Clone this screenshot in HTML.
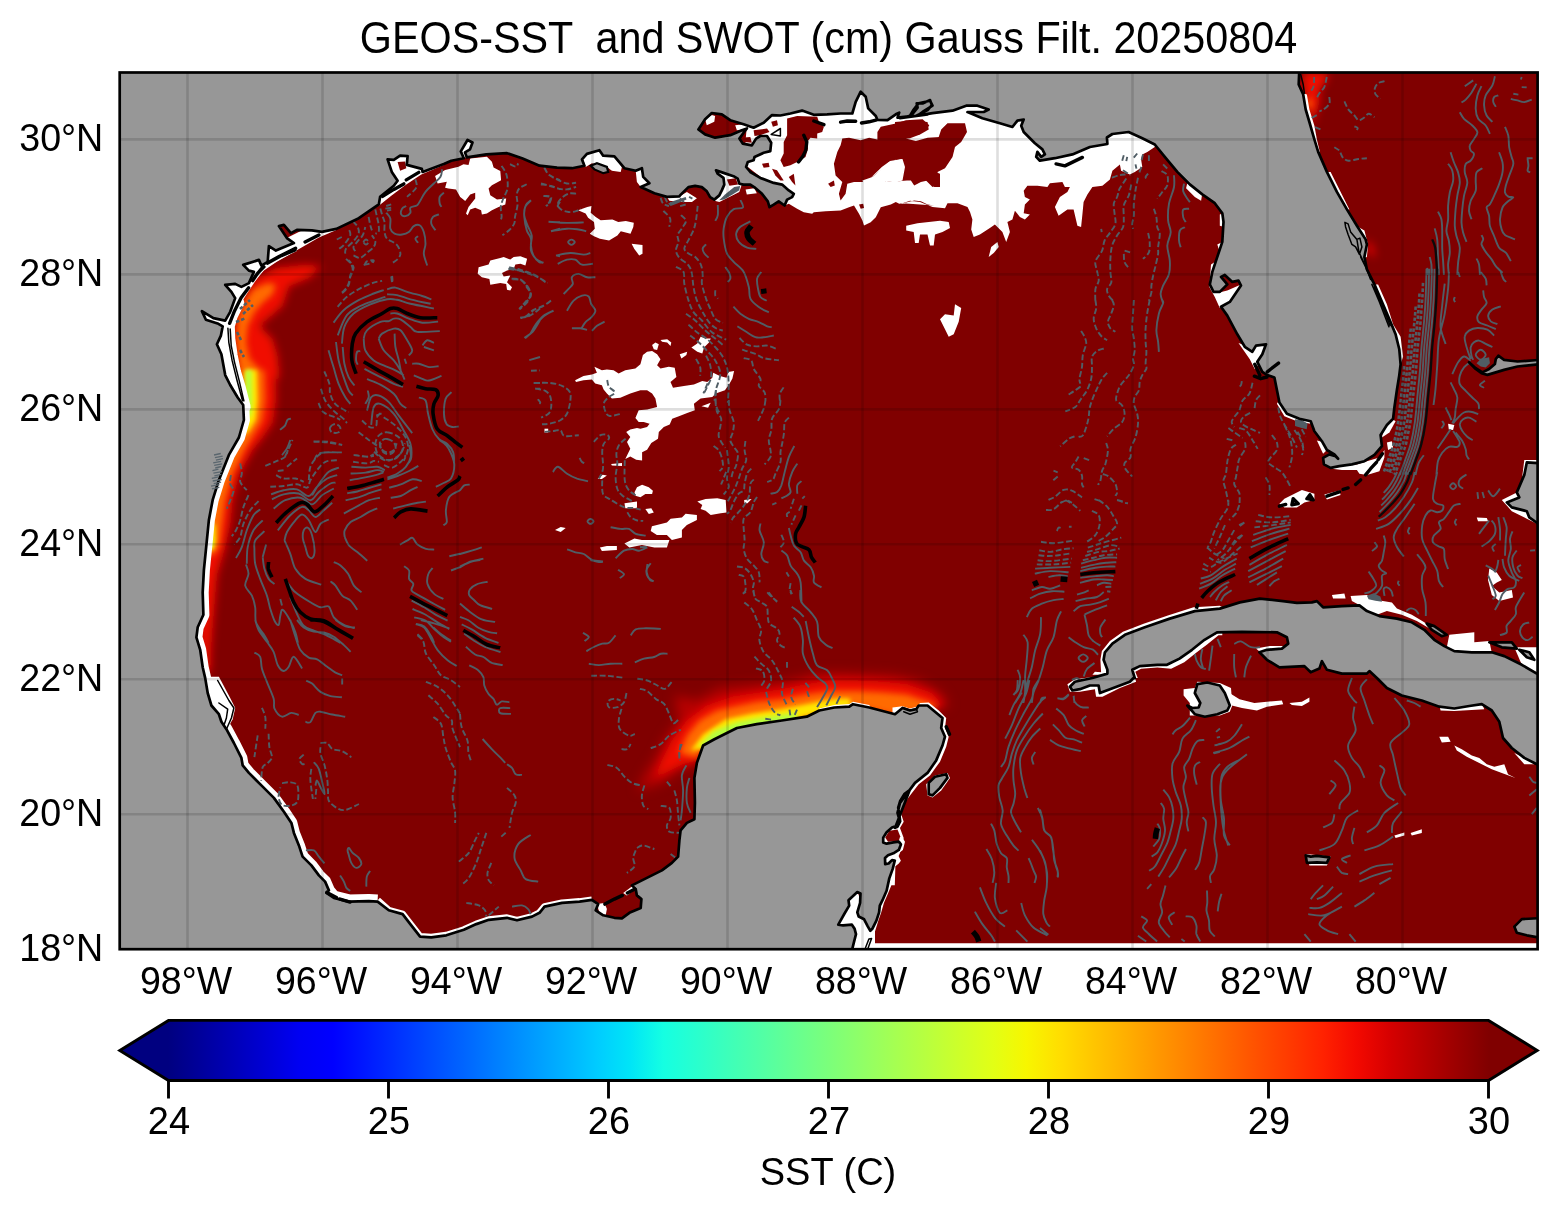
<!DOCTYPE html>
<html><head><meta charset="utf-8"><title>GEOS-SST and SWOT</title>
<style>
html,body{margin:0;padding:0;background:#fff;}
body{width:1555px;height:1213px;position:relative;overflow:hidden;font-family:"Liberation Sans",sans-serif;color:#000;}
svg{position:absolute;left:0;top:0;}
.title{position:absolute;left:0;width:1657px;top:14.2px;text-align:center;font-size:44.4px;line-height:48px;white-space:pre;transform:scaleX(0.9305);transform-origin:50% 50%}
.xt{position:absolute;top:961px;width:120px;text-align:center;font-size:38.4px;line-height:40px;transform:scaleX(0.978);}
.yt{position:absolute;left:0;width:103.3px;text-align:right;font-size:38.4px;line-height:40px;transform:scaleX(0.98);transform-origin:100% 50%}
.ct{position:absolute;top:1101px;width:80px;text-align:center;font-size:38.4px;line-height:40px;transform:scaleX(0.99);}
.cl{position:absolute;top:1152px;left:628px;width:400px;text-align:center;font-size:38.4px;line-height:40px;transform:scaleX(0.99);}
</style></head><body>
<svg width="1555" height="1213" viewBox="0 0 1555 1213">
<defs>
<linearGradient id="jet" x1="0" y1="0" x2="1" y2="0"><stop offset="0.0%" stop-color="#000080"/><stop offset="2.5%" stop-color="#00009c"/><stop offset="5.0%" stop-color="#0000b9"/><stop offset="7.5%" stop-color="#0000d6"/><stop offset="10.0%" stop-color="#0000f3"/><stop offset="12.5%" stop-color="#0000ff"/><stop offset="15.0%" stop-color="#0019ff"/><stop offset="17.5%" stop-color="#0033ff"/><stop offset="20.0%" stop-color="#004dff"/><stop offset="22.5%" stop-color="#0066ff"/><stop offset="25.0%" stop-color="#0080ff"/><stop offset="27.5%" stop-color="#0099ff"/><stop offset="30.0%" stop-color="#00b2ff"/><stop offset="32.5%" stop-color="#00ccff"/><stop offset="35.0%" stop-color="#00e5f7"/><stop offset="37.5%" stop-color="#15ffe2"/><stop offset="40.0%" stop-color="#29ffce"/><stop offset="42.5%" stop-color="#3effb9"/><stop offset="45.0%" stop-color="#52ffa5"/><stop offset="47.5%" stop-color="#67ff90"/><stop offset="50.0%" stop-color="#7bff7b"/><stop offset="52.5%" stop-color="#90ff67"/><stop offset="55.0%" stop-color="#a5ff52"/><stop offset="57.5%" stop-color="#b9ff3e"/><stop offset="60.0%" stop-color="#ceff29"/><stop offset="62.5%" stop-color="#e2ff15"/><stop offset="65.0%" stop-color="#f7f600"/><stop offset="67.5%" stop-color="#ffde00"/><stop offset="70.0%" stop-color="#ffc600"/><stop offset="72.5%" stop-color="#ffaf00"/><stop offset="75.0%" stop-color="#ff9700"/><stop offset="77.5%" stop-color="#ff8000"/><stop offset="80.0%" stop-color="#ff6800"/><stop offset="82.5%" stop-color="#ff5000"/><stop offset="85.0%" stop-color="#ff3900"/><stop offset="87.5%" stop-color="#ff2100"/><stop offset="90.0%" stop-color="#f30900"/><stop offset="92.5%" stop-color="#d60000"/><stop offset="95.0%" stop-color="#b90000"/><stop offset="97.5%" stop-color="#9c0000"/><stop offset="100.0%" stop-color="#800000"/></linearGradient>
<clipPath id="ax"><rect x="119.7" y="72.5" width="1417.9" height="876.7"/></clipPath>
<filter id="b5" filterUnits="userSpaceOnUse" x="100" y="50" width="1460" height="920"><feGaussianBlur stdDeviation="6"/></filter><filter id="b4" filterUnits="userSpaceOnUse" x="100" y="50" width="1460" height="920"><feGaussianBlur stdDeviation="4"/></filter><filter id="b3" filterUnits="userSpaceOnUse" x="100" y="50" width="1460" height="920"><feGaussianBlur stdDeviation="3"/></filter><filter id="b2" filterUnits="userSpaceOnUse" x="100" y="50" width="1460" height="920"><feGaussianBlur stdDeviation="2"/></filter>
</defs>
<rect x="119.7" y="72.5" width="1417.9" height="876.7" fill="#979797"/>
<g clip-path="url(#ax)">
<rect x="110" y="60" width="1440" height="900" fill="#800000"/><g filter="url(#b5)" fill="#b80400"><path d="M636.9,790.4 645.7,772.9 655.7,757.9 665.6,738.0 679.4,720.5 674.4,695.5 696.9,700.5 719.4,688.0 744.3,685.5 769.3,683.0 794.3,679.2 819.3,673.0 844.3,673.0 869.3,674.3 895.0,675.5 919.2,680.5 941.7,693.0 949.2,705.5 895.0,715.5 851.8,705.5 819.3,711.7 781.8,721.7 736.9,729.2 714.4,740.5 704.4,746.7 696.9,762.9 681.9,767.9 661.9,782.9Z"/></g><g filter="url(#b4)" fill="#f01000"><path d="M256.0,277.9 275.8,268.0 305.5,264.7 322.0,266.4 308.8,277.9 289.0,286.2 282.4,306.0 269.2,317.5 259.3,325.8 272.5,339.0 277.4,355.5 279.1,372.0 278.7,378.6 231.2,378.6 239.5,372.0 232.9,339.0 234.5,319.2 244.4,296.1Z"/><path d="M245.2,370.0 275.1,370.0 275.9,400.0 272.7,422.5 262.7,437.5 252.7,450.0 238.9,474.9 232.7,499.9 230.2,524.9 225.2,547.4 216.9,574.9 212.7,624.8 210.9,649.8 210.2,672.3 201.4,672.3 198.9,624.8 201.4,574.9 205.2,547.4 207.7,524.9 211.4,499.9 218.9,474.9 231.4,450.0 238.9,437.5 243.4,420.0 243.9,400.0Z"/><path d="M654.4,777.9 661.9,760.4 671.9,740.5 686.9,720.5 706.9,705.5 731.9,696.7 756.8,693.0 781.8,689.2 806.8,684.2 831.8,680.0 856.8,680.5 881.8,681.7 906.7,684.2 931.7,693.0 944.2,705.5 895.0,715.5 851.8,705.5 819.3,711.7 781.8,721.7 736.9,729.2 714.4,740.5 704.4,746.7 696.9,760.4 681.9,764.2Z"/><path d="M1303.2,72.0 1326.9,72.0 1326.9,79.5 1319.4,89.5 1319.4,102.0 1315.7,114.5 1313.2,124.5 1306.9,109.5 1303.2,87.0Z"/><path d="M1365.6,239.4 1371.9,244.4 1375.6,256.9 1369.4,254.4Z"/></g><g filter="url(#b3)" fill="#ff6a00"><path d="M252.7,289.5 267.5,282.9 275.8,284.5 272.5,294.4 262.6,302.7 254.3,312.6 247.7,325.8 246.1,342.3 249.4,358.8 259.3,368.7 262.6,378.6 239.5,378.6 239.5,372.0 236.2,339.0 237.8,319.2 244.4,302.7Z"/><path d="M245.2,370.0 264.4,370.0 265.2,400.0 261.9,421.2 252.7,436.2 245.2,448.7 232.7,473.7 225.2,499.9 221.9,524.9 219.4,546.1 213.9,554.9 205.2,554.9 206.4,524.9 211.4,499.9 218.9,474.9 231.4,450.0 238.9,437.5 243.4,420.0 243.9,400.0Z"/><path d="M679.4,753.0 686.9,735.5 699.4,720.5 716.9,710.5 736.9,706.0 756.8,701.7 781.8,699.2 806.8,694.2 831.8,691.0 856.8,691.0 881.8,692.2 906.7,694.5 931.7,703.0 936.7,708.0 895.0,715.5 851.8,705.5 819.3,711.7 781.8,721.7 736.9,729.2 714.4,740.5 704.4,746.7 696.9,757.9Z"/><path d="M1306.9,98.2 1311.9,99.5 1312.4,107.0 1308.9,109.5Z"/></g><g filter="url(#b2)" fill="#ffe600"><path d="M245.3,372.0 252.7,370.3 254.7,378.6 243.6,378.6Z"/><path d="M245.2,370.0 256.9,370.0 257.7,400.0 255.7,420.0 248.9,431.2 243.2,435.0 243.4,420.0 243.9,400.0Z"/><path d="M208.4,522.4 215.4,524.9 215.9,539.9 213.4,549.9 206.4,549.9Z"/><path d="M690.6,750.5 703.1,734.2 725.6,719.2 751.8,713.5 776.8,709.7 801.8,705.0 821.8,701.0 836.8,698.5 849.3,698.5 851.8,705.5 819.3,713.0 781.8,722.5 736.9,730.0 714.4,741.0 704.4,748.5Z"/></g><g filter="url(#b2)" fill="#b4ff43"><path d="M245.7,370.0 251.4,370.0 251.9,400.0 250.9,415.0 246.9,418.7 245.2,400.0Z"/><path d="M208.2,537.4 212.2,537.4 212.2,547.4 208.2,547.4Z"/><path d="M699.4,745.5 713.1,731.7 735.6,722.5 756.8,718.5 776.8,715.5 794.3,713.0 799.3,718.0 781.8,722.5 736.9,730.0 714.4,741.0 704.4,748.5Z"/></g><g fill="#fff"><path d="M435.1,176.0 445.1,170.1 458.5,166.8 463.5,164.3 468.5,165.1 470.2,158.4 486.9,156.7 491.9,161.8 493.6,167.6 500.3,171.0 501.1,180.2 491.9,185.2 488.6,188.5 490.3,195.2 497.0,199.4 506.2,198.6 505.3,204.4 498.6,206.9 491.9,210.3 486.9,213.6 481.9,214.5 481.1,210.3 475.2,207.8 470.2,209.4 467.7,215.3 466.0,213.6 468.5,206.9 475.2,198.6 475.2,192.7 470.2,194.4 465.2,201.1 460.2,196.9 456.0,189.4 448.4,188.5 445.1,187.7 446.8,181.8 437.6,183.5Z"/><path d="M578.1,210.3 587.3,206.9 591.5,206.1 590.7,212.8 595.7,217.0 600.7,220.3 612.4,219.5 618.3,222.0 625.8,221.1 633.8,222.8 633.3,227.0 630.5,233.7 620.8,231.2 617.4,235.4 609.1,240.4 599.9,238.7 594.0,236.2 589.8,233.7 594.8,228.7 594.0,222.0 588.1,217.8 585.6,213.6Z"/><path d="M631.6,243.7 642.5,245.1 642.5,253.8 639.2,255.4 634.2,248.8Z"/><path d="M478.6,267.2 488.6,264.6 490.3,260.5 500.3,258.0 503.7,257.1 510.3,259.6 513.7,257.1 520.4,256.3 527.1,258.8 525.4,265.5 520.4,263.8 515.4,264.6 513.7,268.8 507.0,270.5 502.0,273.0 503.7,276.4 510.3,275.5 507.0,282.2 512.0,287.2 510.3,290.6 507.0,289.7 506.2,283.9 500.3,283.0 490.3,284.7 489.4,278.9 481.9,277.2 477.7,273.8Z"/><path d="M575.1,380.2 583.5,376.0 591.9,374.4 596.9,372.7 594.4,366.8 601.9,370.2 606.9,369.4 613.6,370.2 618.6,373.5 625.3,370.2 635.4,368.5 640.4,364.3 642.9,355.1 647.1,351.8 652.1,351.0 657.1,354.3 660.5,359.3 657.1,365.2 660.5,368.5 668.8,366.8 674.7,367.7 676.4,376.9 670.5,381.9 673.0,387.8 683.9,386.1 693.9,384.4 702.3,381.1 707.3,381.9 712.3,377.7 713.2,372.7 719.9,376.0 726.5,377.7 728.2,371.9 734.1,371.0 732.4,378.6 729.1,384.4 724.9,390.3 715.7,393.6 712.3,397.0 700.6,398.6 693.9,403.7 694.8,410.3 687.2,412.9 678.9,416.2 672.2,418.7 669.7,424.6 663.8,427.1 658.8,432.1 658.0,438.8 651.3,443.0 647.1,449.7 642.1,452.2 642.1,460.5 636.2,459.7 630.3,456.4 625.3,458.9 630.3,448.8 627.0,442.1 630.3,437.1 626.2,432.1 630.3,429.6 637.0,427.9 640.4,428.8 647.1,427.1 649.6,423.7 643.7,422.1 638.7,422.1 635.4,417.9 638.7,410.3 647.1,409.5 657.1,407.0 655.4,398.6 652.1,393.6 647.1,390.3 640.4,390.3 630.3,393.6 620.3,397.8 611.9,398.6 606.9,393.6 603.6,389.4 601.9,385.3 595.2,383.6 591.9,379.4 583.5,380.2 576.0,381.9Z"/><path d="M652.1,345.1 655.4,342.6 658.8,344.3 657.1,350.1 653.8,349.3Z"/><path d="M660.5,340.1 667.2,339.2 671.3,342.6 670.5,345.9 667.2,342.6 662.1,341.8Z"/><path d="M691.4,347.6 697.3,343.4 700.6,336.7 705.6,338.4 710.7,338.4 709.0,342.6 704.0,347.6 702.3,353.5 697.3,351.8Z"/><path d="M679.7,354.3 687.2,351.8 686.4,355.1 681.4,358.5Z"/><path d="M634.5,492.3 637.0,487.3 642.1,484.8 648.8,487.3 652.9,490.7 652.1,494.0 645.4,494.0 640.4,497.3 635.4,495.7Z"/><path d="M697.3,501.5 705.6,499.0 717.3,498.2 725.7,499.9 726.5,512.4 720.7,513.2 710.7,514.9 705.6,510.7 700.6,509.1 702.3,504.9Z"/><path d="M624.5,503.2 637.0,501.5 637.0,508.2 625.3,508.2Z"/><path d="M645.4,509.1 651.3,508.2 653.8,512.4 648.8,514.1Z"/><path d="M597.7,478.9 602.7,474.8 606.9,475.6 601.9,478.9Z"/><path d="M611.1,463.9 622.0,463.0 622.0,465.9 611.9,465.6Z"/><path d="M744.1,499.9 751.6,499.0 747.5,503.2 744.5,503.2Z"/><path d="M701.5,406.2 710.7,402.8 708.1,407.8Z"/><path d="M651.9,526.2 666.9,522.4 670.6,518.7 681.9,517.4 685.6,513.7 696.9,514.9 696.9,519.9 686.9,524.9 681.9,529.9 681.9,537.4 671.9,539.9 666.9,534.9 656.9,534.9 650.7,531.1Z"/><path d="M624.4,543.6 634.4,538.6 641.9,539.9 656.9,539.9 669.4,539.9 666.9,547.4 654.4,547.4 641.9,544.9 629.4,547.4Z"/><path d="M599.9,547.4 606.9,546.1 616.9,546.1 616.9,549.9 601.9,551.1Z"/><path d="M555.0,529.9 560.7,526.9 565.7,527.9 560.7,531.9Z"/><path d="M544.5,428.7 548.2,428.7 548.2,432.5 544.5,432.5Z"/><path d="M784.6,205.5 788.8,203.8 797.1,208.8 803.8,212.2 812.2,213.8 813.8,212.2 825.6,211.3 840.6,210.5 849.0,207.2 854.0,205.5 859.0,213.8 862.4,220.5 864.0,225.6 870.7,222.2 875.8,217.2 880.8,207.2 890.8,204.6 895.8,202.1 899.2,203.8 904.2,203.0 914.2,200.5 920.9,201.3 927.6,204.6 934.3,205.5 902.5,203.2 910.0,200.7 920.0,201.9 932.5,206.9 945.0,208.2 947.5,203.2 957.5,203.2 967.5,206.9 970.0,211.9 972.4,219.4 971.2,229.4 973.7,236.9 979.9,234.4 989.9,228.1 994.9,224.4 1002.4,231.9 1006.2,241.9 1009.9,231.9 1007.4,221.9 1012.4,219.4 1014.9,210.7 1019.9,216.9 1024.9,219.4 1029.9,214.4 1023.7,213.2 1024.9,204.4 1029.9,199.4 1024.9,196.9 1023.7,190.7 1027.4,185.7 1037.4,185.7 1047.4,186.9 1049.9,183.2 1062.4,181.9 1064.9,186.9 1069.9,186.9 1067.4,191.9 1059.9,196.9 1054.9,206.9 1058.6,215.7 1067.4,209.4 1073.6,209.4 1077.4,225.7 1081.1,226.9 1082.4,214.4 1083.6,201.9 1087.4,194.4 1092.4,186.9 1102.4,185.7 1109.9,179.4 1112.4,170.7 1119.9,164.4 1121.1,170.7 1129.8,174.4 1134.8,171.9 1142.3,166.9 1141.1,159.4 1142.3,154.4 1147.3,151.9 1154.8,147.0 1154.8,132.0 1119.9,122.0 1044.9,147.0 1019.9,109.5 970.0,97.0 895.0,97.0 864.0,86.7 797.1,105.1 746.9,125.2 743.6,163.7 773.7,187.1Z"/><path d="M906.2,225.7 917.5,223.2 940.0,220.7 948.7,221.9 950.0,228.1 942.5,231.9 935.0,234.4 933.7,245.6 930.0,245.6 927.5,234.4 920.0,234.4 918.7,243.1 915.0,243.1 913.7,231.9 906.2,230.6Z"/><path d="M988.7,256.9 991.2,246.9 997.4,241.9 998.7,246.9 993.7,253.1Z"/><path d="M940.0,319.3 945.0,314.3 953.7,315.6 955.0,304.3 961.2,308.1 958.7,321.8 953.7,334.3 948.7,336.8 945.0,329.3Z"/><path d="M232.7,375.1 229.4,346.8 230.2,326.8 235.2,309.3 243.9,294.4 253.9,281.9 263.9,270.6 276.4,261.9 296.4,250.6 318.9,237.4 336.4,229.9 318.9,221.9 218.9,271.9 194.0,321.8 218.9,375.1Z"/><path d="M378.8,205.7 391.3,195.7 406.3,184.4 421.3,174.4 443.8,164.9 431.3,147.0 381.3,154.4Z"/><path d="M460.0,158.2 468.8,156.9 473.8,139.5 463.8,137.0Z"/><path d="M228.3,325.8 228.8,339.0 231.2,355.5 234.5,372.0 239.5,388.5 242.8,401.6 245.3,407.4 239.5,404.9 223.0,376.9 214.7,343.9 223.0,325.8Z"/><path d="M583.2,159.4 586.9,154.4 599.4,150.7 603.2,156.4 614.4,156.9 621.9,166.9 620.7,171.9 611.9,170.7 606.9,166.9 591.9,163.2 585.7,166.9Z"/><path d="M635.7,170.7 641.9,168.2 643.2,176.9 649.4,183.2 640.7,186.9 636.9,181.9Z"/><path d="M715.6,170.7 724.4,173.2 736.9,176.9 741.8,184.4 739.3,191.9 729.4,196.9 719.4,201.9 714.4,200.7 719.4,194.4 721.9,179.4Z"/><path d="M666.9,196.9 679.4,196.4 686.9,191.9 696.9,198.2 691.9,201.9 679.4,201.9 669.4,200.7Z"/><path d="M745.6,189.4 754.3,188.2 756.8,193.2 746.8,194.4Z"/><path d="M857.3,890.7 847.1,900.2 836.3,926.1 854.6,930.1 849.9,953.3 875.0,953.3 875.0,931.5 878.4,920.6 881.2,912.4 883.9,902.9 888.0,893.4 891.4,885.2 894.8,885.2 895.4,866.2 898.8,863.5 900.9,860.7 897.5,853.9 902.9,849.9 905.0,841.7 901.6,836.3 897.5,830.8 900.2,824.0 896.1,824.0 882.5,836.3 882.5,866.2 871.6,912.4 866.2,917.9Z"/><path d="M875.0,943.3 1540.0,943.3 1540.0,952.0 875.0,952.0Z"/><path d="M1331.9,594.9 1344.4,593.6 1345.6,598.6 1333.1,598.6Z"/><path d="M1350.6,596.1 1366.9,594.9 1376.9,599.9 1391.9,602.4 1396.9,608.6 1411.8,614.8 1424.3,622.3 1431.8,629.8 1416.8,621.1 1401.8,614.8 1386.9,611.1 1376.9,614.8 1366.9,611.1 1359.4,604.9 1351.9,601.1Z"/><path d="M1449.3,634.8 1474.3,632.3 1474.3,642.3 1489.3,641.1 1491.8,652.8 1454.3,651.8 1446.8,647.3Z"/><path d="M1514.3,647.3 1541.8,647.3 1541.8,674.8 1521.8,664.8Z"/><path d="M1331.9,468.7 1341.9,465.4 1356.9,464.4 1366.9,461.2 1379.4,457.4 1384.4,450.0 1384.4,457.4 1379.4,471.2 1366.9,474.9 1359.4,473.7 1356.9,469.9 1341.9,469.9Z"/><path d="M1279.4,503.7 1284.4,498.7 1291.9,494.9 1301.9,489.9 1314.4,493.7 1314.4,499.9 1304.4,502.4 1296.9,507.4 1284.4,507.4Z"/><path d="M1324.4,494.4 1339.4,490.4 1340.6,494.9 1326.9,499.4Z"/><path d="M1384.4,425.0 1391.9,418.7 1395.6,421.2 1389.4,432.5 1381.9,437.5Z"/><path d="M1386.9,442.5 1391.9,441.2 1393.1,447.5 1388.1,450.0Z"/><path d="M1316.9,440.5 1323.1,442.0 1326.9,450.0 1323.1,453.7Z"/><path d="M1279.4,400.0 1286.9,412.5 1299.4,418.0 1309.4,420.0 1310.7,423.7 1296.9,421.2 1284.4,416.2 1276.9,403.7Z"/><path d="M1489.3,568.6 1496.8,572.4 1501.8,579.9 1496.8,582.4 1491.8,586.1 1499.3,592.4 1511.8,589.9 1513.0,597.4 1499.3,601.1 1491.8,594.9 1488.0,579.9Z"/><path d="M1476.8,517.4 1486.8,517.9 1488.0,521.2 1478.0,521.2Z"/><path d="M1448.1,423.7 1454.3,425.0 1453.1,430.0 1448.8,429.5Z"/><path d="M1501.8,499.9 1516.8,492.4 1521.8,479.9 1524.3,459.9 1536.8,459.9 1536.8,464.9 1528.0,463.7 1525.5,474.9 1519.3,497.4 1508.0,502.9 1513.0,506.9 1528.0,510.4 1530.5,516.9 1536.8,523.7 1526.8,518.7 1511.8,511.2Z"/><path d="M1439.3,736.7 1448.1,736.7 1450.6,741.7 1441.8,742.5Z"/><path d="M1454.3,745.5 1461.8,749.2 1471.8,755.4 1479.3,757.9 1486.8,764.2 1494.3,766.7 1504.3,764.2 1508.0,774.2 1515.5,777.9 1501.8,772.9 1491.8,769.2 1479.3,762.9 1466.8,756.7 1456.8,750.5Z"/><path d="M1394.4,835.4 1404.3,832.4 1404.3,835.4 1395.6,837.9Z"/><path d="M1410.6,832.9 1421.8,829.2 1421.8,832.9 1411.8,835.4Z"/><path d="M1229.5,693.0 1239.5,699.2 1254.4,703.0 1266.9,701.7 1281.9,700.5 1283.2,704.2 1266.9,706.7 1256.9,710.5 1242.0,708.0 1232.0,705.5Z"/><path d="M1289.4,703.0 1301.9,701.7 1309.4,697.5 1309.4,701.7 1301.9,706.0 1291.9,705.0Z"/><path d="M1305.7,854.1 1330.6,856.6 1326.9,865.4 1309.4,865.4Z"/><path d="M1439.3,705.5 1454.3,707.5 1481.8,703.5 1484.3,709.2 1454.3,711.0 1440.6,710.5Z"/><path d="M1514.3,753.0 1526.8,759.2 1534.3,764.2 1524.3,764.2Z"/><path d="M1067.4,684.2 1074.9,679.2 1094.9,676.8 1134.8,676.8 1136.1,681.7 1119.9,688.0 1102.4,696.7 1096.1,696.7 1094.9,689.2 1079.9,691.7 1069.9,691.7Z"/><path d="M1183.6,689.2 1194.8,688.0 1197.3,681.7 1219.8,683.0 1231.0,688.0 1232.3,705.5 1229.8,711.7 1219.8,715.5 1189.8,715.5 1189.8,703.0 1183.6,695.5Z"/><path d="M926.2,784.2 935.0,775.4 947.5,772.9 950.0,777.9 941.2,790.4 932.5,797.4 927.5,795.4Z"/><path d="M892.5,707.5 902.5,706.2 910.0,708.5 917.5,706.5 920.0,703.0 928.7,702.5 938.7,710.5 946.2,718.0 945.0,728.0 948.7,736.7 946.2,746.7 940.0,761.7 930.0,775.4 918.7,784.2 910.0,795.4 903.7,804.2 901.2,814.2 903.7,821.7 900.0,827.9 903.7,837.9 900.0,852.9 895.0,862.9 892.5,862.9Z"/><path d="M1101.1,672.3 1100.4,659.8 1101.9,651.1 1109.9,641.1 1122.9,631.8 1143.6,623.8 1168.6,615.3 1193.6,607.3 1219.8,605.8 1224.8,608.6 1219.8,612.3 1144.8,631.1 1114.9,647.3 1107.4,674.8 1092.4,674.8 1094.9,671.8Z"/><path d="M1137.8,678.1 1135.3,671.8 1141.1,668.8 1157.3,667.6 1171.1,668.8 1184.3,662.3 1196.8,652.3 1206.8,644.8 1218.5,635.3 1222.3,635.3 1222.3,631.1 1204.8,639.8 1182.3,657.3 1157.3,662.3 1132.3,667.3 1133.6,678.1Z"/><path d="M1256.0,648.6 1269.8,646.1 1283.0,646.1 1283.0,652.3 1264.8,656.1Z"/><path d="M1187.3,183.2 1202.3,193.2 1201.1,200.7 1194.8,196.9 1186.1,188.2Z"/><path d="M1219.8,214.4 1223.5,213.2 1224.3,226.9 1219.8,225.7Z"/><path d="M1217.3,244.4 1222.3,241.9 1219.8,251.9Z"/><path d="M1211.0,264.4 1214.8,261.9 1212.3,284.4 1217.3,293.1 1227.3,290.6 1241.0,284.4 1229.8,303.1 1219.8,308.1 1214.8,296.9 1209.3,286.9Z"/><path d="M1238.5,343.1 1244.8,345.6 1252.3,350.6 1257.3,344.3 1267.3,343.8 1262.3,359.3 1254.8,369.3 1249.8,359.3Z"/><path d="M1303.2,93.2 1306.9,94.5 1309.4,109.5 1314.4,125.7 1316.9,139.5 1319.9,151.9 1316.9,152.4 1311.9,132.0 1305.7,109.5Z"/><path d="M1326.9,171.9 1330.6,171.9 1341.9,194.4 1349.4,209.4 1345.6,209.4 1336.9,191.9Z"/><path d="M1344.9,221.9 1351.9,223.2 1364.4,230.6 1368.1,244.4 1366.9,256.9 1364.4,258.1 1361.9,246.9 1356.9,241.9 1350.6,234.4Z"/><path d="M1374.4,284.4 1378.1,284.4 1386.9,304.3 1393.1,324.3 1400.6,336.8 1403.1,356.8 1400.6,364.3 1395.6,334.3 1381.9,301.9Z"/><path d="M205.2,676.8 218.9,676.8 230.2,698.0 235.2,708.0 232.7,719.2 226.4,730.5 218.9,715.5Z"/></g><g fill="#800000"><path d="M895.0,122.0 910.0,120.7 927.5,122.0 928.7,129.5 920.0,134.5 910.0,138.2 900.0,139.5 895.0,137.0Z"/><path d="M941.2,129.5 947.5,123.2 965.0,123.2 967.0,132.0 961.2,142.0 955.0,147.0 952.5,156.9 945.0,168.2 937.5,171.9 938.7,184.4 932.5,186.9 922.5,176.9 910.0,179.4 895.0,181.9 885.0,181.9 885.0,159.4 895.0,159.4 905.0,154.4 907.5,144.5 920.0,140.7 932.5,143.2 938.7,137.0Z"/><path d="M842.3,138.6 849.0,137.7 860.7,140.2 869.1,137.7 877.4,139.4 877.4,131.9 880.8,126.8 895.8,123.5 905.9,120.2 922.6,119.3 929.3,125.2 925.9,130.2 914.2,133.5 905.9,138.6 915.9,141.1 927.6,137.7 940.0,136.9 940.0,170.3 931.0,168.7 920.9,163.7 910.9,158.6 902.5,162.0 895.8,159.5 889.1,162.0 880.8,170.3 872.4,178.7 864.0,182.1 854.0,182.1 847.3,183.7 845.6,193.8 840.6,200.5 838.9,193.8 842.3,182.1 835.6,175.4 833.9,163.7 837.3,151.9 840.6,145.3Z"/><path d="M897.5,180.4 912.6,175.4 920.9,175.4 931.0,170.3 940.0,173.7 940.0,187.1 934.3,187.1 927.6,180.4 920.9,182.1 914.2,185.4 910.9,180.4Z"/><path d="M783.7,141.9 787.1,135.2 787.1,118.5 797.1,116.0 817.2,116.8 818.9,121.8 823.9,126.8 822.2,131.9 817.2,133.5 817.2,138.6 810.5,137.7 807.2,141.9 808.0,148.6 805.5,157.0 797.1,162.0 790.4,165.3 783.7,167.0 780.4,160.3 783.7,153.6Z"/><path d="M762.0,163.7 768.7,162.8 769.5,167.0 763.7,167.8Z"/><path d="M771.2,121.8 777.0,120.2 777.9,125.2 772.9,126.8Z"/><path d="M753.6,130.2 767.0,128.5 769.5,131.9 760.3,135.2 754.5,136.0Z"/><path d="M705.1,119.3 711.8,115.1 721.8,116.0 730.2,121.8 736.9,125.2 735.2,129.4 728.5,133.5 715.1,135.2 705.1,131.9 701.8,128.5Z"/><path d="M741.1,137.7 750.3,136.9 751.9,142.7 744.4,141.9Z"/><path d="M772.0,168.7 777.0,170.3 783.7,180.4 780.4,180.4 775.4,175.4Z"/><path d="M788.8,177.0 793.8,173.7 795.4,185.4 792.1,182.1Z"/><path d="M828.1,183.7 833.9,180.4 834.8,185.4 830.6,187.1Z"/><path d="M859.0,204.6 863.2,203.8 864.0,208.0 860.7,208.8Z"/><path d="M397.6,161.9 405.1,161.4 406.3,168.2 400.1,170.7Z"/><path d="M726.9,179.4 735.6,178.2 738.1,184.4 729.4,185.7Z"/><path d="M604.4,906.6 611.9,901.6 624.4,897.9 635.7,895.4 640.7,900.4 639.4,906.6 629.4,911.6 621.9,916.6 606.9,914.1 603.2,910.3Z"/><path d="M889.3,830.8 897.5,829.5 900.2,836.3 898.8,841.0 888.0,841.7 885.2,837.6Z"/></g><g fill="#fff"><path d="M819.3,708.5 834.3,705.0 849.3,704.0 853.0,701.7 869.3,705.0 871.8,709.2 853.0,706.7 849.3,709.2 834.3,710.0 820.5,713.0Z"/><path d="M596.9,904.1 604.4,902.9 606.9,909.1 605.7,915.3 599.4,912.8Z"/><path d="M623.2,892.9 631.9,886.6 635.7,889.1 626.9,895.4Z"/><path d="M870.0,178.6 881.8,166.9 890.1,161.1 901.8,158.9 903.5,166.9 897.6,180.3 885.1,182.3 885.1,166.9Z"/><path d="M879.1,171.2 889.1,162.0 902.5,159.0 905.0,167.0 902.5,180.4 895.8,182.4 880.8,180.4 872.4,180.4 864.0,184.6 862.4,180.4 872.4,177.0Z"/><path d="M705.1,119.3 711.8,115.1 715.1,116.0 714.3,121.8 706.8,125.2Z"/><path d="M735.2,125.2 743.6,124.3 753.6,127.7 746.9,128.9 736.9,130.2Z"/></g><path d="M243.2,405.0 243.9,420.0 238.9,437.5 228.9,454.9 218.9,479.9 212.7,499.9 208.9,519.9 206.4,544.9 203.9,569.9 202.7,592.4 203.4,614.8 197.7,627.3 196.4,637.3 200.2,649.8 202.7,667.3 205.2,678.1 207.7,693.0 211.4,705.5 218.9,714.2 221.4,721.7 226.4,729.2 233.9,743.0 241.4,757.9 242.7,765.4 248.9,772.9 261.4,785.4 273.9,797.9 283.9,811.7 291.4,822.9 293.9,832.9 298.9,845.4 302.6,856.6 311.4,865.4 318.9,875.4 325.1,881.6 328.9,890.4 333.9,896.6 348.9,900.4 368.8,899.9 377.6,900.4" fill="none" stroke="#fff" stroke-width="12" stroke-linejoin="round"/><path d="M377.6,900.4 388.8,910.3 402.6,914.1 411.3,925.3 420.1,936.6 431.3,937.3 446.3,935.3 463.8,929.8 476.3,924.1 488.8,919.8 507.0,917.8 517.0,920.3 532.0,916.6 539.5,912.8 544.5,906.6 562.0,902.9 579.5,901.6 591.9,899.9" fill="none" stroke="#fff" stroke-width="7" stroke-linejoin="round"/><path d="M295.6,248.2 279.1,256.5 262.6,266.4 252.7,279.6 246.1,289.5 237.8,302.7" fill="none" stroke="#fff" stroke-width="6" stroke-linejoin="round"/><path d="M237.8,302.7 231.2,315.9 228.3,325.8 228.8,339.0 231.2,355.5 234.5,372.0 239.5,388.5 242.8,401.6 244.1,406.6" fill="none" stroke="#fff" stroke-width="13" stroke-linejoin="round" stroke-linecap="round"/><path d="M333.5,322.7C335.2,320.6 339.4,313.9 343.6,310.2C347.8,306.4 353.6,303.0 358.6,300.2C363.6,297.4 369.5,295.2 373.7,293.5C377.9,291.8 382.0,290.7 383.7,290.1M387.1,289.3C388.5,289.0 392.0,287.2 395.4,287.6C398.8,288.0 402.7,290.4 407.2,291.8C411.7,293.2 418.2,294.8 422.2,296.0C426.2,297.2 429.9,298.8 431.4,299.3M387.1,294.3C388.8,294.4 393.2,294.3 397.1,295.1C401.0,295.9 404.9,297.9 410.5,299.3C416.1,300.8 427.2,303.1 430.6,303.8M337.7,335.3C339.2,331.9 343.1,320.1 346.9,315.2C350.7,310.3 355.6,308.5 360.3,306.0C365.1,303.5 371.2,301.7 375.4,300.2C379.6,298.7 383.7,297.4 385.4,296.8M328.5,350.3C329.3,353.1 331.8,361.5 333.5,367.1C335.2,372.7 336.6,378.8 338.6,383.8C340.6,388.8 343.4,393.9 345.3,397.2C347.2,400.5 349.5,402.8 350.3,403.9M336.0,342.0C336.4,345.1 337.3,354.5 338.6,360.4C339.9,366.2 341.9,372.1 343.6,377.1C345.3,382.1 347.1,387.4 348.6,390.5C350.1,393.6 352.1,394.7 352.8,395.5M341.9,343.7C342.3,340.9 342.4,331.9 344.4,326.9C346.3,321.9 349.3,317.3 353.6,313.5C357.9,309.7 364.7,306.7 370.3,304.3C375.9,301.9 382.6,300.1 387.1,299.3C391.6,298.6 393.2,299.1 397.1,299.8C401.0,300.6 404.4,302.4 410.5,303.8C416.6,305.2 430.0,307.7 433.9,308.5M342.7,347.0C343.0,349.8 343.4,358.7 344.4,363.7C345.4,368.7 346.9,373.5 348.6,377.1C350.3,380.7 353.5,384.1 354.5,385.5M390.4,313.5C391.5,313.5 394.0,312.6 397.1,313.5C400.2,314.4 404.6,317.1 408.8,318.6C413.0,320.1 417.3,322.2 422.2,322.7C427.1,323.2 435.5,321.8 438.1,321.6M363.7,338.6C364.2,337.2 364.2,333.1 367.0,330.3C369.8,327.5 376.8,323.4 380.4,321.9C384.0,320.4 386.6,321.7 388.8,321.1C391.0,320.6 391.9,318.9 393.8,318.6C395.8,318.3 397.7,318.0 400.5,319.4C403.3,320.8 407.7,324.8 410.5,326.9C413.3,329.0 412.3,331.2 417.2,331.9C422.1,332.6 436.0,331.2 439.8,331.1M363.7,338.6C364.0,340.6 363.6,346.7 365.3,350.3C367.0,353.9 370.6,357.9 373.7,360.4C376.8,362.9 380.1,363.7 383.7,365.4C387.3,367.1 392.0,368.7 395.4,370.4C398.8,372.1 402.4,374.6 403.8,375.4M378.7,338.6C379.3,337.8 379.6,335.3 382.1,333.6C384.6,331.9 390.7,329.2 393.8,328.6C396.9,328.1 398.3,328.4 400.5,330.3C402.7,332.2 405.2,337.0 407.2,340.3C409.1,343.6 411.9,347.8 412.2,350.3C412.5,352.8 409.4,354.5 408.8,355.4M378.7,338.6C379.5,340.6 381.2,346.7 383.7,350.3C386.2,353.9 391.0,357.0 393.8,360.4C396.6,363.8 398.7,367.2 400.5,370.4C402.3,373.6 403.9,378.1 404.6,379.6M394.6,333.6C394.7,335.8 394.7,342.5 395.4,347.0C396.1,351.5 397.8,355.9 398.8,360.4C399.8,364.9 400.9,371.6 401.3,373.8M364.5,368.8C367.1,370.2 375.5,374.6 380.4,377.1C385.3,379.6 390.0,382.2 393.8,383.8C397.6,385.4 401.5,386.3 403.0,386.8M367.0,379.1C369.2,380.0 375.9,382.2 380.4,384.6C384.9,387.1 390.4,390.6 393.8,393.8C397.2,397.0 398.4,401.5 400.5,403.9C402.6,406.3 405.3,407.4 406.3,408.1M412.2,363.7C413.3,363.7 416.1,363.1 418.9,363.7C421.7,364.3 425.6,366.7 428.9,367.1C432.2,367.5 437.0,366.4 438.6,366.2M413.8,375.4C415.2,376.0 419.7,377.9 422.2,378.8C424.7,379.7 425.7,381.0 428.9,380.5C432.1,380.0 439.4,376.6 441.5,375.8M418.9,397.5C420.0,398.0 424.1,397.8 425.6,400.5C427.1,403.2 427.0,409.1 428.1,413.9C429.2,418.6 430.5,424.8 432.3,429.0C434.1,433.2 436.4,436.5 438.9,439.0C441.4,441.5 444.9,441.8 447.3,444.0C449.7,446.2 452.1,449.2 453.2,452.4C454.3,455.5 453.9,461.1 454.0,462.9M451.5,392.2C450.5,393.3 446.9,395.3 445.6,398.9C444.4,402.5 443.9,409.7 444.0,413.9C444.1,418.1 445.1,421.8 446.5,424.0C447.9,426.2 450.3,426.6 452.3,427.0C454.3,427.4 457.6,426.6 458.7,426.5M367.8,390.5C367.9,391.6 369.1,395.0 368.7,397.2C368.3,399.4 365.9,402.8 365.3,403.9M367.0,410.6C367.7,408.4 369.2,399.7 371.2,397.2C373.1,394.7 375.8,394.7 378.7,395.5C381.6,396.3 385.4,398.8 388.8,402.2C392.2,405.6 394.9,410.4 398.8,415.6C402.7,420.8 410.0,430.3 412.2,433.2M371.2,424.8C371.6,421.9 372.2,410.7 373.7,407.2C375.2,403.7 377.0,402.8 380.4,403.9C383.8,405.0 389.9,409.4 393.8,413.9C397.7,418.4 401.0,425.7 403.8,430.7C406.6,435.7 409.2,439.6 410.5,444.0C411.8,448.4 411.6,454.2 411.3,457.4C411.0,460.5 409.2,462.0 408.8,462.9M422.5,345.3C423.3,344.5 425.3,340.7 427.2,340.3C429.1,339.9 432.8,342.4 433.9,342.8M423.9,347.0 L433.9,350.3M360.3,351.2C359.8,351.3 357.7,350.5 357.0,352.0C356.3,353.5 356.0,358.3 356.1,360.4C356.2,362.5 357.5,363.9 357.8,364.6M280.0,429.8C280.8,429.1 283.8,427.3 285.0,425.6C286.2,423.9 286.5,421.0 287.5,419.8C288.5,418.6 290.3,418.8 290.9,418.6M524.3,337.8C525.7,336.8 530.0,334.8 532.6,331.9C535.2,329.0 538.8,322.1 540.0,320.2M529.3,360.1 L540.0,357.0M404.6,358.7 L406.3,363.7M271.1,494.4C273.2,493.7 279.4,491.0 283.7,490.2C288.0,489.4 292.8,488.4 297.0,489.4C301.2,490.4 305.4,496.4 308.8,496.0C312.2,495.6 314.0,489.7 317.1,486.8C320.2,483.9 323.9,480.4 327.2,478.5C330.5,476.6 335.5,475.7 337.2,475.1M271.9,499.4C273.9,498.6 279.2,495.4 283.7,494.4C288.2,493.4 294.2,492.5 298.7,493.5C303.1,494.5 307.0,500.5 310.4,500.2C313.8,499.9 315.4,494.7 318.8,491.9C322.2,489.1 327.7,485.0 330.5,483.5C333.3,482.0 334.7,482.8 335.5,482.7M273.6,508.6C275.6,507.2 280.8,502.0 285.3,500.2C289.8,498.4 295.9,497.0 300.4,497.7C304.9,498.4 308.5,504.8 312.1,504.4C315.7,504.0 318.5,497.8 322.1,495.2C325.7,492.6 331.9,489.6 333.8,488.5M277.8,530.3C279.9,527.8 286.2,519.2 290.3,515.3C294.4,511.4 299.0,507.7 302.1,506.9C305.2,506.1 306.6,508.6 308.8,510.3C311.0,512.0 312.9,517.0 315.4,517.0C317.9,517.0 321.0,512.7 323.8,510.3C326.6,507.9 330.8,504.0 332.2,502.7M312.1,495.2C313.5,493.0 317.7,485.7 320.5,481.8C323.3,477.9 325.7,474.2 328.8,471.8C331.9,469.4 337.2,468.3 338.9,467.6M284.5,540.4C284.9,539.0 285.2,535.4 287.0,532.0C288.8,528.6 292.9,523.2 295.4,520.3C297.9,517.4 299.9,514.5 302.1,514.5C304.3,514.5 306.6,517.4 308.8,520.3C311.0,523.2 313.4,531.4 315.4,532.0C317.3,532.6 318.3,525.8 320.5,523.7C322.7,521.6 327.4,520.2 328.8,519.5M284.5,540.4C285.5,542.6 288.5,549.1 290.3,553.8C292.1,558.5 292.9,564.6 295.4,568.8C297.9,573.0 301.1,576.2 305.4,578.9C309.7,581.5 318.6,583.7 321.3,584.7M303.7,530.3C304.5,528.5 306.5,526.9 307.9,527.8C309.3,528.6 311.0,531.6 312.1,535.4C313.2,539.2 314.6,546.6 314.6,550.4C314.6,554.2 313.2,557.2 312.1,558.0C311.0,558.8 309.0,557.2 307.9,555.4C306.8,553.6 306.2,549.9 305.4,547.1C304.6,544.3 303.2,541.5 302.9,538.7C302.6,535.9 302.9,532.1 303.7,530.3M236.0,558.0C237.0,556.2 240.0,551.7 241.8,547.1C243.6,542.5 244.9,535.6 246.8,530.3C248.8,525.0 251.3,518.8 253.5,515.3C255.7,511.8 259.1,510.4 260.2,509.4M246.8,563.8C247.0,561.0 246.6,552.7 247.7,547.1C248.8,541.5 251.0,534.8 253.5,530.3C256.0,525.8 261.2,522.0 262.7,520.3M246.0,564.6C246.4,566.1 248.6,570.3 248.5,573.8C248.4,577.3 244.6,582.0 245.2,585.6C245.8,589.2 250.2,592.0 251.9,595.6C253.6,599.2 254.5,602.8 255.2,607.3C255.9,611.8 254.6,617.9 256.0,622.4C257.4,626.9 261.5,630.7 263.6,634.1C265.7,637.5 267.8,641.4 268.6,642.9M254.4,548.8C254.5,547.4 253.5,543.3 255.2,540.4C256.9,537.5 262.9,532.7 264.4,531.2M254.4,548.8C254.5,551.3 254.2,558.8 255.2,563.8C256.2,568.8 258.2,573.6 260.2,578.9C262.1,584.2 265.2,590.6 266.9,595.6C268.6,600.6 269.0,604.8 270.3,609.0C271.6,613.2 273.1,618.1 274.5,620.7C275.9,623.4 277.6,625.7 278.6,624.9C279.6,624.1 279.6,618.2 280.3,615.7C281.0,613.2 281.1,609.0 282.8,609.8C284.5,610.6 288.2,616.9 290.3,620.7C292.4,624.5 294.1,628.7 295.4,632.4C296.7,636.1 297.5,641.1 297.9,642.9M262.7,557.1 L266.1,544.6M262.7,557.1C263.0,559.0 263.4,565.2 264.4,568.8C265.4,572.4 266.9,576.4 268.6,578.9C270.3,581.4 273.5,583.1 274.5,583.9M287.0,582.2C288.4,583.9 291.5,588.9 295.4,592.3C299.3,595.6 306.2,599.8 310.4,602.3C314.6,604.8 317.4,606.6 320.5,607.3C323.6,608.0 326.6,604.8 328.8,606.5C331.0,608.2 331.3,614.2 333.8,617.3C336.3,620.4 340.4,623.1 343.9,624.9C347.4,626.7 353.0,627.7 354.8,628.2M290.3,597.3C291.4,600.1 294.8,609.3 297.0,614.0C299.2,618.7 300.9,622.9 303.7,625.7C306.5,628.5 310.4,629.3 313.8,630.7C317.2,632.1 320.5,632.7 323.8,634.1C327.1,635.5 331.0,637.6 333.8,639.1C336.6,640.6 339.4,642.3 340.5,642.9M280.3,598.9 L282.0,605.6M333.8,562.1C334.9,562.7 338.1,563.5 340.5,565.5C342.9,567.5 345.9,570.4 348.1,573.8C350.3,577.1 351.7,582.5 353.9,585.6C356.1,588.7 360.2,591.2 361.5,592.3M330.5,581.4C331.3,582.1 333.6,583.2 335.5,585.6C337.4,588.0 339.7,593.1 342.2,595.6C344.7,598.1 348.1,598.2 350.6,600.6C353.1,603.0 356.2,608.3 357.3,609.8M343.9,513.6C346.4,512.2 354.7,507.5 358.9,505.3C363.1,503.1 365.5,501.5 369.0,500.2C372.5,498.9 378.1,498.1 379.9,497.7M345.6,500.2C347.6,499.8 353.1,498.9 357.3,497.7C361.5,496.4 366.7,494.1 370.7,492.7C374.7,491.3 379.7,489.9 381.5,489.4M347.2,493.2C348.9,492.9 353.9,492.3 357.3,491.5C360.7,490.7 363.3,489.7 367.3,488.5C371.3,487.3 379.1,485.0 381.5,484.3M349.7,480.2C352.1,479.8 359.7,478.5 364.0,477.6C368.3,476.8 372.5,475.9 375.7,475.1C378.9,474.3 381.9,473.0 383.2,472.6M350.6,473.5C353.1,473.4 361.2,473.2 365.6,472.6C370.1,472.0 374.2,470.2 377.3,470.1C380.4,470.0 382.9,471.5 384.0,471.8M351.4,466.8C353.8,466.9 361.3,467.6 365.6,467.6C369.9,467.6 374.1,466.4 377.3,466.8C380.5,467.2 383.6,469.6 384.9,470.1M344.7,537.0C344.7,535.9 343.7,532.8 344.7,530.3C345.7,527.8 348.0,524.2 350.6,522.0C353.2,519.8 357.5,518.7 360.6,517.0C363.7,515.3 366.2,513.4 369.0,511.9C371.8,510.4 375.9,508.9 377.3,508.3M344.7,537.0C345.4,538.4 346.8,542.9 348.9,545.4C351.0,547.9 354.2,549.5 357.3,552.1C360.4,554.7 365.6,559.3 367.3,560.8M387.4,479.3C389.1,478.8 393.8,477.4 397.4,476.0C401.0,474.6 405.6,472.7 409.1,471.0C412.6,469.3 416.8,466.8 418.3,465.9M389.1,487.7C391.1,487.1 396.9,485.7 400.8,484.3C404.7,482.9 409.0,479.9 412.5,479.3C416.0,478.8 420.2,480.7 421.7,481.0M390.7,497.7C392.4,497.4 397.4,497.2 400.8,496.0C404.2,494.8 408.0,491.7 410.8,490.2C413.6,488.7 416.4,487.4 417.5,486.8M393.2,508.6C395.3,508.1 401.8,506.3 405.8,505.3C409.9,504.3 414.1,503.3 417.5,502.7C420.9,502.1 424.5,501.8 425.9,501.6M399.9,544.6C401.2,543.9 405.4,541.5 407.5,540.4C409.6,539.3 410.8,537.2 412.5,537.9C414.2,538.6 415.3,542.8 417.5,544.6C419.7,546.4 423.1,548.0 425.9,548.8C428.7,549.6 432.8,549.5 434.2,549.6M404.1,566.3C404.9,567.0 408.3,568.4 409.1,570.5C409.9,572.6 408.4,576.7 409.1,578.9C409.8,581.1 412.9,581.9 413.3,583.9C413.7,585.9 410.6,588.6 411.6,590.6C412.6,592.6 415.4,593.4 419.2,595.6C423.0,597.8 429.9,601.6 434.2,604.0C438.5,606.4 443.3,608.8 445.1,609.8M432.6,568.0C431.9,569.0 429.2,571.1 428.4,573.8C427.5,576.4 426.5,580.5 427.5,583.9C428.5,587.2 431.6,591.4 434.2,593.9C436.8,596.4 441.9,598.1 443.4,598.9M411.6,600.6C413.7,601.7 420.1,604.9 424.2,607.3C428.2,609.7 432.0,612.6 435.9,614.8C439.8,617.0 445.7,619.7 447.6,620.7M412.5,609.0C414.4,609.8 420.0,611.8 424.2,614.0C428.4,616.2 433.4,619.9 437.6,622.4C441.8,624.9 447.4,628.0 449.3,629.1M414.2,617.3C416.1,617.9 422.6,618.7 425.9,620.7C429.2,622.7 431.1,626.3 434.2,629.1C437.3,631.9 441.5,635.5 444.3,637.4C447.1,639.3 449.9,640.2 451.0,640.8M415.8,624.0C417.2,624.4 421.7,624.5 424.2,626.5C426.7,628.5 429.2,633.1 430.9,635.8C432.6,638.5 433.6,641.7 434.2,642.9M417.5,634.1 L422.5,639.1M433.4,627.4C434.6,628.5 438.0,631.9 440.9,634.1C443.8,636.3 449.3,639.7 451.0,640.8M449.3,556.3 L460.0,553.8M451.0,570.5 L460.0,567.2M435.9,486.8C437.0,486.2 440.1,484.9 442.6,483.5C445.1,482.1 449.1,481.6 451.0,478.5C452.9,475.4 454.3,469.3 454.3,465.1C454.3,460.9 452.4,456.8 451.0,453.4C449.6,450.0 447.8,447.2 445.9,445.0C443.9,442.8 440.4,440.8 439.3,440.0M443.4,525.3C444.0,524.8 446.4,524.5 446.8,522.0C447.2,519.5 445.5,514.5 445.9,510.3C446.3,506.1 446.9,500.2 449.3,496.9C451.7,493.5 458.2,491.3 460.0,490.2M409.1,445.0C409.4,446.9 411.4,453.1 410.8,456.7C410.2,460.3 408.0,464.0 405.8,466.8C403.6,469.6 400.5,471.7 397.4,473.5C394.3,475.3 389.1,476.9 387.4,477.6M290.3,440.0C289.8,441.4 288.4,445.9 287.0,448.4C285.6,450.9 282.8,454.0 282.0,455.1M255.2,620.0C255.8,621.7 256.7,626.4 258.6,630.0C260.6,633.6 264.4,638.2 266.9,641.8C269.4,645.4 271.8,647.9 273.6,651.8C275.4,655.7 276.1,662.0 277.8,665.2C279.5,668.4 281.9,670.7 283.7,671.0C285.5,671.3 287.0,669.2 288.7,666.8C290.4,664.4 291.5,656.5 293.7,656.8C295.9,657.1 300.7,666.5 302.1,668.5M290.3,620.0C291.1,622.8 293.7,631.7 295.4,636.7C297.1,641.7 298.2,646.6 300.4,650.1C302.6,653.6 306.0,656.1 308.8,657.6C311.6,659.1 314.0,657.8 317.1,659.3C320.2,660.8 324.1,664.6 327.2,666.8C330.3,669.0 333.0,671.3 335.5,672.7C338.0,674.1 341.1,674.8 342.2,675.2M254.4,652.6C255.4,653.3 258.9,654.1 260.2,656.8C261.4,659.4 260.8,664.3 261.9,668.5C263.0,672.7 264.9,676.9 266.9,681.9C268.8,686.9 272.3,694.1 273.6,698.6C274.9,703.1 273.1,705.7 274.5,708.7C275.9,711.7 279.2,716.0 282.0,716.7C284.8,717.4 288.4,713.2 291.2,712.9C294.0,712.6 297.4,714.6 298.7,715.0M297.0,620.0C298.1,621.2 300.9,625.5 303.7,627.5C306.5,629.5 310.4,630.9 313.8,631.7C317.2,632.5 320.5,631.7 323.8,632.5C327.1,633.3 330.5,634.6 333.8,636.7C337.1,638.8 341.1,642.6 343.9,645.1C346.7,647.6 349.5,650.7 350.6,651.8M306.2,680.6C307.2,681.1 309.7,681.7 312.1,683.6C314.5,685.5 317.4,689.8 320.5,691.9C323.6,694.0 326.9,695.2 330.5,696.1C334.1,697.0 340.0,697.1 341.9,697.3M305.4,721.7C306.2,721.8 308.7,723.6 310.4,722.1C312.1,720.6 313.7,714.6 315.4,712.9C317.1,711.2 317.7,711.4 320.5,711.7C323.3,712.0 328.1,713.7 332.2,714.5C336.3,715.3 343.0,716.3 345.2,716.7M335.5,620.0C337.2,621.1 342.4,625.1 345.6,626.4C348.8,627.6 353.3,627.3 354.8,627.5M415.8,624.2C417.2,624.8 421.7,625.1 424.2,627.5C426.7,629.9 428.7,634.6 430.9,638.4C433.1,642.2 434.8,646.5 437.6,650.1C440.4,653.7 444.4,657.6 447.6,660.2C450.8,662.9 455.3,665.0 456.8,666.0M433.4,627.5C434.6,628.8 438.0,632.7 440.9,635.1C443.8,637.5 449.3,640.7 451.0,641.8M420.8,620.0C423.0,620.5 429.4,621.9 434.2,623.3C438.9,624.7 446.8,627.5 449.3,628.4M313.8,762.2C314.6,763.3 317.3,765.0 318.8,768.9C320.3,772.8 322.0,781.4 323.0,785.6C324.0,789.8 325.0,793.7 324.6,794.0C324.2,794.3 321.8,789.5 320.5,787.3C319.2,785.1 318.0,780.9 317.1,780.6C316.2,780.3 315.7,784.8 315.4,785.6M487.6,581.8C485.8,582.2 479.6,583.0 476.7,584.3C473.8,585.5 471.2,587.5 470.0,589.3C468.8,591.1 468.5,593.3 469.2,595.1C469.9,596.9 472.4,598.5 474.2,600.2C476.0,601.9 477.1,603.8 480.1,605.2C483.1,606.7 490.1,608.3 492.1,608.9M460.0,603.5C461.7,604.9 466.4,609.2 470.0,611.9C473.6,614.5 477.6,617.7 481.8,619.4C486.0,621.1 492.9,621.5 495.1,621.9M460.0,616.9C461.4,617.5 465.3,618.4 468.4,620.2C471.5,622.0 475.1,625.8 478.4,627.8C481.7,629.8 485.3,631.0 488.4,631.9C491.5,632.8 495.7,633.1 497.1,633.3M461.7,624.4C463.4,625.2 467.8,627.2 471.7,629.4C475.6,631.6 480.6,635.6 485.1,637.8C489.6,640.0 496.3,642.0 498.5,642.8M464.2,633.6C465.7,634.7 469.9,638.1 473.4,640.3C476.9,642.5 480.6,645.0 485.1,647.0C489.6,649.0 497.9,651.2 500.5,652.0M465.9,646.7C467.4,648.0 472.2,652.8 475.1,654.5C478.0,656.2 480.6,655.6 483.4,657.0C486.2,658.4 488.6,661.5 491.8,662.9C495.0,664.2 500.9,664.7 502.7,665.1M469.2,665.4C470.7,666.2 476.0,668.4 478.4,670.4C480.8,672.4 482.4,674.6 483.4,677.1C484.4,679.6 483.5,682.7 484.3,685.5C485.1,688.3 486.9,691.6 488.4,693.8C489.9,696.0 492.1,697.1 493.5,698.9C494.9,700.7 495.4,704.3 496.8,704.7C498.2,705.1 499.7,701.8 501.8,701.4C503.9,701.0 508.1,702.1 509.4,702.2M510.2,708.1C508.5,708.1 501.9,707.3 500.2,708.1C498.5,708.9 498.4,712.1 500.2,713.1C502.0,714.1 509.2,713.8 511.0,713.9M482.6,739.0C484.1,740.7 488.9,746.0 491.8,749.1C494.7,752.2 498.0,755.1 500.2,757.4C502.4,759.7 504.4,762.0 505.2,762.9M586.3,651.2C587.5,650.5 591.1,648.2 593.8,647.0C596.4,645.8 599.7,644.4 602.2,643.7C604.7,643.0 606.7,644.2 608.9,642.8C611.1,641.4 614.5,636.5 615.6,635.3M583.0,632.8C584.0,633.5 588.5,635.6 588.8,637.0C589.1,638.4 585.3,640.4 584.6,641.1M588.8,663.7C590.5,663.9 595.3,665.1 598.9,665.1C602.5,665.1 606.7,663.9 610.6,663.7C614.5,663.5 620.3,663.7 622.3,663.7M630.7,635.3C631.5,634.3 633.2,630.6 635.7,629.4C638.2,628.2 641.5,628.4 645.7,628.3C649.9,628.2 658.3,628.8 660.8,628.9M634.8,662.4C636.3,661.8 640.8,659.6 644.0,658.7C647.2,657.8 651.3,657.8 654.1,657.0C656.9,656.2 658.6,654.2 660.8,653.7C663.0,653.2 666.4,653.7 667.5,653.7M618.1,569.7C619.1,570.5 623.7,572.8 624.0,574.2C624.3,575.6 620.5,577.5 619.8,578.1M650.7,563.3C650.0,564.4 646.9,567.6 646.5,570.0C646.1,572.4 647.0,575.7 648.2,577.6C649.4,579.5 652.8,580.8 653.7,581.4M590.5,560.0C591.9,560.3 596.8,561.7 598.9,562.0C601.0,562.3 602.3,561.8 603.0,561.7M460.0,567.5C461.7,566.5 466.6,563.0 470.0,561.7C473.4,560.5 478.4,560.3 480.1,560.0M552.9,472.0C553.7,471.1 555.5,466.4 557.9,466.7C560.3,467.0 563.9,471.7 567.1,473.7C570.3,475.7 573.6,477.4 577.1,478.7C580.6,479.9 586.2,480.8 588.0,481.2M460.0,490.4C460.7,489.6 462.6,486.4 464.2,485.4C465.8,484.4 468.8,484.7 469.7,484.6M460.0,554.0C461.9,553.5 468.1,551.8 471.7,550.7C475.3,549.6 480.1,547.9 481.8,547.3M460.0,566.5C461.9,565.7 467.8,562.8 471.7,561.5C475.6,560.2 481.4,559.2 483.4,558.7M567.1,549.3C568.5,549.8 572.6,551.5 575.4,552.3C578.2,553.1 581.0,552.7 583.8,554.0C586.6,555.3 589.0,558.6 592.2,559.9C595.4,561.1 601.2,561.2 603.0,561.5M615.6,558.2C617.0,557.0 621.2,552.2 624.0,550.7C626.8,549.2 629.8,549.0 632.3,549.0C634.8,549.0 636.5,551.0 639.0,550.7C641.5,550.4 646.0,547.9 647.4,547.3M610.6,527.2C612.3,527.5 617.5,528.6 620.6,528.9C623.7,529.2 626.5,528.1 629.0,528.9C631.5,529.7 632.9,532.8 635.7,533.9C638.5,535.0 644.0,535.3 645.7,535.6M579.6,457.8C579.9,458.4 580.5,460.2 581.3,461.1C582.0,462.0 583.6,462.9 584.1,463.3M587.5,521.4C587.5,520.6 589.5,518.9 590.5,518.9C591.5,518.9 593.5,520.6 593.5,521.4C593.5,522.2 591.5,523.9 590.5,523.9C589.5,523.9 587.5,522.2 587.5,521.4M740.4,200.0C740.8,201.2 744.0,206.0 742.9,207.5C741.8,209.0 736.4,207.7 733.7,209.2C731.1,210.7 728.7,213.5 727.0,216.7C725.3,219.9 724.2,224.8 723.7,228.4C723.2,232.0 723.2,234.3 723.7,238.5C724.2,242.7 725.3,249.6 727.0,253.5C728.7,257.4 730.9,258.8 733.7,261.9C736.5,265.0 741.2,267.7 743.7,271.9C746.2,276.1 747.7,282.5 748.8,287.0C749.9,291.5 748.7,295.3 750.4,298.7C752.1,302.1 755.7,304.8 758.8,307.1C761.9,309.4 767.1,311.5 768.8,312.4M750.4,221.4C748.7,222.3 742.8,224.8 740.4,226.8C738.0,228.8 736.5,231.0 736.2,233.5C735.9,236.0 736.9,239.4 738.7,241.8C740.5,244.2 744.2,246.5 747.1,247.7C750.0,248.9 754.8,248.7 756.3,248.9M761.3,271.9C760.6,273.0 757.6,275.8 757.1,278.6C756.6,281.4 757.4,285.6 758.0,288.7C758.6,291.8 759.0,295.0 760.5,297.0C762.0,299.0 765.7,300.1 766.7,300.7M733.4,306.7C734.6,307.9 737.8,311.8 740.4,313.8C743.0,315.8 745.7,317.4 748.8,318.8C751.9,320.2 755.7,320.9 758.8,322.1C761.9,323.4 765.1,325.5 767.2,326.3C769.4,327.1 771.0,327.1 771.7,327.2M737.4,326.3C738.7,327.1 742.4,329.5 745.4,331.3C748.4,333.1 752.3,336.2 755.4,337.2C758.5,338.2 760.7,337.5 763.8,337.2C766.9,336.9 772.1,335.8 773.8,335.5M717.8,205.0C717.8,206.7 718.2,212.4 717.8,215.1C717.4,217.8 715.7,219.9 715.3,220.9M706.1,244.3C705.5,245.0 703.0,247.0 702.7,248.5C702.4,250.0 703.4,252.0 704.4,253.5C705.4,255.0 707.9,257.0 708.6,257.7M725.3,266.9C726.0,268.0 728.7,271.7 729.5,273.6C730.3,275.6 730.6,277.2 730.3,278.6C730.0,280.0 728.2,281.4 727.8,282.0M794.3,446.0C793.4,447.8 790.5,452.6 788.9,456.9C787.3,461.2 786.0,467.2 784.7,471.9C783.5,476.6 782.6,481.9 781.4,485.3C780.1,488.7 779.0,490.6 777.2,492.0C775.4,493.4 771.6,493.4 770.5,493.7M797.3,463.6C796.5,465.0 793.7,468.5 792.3,471.9C790.9,475.2 789.2,480.3 788.9,483.7C788.6,487.1 790.9,490.1 790.6,492.0C790.3,493.9 788.7,494.3 787.2,495.4C785.7,496.5 782.4,497.9 781.4,498.4M801.5,481.1C800.8,481.8 798.0,483.2 797.3,485.3C796.6,487.4 797.3,492.3 797.3,493.7M760.5,523.5C760.4,524.7 759.1,527.4 759.6,530.5C760.1,533.6 763.5,538.3 763.8,542.2C764.1,546.1 761.3,550.8 761.3,553.9C761.3,557.0 762.6,559.1 763.8,560.6C765.0,562.1 767.7,562.3 768.5,562.6M781.4,550.6C782.4,551.4 785.7,553.1 787.2,555.6C788.7,558.1 788.9,562.5 790.6,565.6C792.3,568.7 795.6,571.2 797.3,574.0C799.0,576.8 799.9,577.6 800.6,582.4C801.3,587.2 801.4,599.5 801.5,602.9M788.9,528.0C789.2,529.2 789.8,532.6 790.6,535.5C791.4,538.4 792.2,542.8 793.9,545.6C795.6,548.4 798.9,549.8 800.6,552.3C802.3,554.8 802.3,558.1 804.0,560.6C805.7,563.1 809.0,564.8 810.7,567.3C812.4,569.8 813.5,573.2 814.0,575.7C814.5,578.2 812.8,580.5 814.0,582.4C815.2,584.3 820.2,586.6 821.5,587.4M647.5,564.0C647.4,565.4 646.3,569.6 646.7,572.3C647.1,574.9 648.9,578.4 650.0,579.9C651.1,581.4 652.8,580.8 653.4,581.0M640.0,547.2 L646.7,546.9M787.2,517.1C787.2,516.5 786.5,514.7 786.9,513.8C787.3,512.9 789.2,512.1 789.7,511.8M800.4,590.0C800.5,592.0 799.5,598.1 801.2,601.7C802.9,605.3 807.8,608.4 810.4,611.8C813.0,615.1 815.7,617.6 817.1,621.8C818.5,626.0 817.4,633.0 818.8,636.8C820.2,640.6 823.2,642.5 825.5,644.4C827.8,646.3 831.3,647.6 832.5,648.2M791.7,606.7C792.9,607.6 796.7,610.1 798.7,611.8C800.7,613.5 802.9,616.0 803.7,616.8M793.7,617.6C794.8,619.1 798.9,623.0 800.4,626.8C801.9,630.6 802.5,635.7 802.9,640.2C803.3,644.7 801.9,649.1 802.9,653.6C803.9,658.1 806.4,663.1 808.8,667.0C811.2,670.9 814.3,674.2 817.1,677.0C819.9,679.8 823.8,681.8 825.5,683.7C827.2,685.7 827.8,686.2 827.2,688.7C826.6,691.2 823.8,695.7 822.1,698.8C820.4,701.9 817.9,705.7 817.1,707.1M805.7,621.0C806.2,623.6 807.6,631.4 808.8,636.8C810.0,642.2 811.5,648.9 812.9,653.6C814.3,658.4 814.7,662.5 817.1,665.3C819.5,668.1 824.7,668.1 827.2,670.3C829.7,672.5 830.9,675.9 832.2,678.7C833.5,681.5 835.5,683.9 835.2,687.0C834.9,690.1 832.0,694.0 830.5,697.1C829.0,700.2 827.0,704.0 826.3,705.4M840.2,696.2 L836.4,703.8M1035.1,568.6C1037.6,568.5 1044.3,568.1 1050.2,567.8C1056.1,567.5 1067.0,567.0 1070.3,566.9M1034.8,573.6C1037.4,573.2 1044.6,571.3 1050.2,571.1C1055.8,570.9 1065.5,572.1 1068.6,572.3M1048.5,577.0C1050.2,576.7 1055.4,575.4 1058.6,575.3C1061.8,575.1 1066.3,576.0 1067.8,576.1M1081.1,563.6C1083.2,563.0 1089.7,561.2 1093.7,560.2C1097.8,559.2 1101.5,558.1 1105.4,557.7C1109.3,557.3 1115.1,557.7 1117.1,557.7M1081.1,567.8C1083.5,567.2 1091.1,565.2 1095.4,564.4C1099.7,563.5 1103.6,563.1 1107.1,562.7C1110.6,562.3 1114.8,562.3 1116.3,562.2M1080.3,571.1C1082.8,570.5 1090.9,568.5 1095.4,567.8C1099.9,567.0 1103.8,566.8 1107.1,566.6C1110.4,566.4 1114.0,566.6 1115.4,566.6M1080.3,577.8C1082.8,577.5 1090.9,576.5 1095.4,576.1C1099.9,575.7 1104.0,575.3 1107.1,575.3C1110.2,575.3 1112.7,576.0 1113.8,576.1M1080.0,582.8C1082.3,582.2 1089.8,580.0 1093.7,579.5C1097.7,579.0 1100.5,579.4 1103.7,579.5C1106.9,579.6 1111.4,579.9 1112.9,580.0M1097.0,585.3C1098.1,584.9 1101.3,583.1 1103.7,582.8C1106.1,582.5 1110.0,583.6 1111.3,583.7M1105.4,587.0 L1111.3,586.7M1107.1,591.2 L1110.4,591.7M1031.8,590.3C1033.5,589.8 1038.7,587.3 1041.8,587.0C1044.9,586.7 1047.1,589.0 1050.2,588.7C1053.3,588.4 1058.5,585.9 1060.2,585.3M1030.1,598.4C1031.8,597.6 1036.6,594.9 1040.2,593.7C1043.8,592.5 1047.9,591.5 1051.9,591.2C1055.9,590.9 1062.3,591.6 1064.4,591.7M1026.8,617.1C1027.6,615.7 1029.3,611.0 1031.8,608.8C1034.3,606.6 1038.2,605.2 1041.8,603.7C1045.4,602.2 1049.9,600.9 1053.5,600.1C1057.1,599.3 1061.9,599.2 1063.6,599.0M1077.0,594.5C1078.0,594.2 1080.8,593.6 1082.8,592.9C1084.8,592.2 1087.7,590.7 1088.7,590.3M1075.6,601.2C1077.2,600.8 1081.7,599.4 1085.3,598.7C1088.9,598.0 1093.9,598.1 1097.0,597.0C1100.1,595.9 1102.6,592.8 1103.7,592.0M1073.6,611.3C1074.7,610.4 1077.5,607.3 1080.3,606.2C1083.1,605.1 1086.9,605.3 1090.3,604.6C1093.7,603.9 1097.3,603.1 1100.4,602.1C1103.5,601.1 1107.4,599.3 1108.8,598.7M1084.5,614.6C1086.0,613.9 1089.9,611.9 1093.7,610.4C1097.5,608.9 1104.9,606.2 1107.1,605.4M1084.5,614.6C1084.9,616.4 1086.3,622.0 1087.0,625.5C1087.7,629.0 1087.6,632.9 1088.7,635.5C1089.8,638.1 1091.8,639.7 1093.7,641.4C1095.7,643.1 1099.3,644.9 1100.4,645.6M1105.4,619.6C1104.6,620.9 1101.2,624.8 1100.4,627.2C1099.6,629.6 1100.1,632.1 1100.4,633.8C1100.7,635.5 1101.8,636.6 1102.1,637.2M1068.6,637.2C1069.7,638.0 1072.8,640.5 1075.3,642.2C1077.8,643.9 1080.8,646.0 1083.7,647.2C1086.6,648.5 1090.5,648.4 1092.9,649.7C1095.3,651.0 1097.1,653.9 1097.9,654.8M1078.5,658.1C1078.5,656.9 1081.7,654.4 1083.2,654.4C1084.8,654.4 1087.8,656.9 1087.8,658.1C1087.8,659.3 1084.8,661.8 1083.2,661.8C1081.7,661.8 1078.5,659.3 1078.5,658.1M1094.5,663.1C1093.2,664.1 1088.8,666.8 1087.0,669.0C1085.2,671.2 1084.2,675.2 1083.7,676.5M1061.1,611.3C1060.4,612.8 1058.2,616.2 1056.9,620.5C1055.6,624.8 1055.2,632.2 1053.5,637.2C1051.8,642.2 1048.6,645.6 1046.8,650.6C1045.0,655.6 1044.1,662.3 1042.7,667.3C1041.3,672.3 1040.0,676.5 1038.5,680.7C1037.0,684.9 1034.6,688.7 1033.5,692.4C1032.4,696.1 1032.1,701.1 1031.8,702.9M1041.0,617.1C1040.9,619.9 1041.2,628.2 1040.2,633.8C1039.2,639.4 1036.5,645.0 1035.1,650.6C1033.7,656.2 1033.2,661.7 1031.8,667.3C1030.4,672.9 1028.2,678.1 1026.8,684.0C1025.4,689.9 1024.0,699.8 1023.4,702.9M1023.4,634.7C1024.1,636.0 1027.0,638.2 1027.6,642.2C1028.2,646.2 1027.2,653.3 1026.8,658.9C1026.4,664.5 1025.4,670.1 1025.1,675.7C1024.8,681.3 1025.4,687.9 1025.1,692.4C1024.8,696.9 1023.7,701.1 1023.4,702.9M1017.6,669.8C1018.0,671.0 1020.0,674.1 1020.1,677.3C1020.2,680.5 1019.5,686.2 1018.4,689.1C1017.3,692.0 1014.2,693.9 1013.4,694.9M1015.1,702.9 L1021.8,692.4M1200.8,578.6C1202.5,578.0 1207.2,577.2 1210.8,575.3C1214.4,573.3 1218.2,569.7 1222.5,566.9C1226.8,564.1 1234.3,560.0 1236.7,558.6M1199.9,583.7C1202.0,582.9 1208.5,580.8 1212.5,578.6C1216.5,576.4 1220.3,572.8 1224.2,570.3C1228.1,567.8 1234.0,564.7 1235.9,563.6M1199.1,588.7C1201.0,587.9 1206.9,585.9 1210.8,583.7C1214.7,581.5 1218.5,577.8 1222.5,575.3C1226.5,572.8 1233.0,569.7 1235.1,568.6M1210.0,597.0C1210.7,596.2 1212.1,594.0 1214.2,592.0C1216.3,590.0 1220.0,587.0 1222.5,585.3C1225.0,583.6 1228.1,582.5 1229.2,582.0M1215.8,600.4C1216.6,599.0 1218.8,594.4 1220.8,592.0C1222.8,589.6 1226.4,587.2 1227.5,586.2M1220.8,601.2C1221.4,600.2 1222.4,597.2 1224.2,595.4C1226.0,593.6 1230.5,591.1 1231.7,590.3M1194.9,653.9C1195.2,655.0 1195.6,658.4 1196.6,660.6C1197.6,662.8 1199.3,665.9 1200.8,667.3C1202.3,668.7 1205.0,668.7 1205.8,669.0M1202.4,648.9C1202.1,650.6 1200.7,655.5 1200.8,658.9C1200.9,662.2 1202.9,667.3 1203.3,669.0M1212.5,645.6C1212.2,647.8 1211.4,654.7 1210.8,658.9C1210.2,663.1 1209.4,668.7 1209.1,670.7M1217.5,638.9 L1220.8,647.2M1234.2,643.9C1235.3,643.5 1238.1,640.8 1240.9,641.4C1243.7,642.0 1247.8,646.2 1251.0,647.2C1254.2,648.2 1258.5,647.2 1260.0,647.2M1234.2,653.9C1234.2,656.1 1233.9,663.4 1234.2,667.3C1234.5,671.2 1235.6,675.6 1235.9,677.3M1251.0,655.6C1250.2,657.5 1247.0,663.7 1245.9,667.3C1244.8,670.9 1244.6,675.6 1244.3,677.3M1071.9,679.9C1072.8,679.6 1075.6,678.1 1077.0,678.2C1078.4,678.3 1079.8,680.3 1080.3,680.7M1073.6,695.8 L1074.5,702.9M1057.7,698.3C1058.7,698.4 1061.8,699.7 1063.6,699.1C1065.4,698.5 1067.8,695.6 1068.6,694.9M1040.2,702.9C1040.5,702.1 1040.8,699.2 1041.8,698.3C1042.8,697.4 1045.3,697.5 1046.0,697.4M1162.3,300.0C1162.4,300.6 1163.7,301.1 1163.1,303.3C1162.5,305.5 1160.0,308.9 1158.9,313.4C1157.8,317.9 1156.5,325.4 1156.4,330.1C1156.3,334.8 1157.7,338.2 1158.1,341.8C1158.5,345.4 1158.8,350.2 1158.9,351.9M1174.0,175.3C1174.0,177.2 1174.8,182.3 1174.0,187.0C1173.2,191.7 1170.0,198.1 1169.0,203.7C1168.0,209.3 1167.8,215.8 1168.1,220.5C1168.4,225.2 1170.8,228.0 1170.7,232.2C1170.6,236.4 1167.5,240.9 1167.3,245.6C1167.1,250.3 1169.5,255.9 1169.8,260.6C1170.1,265.3 1170.1,269.8 1169.0,274.0C1167.9,278.2 1164.5,282.3 1163.1,285.7C1161.7,289.1 1160.6,291.2 1160.6,294.1C1160.6,297.0 1162.7,301.4 1163.1,302.9M1184.0,183.7C1183.9,184.9 1182.6,188.7 1183.2,191.2C1183.8,193.7 1186.3,196.9 1187.4,198.7C1188.5,200.5 1189.5,201.5 1189.9,202.1M1189.1,208.8C1188.1,208.9 1184.2,208.2 1183.2,209.6C1182.2,211.0 1182.8,215.0 1183.2,217.1C1183.6,219.2 1185.3,221.3 1185.7,222.1M1184.9,227.2C1184.1,227.8 1180.9,228.3 1179.9,230.5C1178.9,232.7 1178.9,237.7 1179.0,240.5C1179.1,243.3 1180.4,246.1 1180.7,247.2M1017.7,680.0C1017.6,681.7 1017.6,687.5 1016.9,690.0C1016.2,692.5 1014.1,694.2 1013.5,695.1M1023.6,680.0C1023.0,682.2 1021.9,689.2 1020.2,693.4C1018.5,697.6 1015.3,701.5 1013.5,705.1C1011.7,708.7 1010.1,713.4 1009.4,715.1M1029.4,680.0C1028.9,682.2 1027.9,688.7 1026.1,693.4C1024.3,698.1 1021.0,703.1 1018.6,708.4C1016.2,713.7 1014.1,720.2 1011.9,725.2C1009.7,730.2 1006.3,736.4 1005.2,738.6M1038.6,680.0C1037.8,681.4 1034.7,685.3 1033.6,688.4C1032.5,691.5 1033.6,694.2 1031.9,698.4C1030.2,702.6 1026.4,708.2 1023.6,713.5C1020.8,718.8 1017.7,724.6 1015.2,730.2C1012.7,735.8 1010.2,741.9 1008.5,746.9C1006.8,751.9 1006.5,756.9 1005.2,760.3C1004.0,763.6 1001.7,765.9 1001.0,767.0M1045.3,697.6C1044.5,698.3 1042.2,699.4 1040.3,701.8C1038.3,704.2 1036.1,707.9 1033.6,711.8C1031.1,715.7 1028.1,720.5 1025.3,725.2C1022.5,729.9 1019.1,735.5 1016.9,740.2C1014.7,744.9 1013.3,749.1 1011.9,753.6C1010.5,758.1 1010.2,762.8 1008.5,767.0C1006.8,771.2 1003.5,775.6 1001.8,778.7C1000.1,781.8 998.9,782.3 998.5,785.4C998.1,788.5 998.6,792.9 999.3,797.1C1000.0,801.3 1002.4,806.0 1002.7,810.5C1003.0,815.0 1000.3,819.7 1001.0,823.9C1001.7,828.1 1004.7,832.0 1006.8,835.6C1008.9,839.2 1011.5,843.1 1013.5,845.6C1015.5,848.1 1017.8,849.9 1018.6,850.7M1042.8,713.5C1041.3,715.2 1036.5,719.9 1033.6,723.5C1030.7,727.1 1028.1,730.7 1025.3,735.2C1022.5,739.7 1018.9,745.0 1016.9,750.3C1014.9,755.6 1014.1,762.0 1013.5,767.0C1012.9,772.0 1013.2,775.9 1013.5,780.4C1013.8,784.9 1015.2,789.9 1015.2,793.8C1015.2,797.7 1014.2,800.7 1013.5,803.8C1012.8,806.9 1010.7,809.1 1011.0,812.2C1011.3,815.3 1013.5,818.9 1015.2,822.2C1016.9,825.6 1020.1,830.6 1021.1,832.3M1040.3,728.5C1038.9,729.9 1034.4,733.8 1031.9,736.9C1029.4,740.0 1027.2,743.3 1025.3,746.9C1023.3,750.5 1020.9,754.1 1020.2,758.6C1019.5,763.1 1020.4,768.7 1021.1,773.7C1021.8,778.7 1023.4,784.8 1024.4,788.8C1025.5,792.8 1026.9,796.5 1027.4,798.0M1035.3,751.9C1034.7,752.9 1032.2,755.7 1031.9,757.8C1031.6,759.9 1033.3,763.4 1033.6,764.5M1068.8,694.2C1068.0,694.9 1065.6,697.7 1063.7,698.4C1061.8,699.1 1058.5,698.4 1057.4,698.4M1073.8,695.9C1073.9,696.9 1073.5,700.0 1074.6,701.8C1075.7,703.6 1078.1,705.8 1080.5,706.8C1082.9,707.8 1087.4,707.5 1088.8,707.6M1056.2,708.4C1057.5,709.5 1061.6,712.3 1063.7,715.1C1065.8,717.9 1066.8,722.7 1068.8,725.2C1070.8,727.7 1072.9,728.8 1075.4,730.2C1077.9,731.7 1082.4,733.3 1083.8,733.9M1052.9,724.3C1053.9,725.3 1056.6,728.0 1058.7,730.2C1060.8,732.4 1062.9,736.2 1065.4,737.7C1067.9,739.2 1071.0,738.6 1073.8,739.4C1076.6,740.2 1080.7,742.2 1082.1,742.7M1050.0,739.9C1051.5,740.8 1055.6,743.9 1058.7,745.3C1061.8,746.7 1065.1,747.3 1068.8,748.3C1072.5,749.3 1078.8,750.6 1080.8,751.1M1086.3,716.0C1085.6,716.7 1082.4,718.5 1082.1,720.2C1081.8,722.0 1084.2,725.5 1084.6,726.5M1037.8,808.0C1038.5,809.5 1040.9,813.4 1042.0,817.2C1043.1,821.0 1043.0,827.2 1044.5,830.6C1046.0,834.0 1049.8,834.2 1051.2,837.3C1052.6,840.4 1052.2,844.5 1052.9,849.0C1053.6,853.5 1054.6,860.1 1055.4,864.0C1056.2,867.9 1057.5,870.2 1057.9,872.4C1058.3,874.6 1057.9,876.6 1057.9,877.4M1031.9,839.8C1033.0,841.3 1036.6,845.8 1038.6,849.0C1040.6,852.2 1042.3,855.1 1043.7,859.0C1045.1,862.9 1046.5,868.4 1047.0,872.4C1047.5,876.4 1047.0,881.1 1047.0,882.9M1028.6,858.2C1029.0,859.2 1030.3,861.9 1031.1,864.0C1031.9,866.1 1032.8,868.6 1033.6,870.7C1034.4,872.8 1035.9,874.6 1036.1,876.6C1036.2,878.6 1034.8,881.9 1034.5,882.9M991.0,823.6C991.5,824.8 993.3,827.2 994.3,830.6C995.3,834.0 995.7,840.2 996.8,844.0C997.9,847.8 999.3,850.8 1001.0,853.2C1002.7,855.6 1005.8,855.8 1006.8,858.2C1007.8,860.6 1006.5,864.5 1006.8,867.4C1007.1,870.3 1008.2,873.2 1008.5,875.8C1008.8,878.4 1008.5,881.7 1008.5,882.9M986.4,849.0C987.3,850.7 990.5,855.1 991.8,859.0C993.1,862.9 994.2,868.4 994.3,872.4C994.4,876.4 992.9,881.1 992.6,882.9M1190.0,717.6C1188.8,719.0 1184.9,723.9 1182.5,726.0C1180.1,728.1 1177.5,728.8 1175.8,730.2C1174.1,731.6 1173.0,733.7 1172.5,734.4M1195.9,720.2C1195.1,721.9 1193.1,727.1 1190.9,730.2C1188.7,733.3 1184.5,735.0 1182.5,738.6C1180.5,742.2 1180.9,747.7 1179.2,751.9C1177.5,756.1 1173.6,759.2 1172.5,763.7C1171.4,768.2 1172.0,774.0 1172.5,778.7C1173.0,783.4 1174.4,787.6 1175.8,792.1C1177.2,796.6 1179.8,801.0 1180.8,805.5C1181.8,810.0 1182.0,814.7 1181.7,818.9C1181.4,823.1 1180.2,826.4 1179.2,830.6C1178.2,834.8 1177.5,839.5 1175.8,844.0C1174.1,848.5 1171.0,853.4 1169.1,857.3C1167.1,861.2 1165.9,864.2 1164.1,867.4C1162.3,870.6 1159.3,875.1 1158.3,876.6M1204.3,739.9C1203.2,740.1 1199.5,739.6 1197.6,741.1C1195.6,742.6 1194.0,745.7 1192.6,748.6C1191.2,751.5 1190.6,755.5 1189.2,758.6C1187.8,761.7 1184.8,763.9 1184.2,767.0C1183.7,770.1 1186.0,773.6 1185.9,777.0C1185.8,780.4 1183.4,783.2 1183.4,787.1C1183.4,791.0 1185.1,796.3 1185.9,800.5C1186.7,804.7 1188.3,808.6 1188.4,812.2C1188.5,815.8 1186.7,819.0 1186.7,822.2C1186.7,825.4 1188.1,829.9 1188.4,831.4M1200.1,762.0C1199.3,762.5 1196.1,763.3 1195.1,765.3C1194.1,767.2 1193.9,770.5 1194.2,773.7C1194.5,776.9 1196.3,782.8 1196.7,784.6M1163.3,789.6C1164.3,790.9 1167.6,794.2 1169.1,797.1C1170.6,800.0 1171.8,803.6 1172.5,807.2C1173.2,810.8 1173.6,815.0 1173.3,818.9C1173.0,822.8 1171.8,826.7 1170.8,830.6C1169.8,834.5 1169.2,838.1 1167.5,842.3C1165.8,846.5 1162.9,851.7 1160.8,855.7C1158.7,859.7 1156.9,864.0 1154.9,866.5C1153.0,869.0 1150.1,870.0 1149.1,870.7M1160.8,803.0C1161.3,804.0 1163.7,806.1 1164.1,808.8C1164.5,811.4 1163.1,815.3 1163.3,818.9C1163.5,822.5 1165.3,826.4 1165.0,830.6C1164.7,834.8 1162.9,840.4 1161.6,844.0C1160.3,847.6 1159.1,850.2 1157.4,852.3C1155.7,854.4 1152.6,855.8 1151.6,856.5M1157.4,823.6C1157.8,824.5 1159.6,826.4 1159.9,828.9C1160.2,831.4 1160.2,836.0 1159.1,838.9C1158.0,841.8 1154.2,845.2 1153.2,846.5M1185.9,849.0C1185.1,850.7 1182.5,855.6 1180.8,859.0C1179.1,862.4 1177.8,866.0 1175.8,869.1C1173.8,872.2 1170.2,876.0 1169.1,877.4M1202.6,817.2C1203.1,818.0 1205.6,819.1 1205.9,822.2C1206.2,825.3 1205.0,831.1 1204.3,835.6C1203.6,840.1 1202.6,844.5 1201.8,849.0C1201.0,853.5 1200.4,858.9 1199.3,862.4C1198.2,865.9 1195.8,868.6 1195.1,869.9M1220.0,763.7C1218.8,765.4 1214.0,769.5 1212.6,773.7C1211.2,777.9 1211.6,783.5 1211.8,788.8C1212.0,794.1 1212.8,799.9 1213.5,805.5C1214.2,811.1 1215.9,816.6 1216.0,822.2C1216.1,827.8 1214.2,833.3 1214.3,838.9C1214.4,844.5 1216.8,850.7 1216.8,855.7C1216.8,860.7 1215.4,865.8 1214.3,869.1C1213.2,872.5 1210.6,873.5 1210.1,875.8C1209.5,878.1 1210.8,881.7 1211.0,882.9M1220.0,728.5 L1216.0,731.9M1220.0,736.9 L1216.8,737.7M1220.0,743.6 L1216.0,745.3M1220.0,751.9 L1214.0,753.3M1165.5,885.5C1165.1,887.2 1163.8,892.4 1163.0,895.5C1162.2,898.6 1160.7,901.1 1160.5,903.9C1160.3,906.7 1162.4,909.2 1162.1,912.3C1161.8,915.4 1158.5,919.2 1158.8,922.3C1159.1,925.4 1162.0,928.2 1163.8,930.7C1165.6,933.2 1168.7,936.2 1169.7,937.3M1147.1,888.8 L1151.3,884.1M1141.2,916.4C1142.2,917.1 1146.8,918.8 1147.1,920.6C1147.4,922.4 1142.6,925.1 1142.9,927.3C1143.2,929.5 1146.4,931.6 1148.8,934.0C1151.2,936.4 1155.7,940.2 1157.1,941.5M1137.9,935.7 L1146.2,941.5M1174.7,912.3C1173.7,913.1 1169.2,915.2 1168.8,917.3C1168.4,919.4 1171.6,923.5 1172.2,924.8M1185.6,916.4C1186.7,916.5 1190.5,915.8 1192.3,917.3C1194.1,918.8 1195.7,922.8 1196.4,925.6C1197.1,928.4 1195.8,931.4 1196.4,934.0C1197.1,936.6 1199.7,940.2 1200.3,941.5M1207.0,890.5C1207.0,892.5 1207.4,898.9 1207.3,902.2C1207.2,905.6 1206.2,907.5 1206.5,910.6C1206.8,913.7 1208.5,917.2 1209.0,920.6C1209.5,924.0 1208.8,928.1 1209.8,930.7C1210.8,933.4 1214.0,935.5 1214.8,936.5M1221.5,893.8C1221.1,895.2 1219.6,899.3 1219.0,902.2C1218.4,905.1 1217.9,909.9 1217.7,911.4M1181.4,939.0 L1184.7,941.5M1040.0,809.4C1040.4,810.9 1041.8,815.1 1042.5,818.6C1043.2,822.1 1042.8,827.2 1044.2,830.3C1045.6,833.4 1049.4,833.7 1050.9,837.0C1052.4,840.3 1052.9,846.4 1053.4,850.3C1054.0,854.2 1053.5,857.0 1054.2,860.4C1054.9,863.8 1057.0,867.6 1057.6,870.4C1058.2,873.2 1057.6,876.0 1057.6,877.1M1040.0,850.3C1040.8,852.3 1043.9,858.2 1045.0,862.1C1046.1,866.0 1046.4,869.6 1046.7,873.8C1047.0,878.0 1047.1,882.8 1046.7,887.2C1046.3,891.7 1044.8,896.0 1044.2,900.5C1043.6,905.0 1042.9,910.1 1043.3,913.9C1043.7,917.7 1045.6,921.0 1046.7,923.1C1047.8,925.2 1049.5,925.9 1050.0,926.5M1040.0,928.1 L1048.4,934.8M1239.1,760.0C1237.1,761.1 1230.3,763.9 1227.4,766.7C1224.5,769.5 1222.6,771.4 1221.5,776.7C1220.4,782.0 1220.3,791.5 1220.7,798.5C1221.1,805.5 1223.5,812.5 1224.0,818.6C1224.5,824.7 1223.0,830.8 1224.0,835.3C1225.0,839.8 1228.9,843.6 1229.9,845.3M1473.2,80.4 L1464.8,86.2M1476.5,83.7C1475.5,85.4 1472.5,91.2 1470.7,93.8C1468.9,96.4 1467.2,98.1 1465.7,99.6C1464.2,101.0 1462.2,102.0 1461.5,102.5M1481.5,86.2C1480.8,87.7 1478.4,91.6 1477.4,95.4C1476.4,99.2 1475.6,104.9 1475.7,108.8C1475.8,112.7 1476.5,116.0 1478.2,118.8C1479.9,121.6 1483.8,123.0 1485.7,125.5C1487.7,128.0 1489.2,132.5 1489.9,133.9M1494.9,76.2C1494.5,77.7 1493.9,82.2 1492.4,85.4C1490.9,88.6 1487.1,92.1 1485.7,95.4C1484.3,98.8 1483.9,102.2 1484.1,105.5C1484.2,108.8 1485.2,112.8 1486.6,115.5C1488.0,118.2 1491.4,120.8 1492.4,121.9M1498.3,95.4C1497.6,95.7 1494.9,96.0 1494.1,97.1C1493.3,98.2 1493.0,100.5 1493.3,102.1C1493.6,103.7 1495.4,106.0 1495.8,106.8M1459.8,112.2C1460.5,113.3 1461.9,116.6 1464.0,118.8C1466.1,121.0 1470.1,123.3 1472.3,125.5C1474.5,127.7 1477.1,130.0 1477.4,132.2C1477.7,134.4 1475.3,136.7 1474.0,138.9C1472.7,141.1 1470.3,143.7 1469.8,145.6C1469.2,147.5 1470.0,149.2 1470.7,150.6C1471.4,152.0 1474.0,152.3 1474.0,154.0C1474.0,155.7 1472.1,159.0 1470.7,160.7C1469.3,162.4 1466.7,162.1 1465.7,164.0C1464.7,165.9 1464.5,169.3 1464.8,172.4C1465.1,175.5 1467.4,178.5 1467.3,182.4C1467.2,186.3 1464.8,191.3 1464.0,195.8C1463.2,200.3 1462.7,204.7 1462.3,209.2C1461.9,213.7 1461.4,218.7 1461.5,222.6C1461.6,226.5 1462.3,229.4 1463.1,232.6C1463.9,235.8 1465.9,240.3 1466.5,241.8M1450.6,152.3C1451.1,154.0 1452.7,159.0 1453.9,162.3C1455.2,165.7 1457.1,169.1 1458.1,172.4C1459.1,175.8 1459.9,178.5 1459.8,182.4C1459.7,186.3 1458.0,191.3 1457.3,195.8C1456.6,200.3 1456.0,204.2 1455.6,209.2C1455.2,214.2 1454.6,221.4 1454.8,225.9C1455.0,230.4 1455.7,232.4 1456.5,236.0C1457.3,239.6 1459.5,243.2 1459.8,247.7C1460.1,252.1 1458.5,258.2 1458.1,262.7C1457.7,267.2 1457.4,272.9 1457.3,274.9M1448.1,163.7C1448.8,164.9 1451.5,167.8 1452.3,170.7C1453.1,173.5 1453.5,177.2 1453.1,180.8C1452.7,184.4 1450.6,188.3 1449.8,192.5C1449.0,196.7 1448.4,201.4 1448.1,205.8C1447.8,210.2 1448.4,215.0 1448.1,219.2C1447.8,223.4 1446.3,227.3 1446.4,230.9C1446.5,234.5 1448.3,237.4 1448.9,241.0C1449.5,244.6 1449.9,248.8 1449.8,252.7C1449.7,256.6 1448.2,260.7 1448.1,264.4C1447.9,268.1 1448.8,273.1 1448.9,274.9M1482.4,168.2C1481.4,168.9 1477.6,170.3 1476.5,172.4C1475.4,174.5 1475.8,177.7 1475.7,180.8C1475.6,183.9 1476.5,187.5 1475.7,190.8C1474.9,194.1 1471.8,197.5 1470.7,200.8C1469.6,204.2 1468.9,207.8 1469.0,210.9C1469.1,214.0 1471.1,217.8 1471.5,219.2M1438.0,211.7C1438.6,212.9 1440.7,216.0 1441.4,219.2C1442.1,222.4 1442.1,226.2 1442.2,230.9C1442.3,235.7 1442.1,242.7 1442.2,247.7C1442.3,252.7 1442.8,256.6 1443.1,261.1C1443.4,265.6 1443.8,272.6 1443.9,274.9M1434.7,228.4C1435.1,230.2 1436.7,234.7 1437.2,239.3C1437.8,243.9 1437.7,250.1 1438.0,256.0C1438.3,261.9 1438.8,271.8 1438.9,274.9M1429.7,256.9C1430.0,258.1 1431.1,261.4 1431.4,264.4C1431.7,267.4 1431.4,273.1 1431.4,274.9M1427.2,267.8 L1428.0,274.9M1499.1,152.3C1499.7,154.0 1501.9,159.0 1502.5,162.3C1503.1,165.7 1503.1,168.8 1502.5,172.4C1501.9,176.0 1500.5,180.2 1499.1,184.1C1497.7,188.0 1495.6,192.5 1494.1,195.8C1492.6,199.2 1491.2,202.2 1489.9,204.2C1488.7,206.1 1486.7,205.6 1486.6,207.5C1486.5,209.4 1488.5,212.8 1489.1,215.9C1489.6,219.0 1489.1,222.6 1489.9,225.9C1490.7,229.2 1492.6,232.4 1494.1,236.0C1495.6,239.6 1497.1,244.9 1499.1,247.7C1501.0,250.5 1503.8,250.5 1505.8,252.7C1507.8,254.9 1510.0,259.7 1510.8,261.1M1505.0,126.9C1505.5,128.3 1507.6,132.2 1508.3,135.6C1509.0,139.0 1508.6,143.7 1509.2,147.3C1509.8,150.9 1511.0,154.5 1511.7,157.3C1512.4,160.1 1513.7,160.9 1513.3,164.0C1512.9,167.1 1510.5,172.1 1509.2,175.7C1508.0,179.3 1506.5,183.0 1505.8,185.8C1505.1,188.6 1504.6,190.7 1505.0,192.5C1505.4,194.3 1506.9,195.8 1508.3,196.6C1509.7,197.4 1513.4,196.7 1513.3,197.5C1513.2,198.3 1509.3,200.0 1507.5,201.7C1505.7,203.4 1503.8,204.6 1502.5,207.5C1501.2,210.4 1500.2,215.6 1500.0,219.2C1499.8,222.8 1500.8,226.7 1501.6,229.3C1502.4,232.0 1502.8,233.4 1505.0,235.1C1507.2,236.8 1513.3,238.6 1515.0,239.3M1481.5,235.1C1481.8,235.8 1483.2,237.8 1483.2,239.3C1483.2,240.8 1481.1,242.2 1481.5,244.3C1481.9,246.4 1484.0,249.4 1485.7,251.9C1487.4,254.4 1489.9,257.0 1491.6,259.4C1493.3,261.8 1494.0,263.9 1495.8,266.1C1497.6,268.3 1501.4,271.7 1502.5,272.8M1476.5,258.5C1476.9,259.5 1478.4,261.7 1479.0,264.4C1479.6,267.1 1479.8,273.1 1479.9,274.9M1526.7,158.2 L1532.6,158.2M1527.6,159.0C1527.7,160.1 1528.4,163.8 1528.4,165.7C1528.4,167.6 1527.3,169.6 1527.6,170.7C1527.9,171.8 1529.7,172.1 1530.1,172.4M1510.8,98.8C1511.9,99.1 1515.3,99.9 1517.5,100.4C1519.7,101.0 1521.8,102.2 1524.2,102.1C1526.6,102.0 1530.5,100.0 1531.7,99.6M1434.5,268.7C1434.4,273.4 1434.1,288.2 1433.7,297.1C1433.3,306.0 1432.7,313.8 1432.0,322.2C1431.3,330.6 1430.2,338.9 1429.5,347.3C1428.8,355.7 1428.5,364.0 1427.8,372.4C1427.1,380.8 1426.1,389.1 1425.3,397.5C1424.5,405.9 1423.9,414.8 1422.8,422.6C1421.7,430.4 1420.3,437.9 1418.6,444.3C1416.9,450.7 1414.6,456.0 1412.8,461.1C1411.0,466.2 1408.6,472.6 1407.8,474.9M1431.9,268.7C1431.8,273.4 1431.4,288.2 1431.0,297.1C1430.6,306.0 1430.0,313.8 1429.3,322.2C1428.6,330.6 1427.5,338.9 1426.8,347.3C1426.1,355.7 1425.9,364.0 1425.2,372.4C1424.5,380.8 1423.6,389.1 1422.7,397.5C1421.8,405.9 1421.2,414.8 1420.1,422.6C1419.0,430.4 1417.7,437.9 1416.0,444.3C1414.3,450.7 1411.9,456.0 1410.1,461.1C1408.3,466.2 1405.9,472.6 1405.1,474.9M1429.2,268.7C1429.0,273.4 1428.7,288.2 1428.3,297.1C1427.9,306.0 1427.4,313.8 1426.7,322.2C1426.0,330.6 1424.9,338.9 1424.2,347.3C1423.5,355.7 1423.2,364.0 1422.5,372.4C1421.8,380.8 1420.8,389.1 1420.0,397.5C1419.2,405.9 1418.6,414.8 1417.5,422.6C1416.4,430.4 1415.0,437.9 1413.3,444.3C1411.6,450.7 1409.2,456.0 1407.4,461.1C1405.6,466.2 1403.2,472.6 1402.4,474.9M1426.5,268.7C1426.4,273.4 1426.1,288.2 1425.7,297.1C1425.3,306.0 1424.7,313.8 1424.0,322.2C1423.3,330.6 1422.2,338.9 1421.5,347.3C1420.8,355.7 1420.5,364.0 1419.8,372.4C1419.1,380.8 1418.1,389.1 1417.3,397.5C1416.5,405.9 1415.9,414.8 1414.8,422.6C1413.7,430.4 1412.3,437.9 1410.6,444.3C1408.9,450.7 1406.6,456.0 1404.8,461.1C1403.0,466.2 1400.5,472.6 1399.7,474.9M1444.7,283.7C1444.3,287.3 1442.9,298.2 1442.2,305.5C1441.5,312.8 1440.0,320.8 1440.6,327.2C1441.2,333.6 1444.8,341.1 1445.6,343.9M1448.9,272.0C1448.8,274.8 1448.8,281.7 1448.1,288.7C1447.4,295.7 1446.2,305.4 1444.7,313.8C1443.2,322.2 1440.2,330.2 1438.9,338.9C1437.7,347.5 1437.8,357.3 1437.2,365.7C1436.6,374.1 1436.1,382.6 1435.5,389.1C1434.9,395.7 1433.8,402.4 1433.5,405.0M1458.1,272.0 L1459.8,277.0M1480.7,272.0C1481.5,273.1 1484.7,276.5 1485.7,278.7C1486.7,280.9 1486.4,284.3 1486.6,285.4M1500.8,272.0C1501.2,273.1 1502.4,277.0 1503.3,278.7C1504.2,280.4 1505.6,281.4 1506.1,282.0M1483.2,290.4C1483.3,291.5 1483.5,295.0 1484.1,297.1C1484.7,299.2 1487.0,300.9 1486.6,303.0C1486.2,305.1 1483.0,307.4 1481.5,309.6C1480.0,311.8 1477.8,314.2 1477.4,316.3C1477.0,318.4 1477.3,320.7 1479.0,322.2C1480.7,323.7 1484.6,324.3 1487.4,325.5C1490.2,326.7 1494.4,328.6 1495.8,329.2M1500.8,306.3C1499.4,306.9 1494.5,308.1 1492.4,309.6C1490.3,311.1 1488.5,313.5 1488.2,315.5C1487.9,317.5 1489.3,319.9 1490.8,321.4C1492.3,322.8 1496.3,323.7 1497.4,324.2M1494.1,335.6C1493.0,334.6 1490.2,331.0 1487.4,329.7C1484.6,328.4 1480.5,327.9 1477.4,328.0C1474.3,328.1 1471.1,329.2 1469.0,330.6C1466.9,332.0 1465.3,334.2 1464.8,336.4C1464.2,338.6 1465.1,341.2 1465.7,343.9C1466.3,346.5 1467.4,349.8 1468.2,352.3C1469.0,354.8 1470.3,357.9 1470.7,359.0M1492.4,347.0C1491.3,346.5 1487.9,345.0 1485.7,343.9C1483.5,342.8 1481.0,340.9 1479.0,340.6C1477.0,340.3 1475.4,341.2 1474.0,342.3C1472.6,343.4 1471.1,345.1 1470.7,347.3C1470.3,349.5 1471.1,353.6 1471.5,355.7C1471.9,357.8 1472.9,359.1 1473.2,359.8M1475.7,354.8C1475.7,353.1 1479.0,349.8 1480.7,349.8C1482.4,349.8 1485.7,353.1 1485.7,354.8C1485.7,356.5 1482.4,359.8 1480.7,359.8C1479.0,359.8 1475.7,356.5 1475.7,354.8M1452.3,374.1C1453.3,372.1 1456.1,365.2 1458.1,362.3C1460.0,359.4 1461.9,356.8 1464.0,356.5C1466.1,356.2 1469.6,360.0 1470.7,360.7M1469.8,362.3C1468.8,363.1 1465.7,365.2 1464.0,367.4C1462.3,369.6 1460.5,372.9 1459.8,375.7C1459.1,378.5 1458.8,381.6 1459.8,384.1C1460.8,386.6 1463.6,388.6 1465.7,390.8C1467.8,393.0 1470.2,395.4 1472.3,397.5C1474.4,399.6 1477.1,401.4 1478.2,403.3C1479.3,405.2 1478.9,408.2 1479.0,409.2M1450.6,382.4C1451.1,383.5 1452.8,386.6 1453.9,389.1C1455.0,391.6 1457.0,394.1 1457.3,397.5C1457.6,400.9 1456.0,405.8 1455.6,409.2C1455.2,412.6 1455.3,415.2 1454.8,417.6C1454.2,420.0 1452.7,422.4 1452.3,423.4M1445.6,407.5C1446.1,408.6 1447.9,412.1 1448.9,414.2C1449.9,416.3 1451.0,419.1 1451.4,420.1M1478.2,414.2C1477.0,413.8 1473.1,412.0 1470.7,411.7C1468.3,411.4 1466.1,411.5 1464.0,412.5C1461.9,413.5 1459.9,415.8 1458.1,417.6C1456.3,419.4 1453.9,422.4 1453.1,423.4M1476.5,421.7C1475.2,421.0 1471.2,418.0 1469.0,417.6C1466.8,417.2 1464.6,418.1 1463.1,419.2C1461.6,420.3 1459.9,422.4 1459.8,424.3C1459.7,426.2 1461.0,428.8 1462.3,430.9C1463.5,433.0 1465.6,435.3 1467.3,436.8C1469.0,438.3 1471.8,439.6 1472.7,440.1M1453.1,430.9C1453.8,432.0 1456.2,435.6 1457.3,437.6C1458.4,439.6 1459.8,441.2 1459.8,442.7C1459.8,444.2 1459.1,446.1 1457.3,446.8C1455.5,447.5 1451.4,445.8 1448.9,446.8C1446.4,447.8 1444.0,450.3 1442.2,452.7C1440.4,455.1 1439.0,457.4 1438.0,461.1C1437.0,464.8 1436.7,472.6 1436.4,474.9M1450.6,429.3C1449.5,431.0 1446.1,436.1 1443.9,439.3C1441.7,442.5 1438.6,447.0 1437.5,448.5M1455.6,432.6C1456.7,434.0 1460.6,438.2 1462.3,441.0C1464.0,443.8 1465.0,446.9 1465.7,449.3C1466.4,451.7 1466.0,453.5 1466.5,455.2C1467.0,456.9 1468.6,458.7 1469.0,459.4M1442.2,420.9C1442.5,421.5 1444.0,423.1 1443.9,424.3C1443.8,425.6 1441.8,427.7 1441.4,428.4M1423.8,455.2C1423.0,456.4 1420.2,459.4 1418.8,462.7C1417.4,466.0 1416.0,472.9 1415.5,474.9M1484.9,380.8C1484.1,381.5 1480.0,383.7 1479.9,384.9C1479.8,386.1 1483.4,387.3 1484.1,387.8M1454.8,297.1C1454.7,297.5 1453.9,298.8 1453.9,299.6C1454.0,300.4 1454.9,301.7 1455.1,302.1M1407.1,472.0C1406.5,473.5 1405.4,477.8 1403.8,481.2C1402.2,484.6 1399.8,488.7 1397.4,492.1C1395.0,495.5 1392.1,498.9 1389.5,501.8C1386.9,504.7 1383.7,507.9 1382.0,509.6C1380.3,511.3 1379.9,511.8 1379.5,512.2M1403.8,472.0C1403.2,473.4 1402.0,477.3 1400.4,480.4C1398.9,483.5 1396.7,487.2 1394.5,490.4C1392.3,493.6 1389.2,497.1 1387.0,499.6C1384.8,502.1 1382.2,504.5 1381.2,505.5M1400.4,472.0C1399.9,473.2 1398.5,476.7 1397.1,479.5C1395.6,482.3 1393.7,485.9 1391.7,488.7C1389.7,491.5 1386.9,494.5 1385.3,496.3C1383.7,498.1 1382.5,499.1 1382.0,499.6M1397.1,472.0C1396.6,473.1 1395.4,476.2 1394.0,478.7C1392.6,481.2 1390.4,484.7 1388.7,487.1C1387.0,489.5 1384.5,491.9 1383.7,492.9M1414.6,472.0C1414.2,473.7 1413.9,477.8 1412.1,482.0C1410.3,486.2 1406.6,492.8 1403.8,497.1C1401.0,501.4 1398.5,504.6 1395.4,508.0C1392.3,511.4 1388.2,515.1 1385.3,517.2C1382.4,519.3 1379.0,520.0 1377.8,520.5M1418.0,487.9C1416.7,490.0 1413.3,496.2 1410.4,500.4C1407.5,504.6 1404.0,509.1 1400.4,513.0C1396.8,516.9 1392.8,521.2 1388.7,523.9C1384.7,526.5 1378.2,528.1 1376.1,528.9M1414.6,503.8C1413.1,506.0 1408.3,513.0 1405.4,517.2C1402.5,521.4 1399.0,525.5 1397.1,528.9C1395.1,532.2 1393.7,534.2 1393.7,537.3C1393.7,540.4 1395.4,544.1 1397.1,547.3C1398.8,550.5 1402.7,555.0 1403.8,556.5M1383.7,535.6C1384.0,536.7 1385.3,539.5 1385.3,542.3C1385.3,545.1 1384.2,549.2 1383.7,552.3C1383.2,555.4 1382.8,558.5 1382.0,560.7C1381.2,562.9 1378.7,564.0 1378.7,565.7C1378.7,567.4 1380.8,569.5 1382.0,570.7C1383.2,572.0 1386.2,572.4 1386.2,573.2C1386.2,574.0 1382.7,573.6 1382.0,575.7C1381.3,577.8 1382.8,583.0 1382.0,585.8C1381.2,588.6 1378.4,591.0 1377.0,592.5C1375.6,594.0 1374.2,594.6 1373.6,595.0M1437.2,472.0C1436.8,474.2 1435.4,480.9 1434.7,485.4C1434.0,489.9 1432.6,495.7 1433.0,498.8C1433.4,501.9 1435.5,502.7 1437.2,503.8C1438.9,504.9 1442.3,504.4 1443.1,505.5C1443.9,506.6 1443.2,509.4 1442.2,510.5C1441.2,511.6 1439.2,512.2 1437.2,512.2C1435.2,512.2 1432.5,509.9 1430.5,510.5C1428.5,511.1 1426.9,513.0 1425.5,515.5C1424.1,518.0 1422.8,521.6 1422.2,525.5C1421.7,529.4 1421.4,534.7 1422.2,538.9C1423.0,543.1 1425.5,547.0 1427.2,550.6C1428.9,554.2 1430.5,557.4 1432.2,560.7C1433.9,564.1 1436.1,567.4 1437.2,570.7C1438.3,574.1 1437.9,578.1 1438.9,580.8C1439.9,583.5 1442.4,586.0 1443.1,587.1M1417.1,554.3C1417.9,555.4 1420.8,558.5 1422.2,560.7C1423.6,562.9 1425.5,564.9 1425.5,567.4C1425.5,569.9 1422.8,572.1 1422.2,575.7C1421.7,579.3 1421.7,584.6 1422.2,589.1C1422.8,593.6 1424.9,598.0 1425.5,602.5C1426.1,607.0 1425.8,613.7 1425.8,615.9M1460.6,503.8C1459.5,504.1 1455.9,504.1 1453.9,505.5C1452.0,506.9 1450.6,510.0 1448.9,512.2C1447.2,514.4 1445.6,517.1 1443.9,518.8C1442.2,520.5 1439.5,520.5 1438.9,522.2C1438.4,523.9 1441.4,526.7 1440.6,528.9C1439.8,531.1 1435.2,533.4 1433.9,535.6C1432.6,537.8 1432.2,540.5 1433.0,542.3C1433.8,544.1 1437.1,545.4 1438.9,546.5C1440.7,547.6 1442.9,546.9 1443.9,549.0C1444.9,551.1 1444.0,555.7 1444.7,559.0C1445.4,562.3 1447.5,567.3 1448.1,569.0M1409.6,527.2C1409.3,527.9 1407.9,530.2 1407.9,531.4C1407.9,532.6 1409.3,533.7 1409.6,534.2M1456.5,518.8C1456.2,519.4 1454.8,521.1 1454.8,522.2C1454.8,523.3 1456.2,525.0 1456.5,525.5M1374.5,542.3C1374.9,543.0 1377.4,545.0 1377.0,546.5C1376.6,548.0 1372.8,550.2 1372.0,551.0M1368.6,571.5C1369.4,572.8 1372.3,576.7 1373.6,579.1C1374.8,581.5 1376.6,583.7 1376.1,585.8C1375.5,587.9 1372.2,590.4 1370.3,591.6C1368.3,592.9 1365.4,593.0 1364.4,593.3M1384.5,595.8C1384.4,594.7 1383.3,590.5 1383.7,589.1C1384.1,587.7 1385.8,587.1 1387.0,587.4C1388.2,587.7 1390.2,589.3 1391.2,590.8C1392.2,592.3 1392.6,595.6 1392.9,596.6M1398.7,580.8C1398.6,581.2 1397.8,582.5 1397.9,583.3C1398.1,584.1 1399.3,585.4 1399.6,585.8M1466.5,474.5C1465.4,475.3 1461.0,477.7 1459.8,479.5C1458.5,481.3 1458.5,483.9 1459.0,485.4C1459.5,486.9 1462.4,488.1 1463.1,488.7M1450.1,486.2C1450.1,485.2 1452.1,483.2 1453.1,483.2C1454.1,483.2 1456.1,485.2 1456.1,486.2C1456.1,487.2 1454.1,489.2 1453.1,489.2C1452.1,489.2 1450.1,487.2 1450.1,486.2M1477.4,492.1 L1478.2,498.8M1482.4,492.1 L1484.1,497.9M1488.2,490.4C1489.0,491.4 1491.3,496.6 1493.3,496.3C1495.3,496.0 1498.9,490.0 1500.0,488.7M1489.1,520.5C1488.3,521.6 1485.8,525.0 1484.1,527.2C1482.4,529.4 1479.8,532.8 1479.0,533.9M1491.6,520.5C1492.1,521.3 1494.4,523.3 1494.9,525.5C1495.5,527.7 1495.9,531.2 1494.9,533.9C1493.9,536.5 1491.3,539.3 1489.1,541.4C1486.9,543.5 1482.8,545.6 1481.5,546.5M1498.3,517.2C1498.6,519.2 1499.7,525.0 1500.0,528.9C1500.3,532.8 1500.0,538.6 1500.0,540.6M1503.3,517.2C1503.8,518.9 1506.2,523.6 1506.6,527.2C1507.0,530.8 1506.1,534.1 1505.8,538.9C1505.5,543.6 1505.1,552.9 1505.0,555.7M1512.5,531.4C1512.1,532.6 1510.3,536.0 1510.0,538.9C1509.7,541.8 1511.1,545.4 1510.8,549.0C1510.5,552.6 1508.1,556.8 1508.3,560.7C1508.5,564.6 1510.5,569.0 1511.7,572.4C1513.0,575.8 1515.4,578.3 1515.8,580.8C1516.2,583.3 1515.6,586.0 1514.2,587.4C1512.8,588.8 1509.5,588.0 1507.5,589.1C1505.5,590.2 1503.9,591.9 1502.5,594.1C1501.1,596.3 1500.4,599.9 1499.1,602.5C1497.8,605.1 1495.6,608.8 1494.9,610.0M1502.5,559.0C1502.8,560.4 1503.0,564.6 1504.1,567.4C1505.2,570.2 1506.7,573.5 1509.2,575.7C1511.7,577.9 1517.5,579.9 1519.2,580.8M1516.7,550.6C1516.0,551.7 1513.1,554.5 1512.5,557.3C1511.9,560.1 1512.5,564.3 1513.3,567.4C1514.1,570.5 1516.0,573.9 1517.5,575.7C1519.0,577.5 1521.7,577.8 1522.5,578.2M1520.9,564.9C1520.3,565.3 1517.7,566.1 1517.5,567.4C1517.3,568.6 1519.6,571.6 1520.0,572.4M1495.8,543.9C1495.2,544.5 1492.7,546.0 1492.4,547.3C1492.1,548.6 1493.8,550.8 1494.1,551.5M1498.3,559.8C1498.2,560.8 1497.8,563.9 1497.4,565.7C1497.0,567.5 1496.1,569.9 1495.8,570.7M1485.7,565.4C1486.8,566.0 1490.7,567.8 1492.4,569.0C1494.1,570.2 1495.2,571.8 1495.8,572.4M1524.2,592.5C1523.4,593.9 1520.6,598.3 1519.2,600.8C1517.8,603.3 1516.4,605.3 1515.8,607.5C1515.2,609.7 1516.6,612.0 1515.8,614.2C1515.0,616.4 1512.3,619.0 1510.8,620.9C1509.3,622.8 1507.3,623.9 1506.6,625.9C1505.9,627.9 1507.7,631.1 1506.6,632.6C1505.5,634.1 1501.1,634.7 1500.0,635.1M1529.2,622.6C1528.2,622.9 1524.9,622.9 1523.4,624.3C1521.9,625.7 1520.2,628.7 1520.0,630.9C1519.8,633.1 1521.2,636.1 1522.5,637.6C1523.8,639.1 1525.9,640.2 1527.6,640.1C1529.3,640.0 1531.8,637.3 1532.6,636.8M1488.2,575.7C1488.9,577.4 1491.1,582.4 1492.4,585.8C1493.7,589.1 1495.8,593.6 1495.8,595.8C1495.8,598.0 1493.0,598.6 1492.4,599.2M1530.1,550.6 L1535.1,550.3M1406.3,610.9C1407.0,610.5 1408.9,608.5 1410.4,608.4C1411.9,608.2 1414.1,609.0 1415.5,610.0C1416.9,611.0 1418.2,613.5 1418.8,614.2M1213.2,753.0C1215.9,752.2 1224.7,750.1 1229.5,748.0C1234.3,745.9 1238.7,742.4 1242.0,740.5C1245.3,738.6 1248.2,737.3 1249.4,736.7M1214.5,745.5C1216.6,744.9 1223.7,743.4 1227.0,741.7C1230.3,740.0 1232.0,738.4 1234.5,735.5C1237.0,732.6 1240.8,726.1 1242.0,724.2M1228.2,845.4C1227.4,842.5 1224.5,835.0 1223.2,827.9C1222.0,820.8 1221.1,810.4 1220.7,802.9C1220.3,795.4 1219.7,788.3 1220.7,782.9C1221.8,777.5 1222.6,775.2 1227.0,770.4C1231.4,765.6 1243.6,756.9 1246.9,754.2M1351.9,678.0C1351.3,680.1 1347.9,687.0 1348.1,690.5C1348.3,694.0 1351.6,697.1 1353.1,699.2C1354.6,701.3 1356.3,702.4 1356.9,703.0M1366.9,679.2C1365.9,680.7 1361.0,684.5 1360.6,688.0C1360.2,691.5 1362.9,695.9 1364.4,700.5C1365.9,705.1 1368.0,711.5 1369.4,715.5C1370.9,719.5 1372.5,722.8 1373.1,724.2M1354.4,706.7C1354.2,708.6 1352.9,714.0 1353.1,718.0C1353.3,722.0 1356.4,725.9 1355.6,730.5C1354.8,735.1 1348.7,740.9 1348.1,745.5C1347.5,750.1 1350.0,754.4 1351.9,757.9C1353.8,761.4 1357.3,763.4 1359.4,766.7C1361.5,770.0 1363.6,776.0 1364.4,777.9M1334.4,760.4C1336.1,762.1 1341.9,766.6 1344.4,770.4C1346.9,774.1 1348.6,779.1 1349.4,782.9C1350.2,786.6 1350.9,789.6 1349.4,792.9C1347.9,796.2 1342.3,800.2 1340.6,802.9C1338.9,805.6 1339.6,808.2 1339.4,809.2M1330.6,780.4C1331.4,781.2 1335.8,783.1 1335.6,785.4C1335.4,787.7 1330.4,792.7 1329.4,794.2M1394.4,698.0C1396.1,700.1 1401.8,706.1 1404.3,710.5C1406.8,714.9 1409.5,720.7 1409.3,724.2C1409.1,727.7 1406.2,728.6 1403.1,731.7C1400.0,734.8 1392.3,739.0 1390.6,743.0C1388.9,747.0 1392.0,750.4 1393.1,755.4C1394.1,760.4 1395.7,767.5 1396.9,772.9C1398.2,778.3 1399.1,784.1 1400.6,787.9C1402.0,791.6 1404.8,794.1 1405.6,795.4M1379.4,765.4C1380.2,766.2 1384.2,767.5 1384.4,770.4C1384.6,773.3 1380.2,778.7 1380.6,782.9C1381.0,787.1 1384.6,792.5 1386.9,795.4C1389.2,798.3 1393.2,799.6 1394.4,800.4M1398.1,802.9C1395.8,804.6 1387.9,809.1 1384.4,812.9C1380.9,816.6 1379.8,822.1 1376.9,825.4C1374.0,828.6 1368.6,831.2 1366.9,832.4M1401.8,811.7C1400.3,813.6 1394.8,819.4 1393.1,822.9C1391.4,826.4 1392.1,831.2 1391.9,832.9M1358.1,810.4C1356.2,811.6 1349.6,814.6 1346.9,817.9C1344.2,821.2 1344.0,826.0 1341.9,830.4C1339.8,834.8 1338.2,840.8 1334.4,844.1C1330.7,847.4 1321.9,849.4 1319.4,850.4M1334.4,814.2C1334.0,815.7 1333.8,820.7 1331.9,822.9C1330.0,825.1 1324.6,826.6 1323.1,827.4M1354.4,827.9C1354.0,829.6 1352.1,835.2 1351.9,837.9C1351.7,840.6 1352.9,843.1 1353.1,844.1M1393.1,836.6C1390.8,838.1 1384.2,843.1 1379.4,845.4C1374.6,847.7 1366.9,849.6 1364.4,850.4M1350.6,855.4C1349.1,856.0 1342.5,857.9 1341.9,859.1C1341.3,860.4 1346.1,862.3 1346.9,862.9M1336.9,866.6C1337.7,867.6 1340.0,871.6 1341.9,872.9C1343.8,874.1 1347.1,873.9 1348.1,874.1M1393.1,864.1C1390.0,864.5 1380.0,864.9 1374.4,866.6C1368.8,868.3 1361.9,872.9 1359.4,874.1M1391.9,870.4C1389.0,871.2 1379.8,873.5 1374.4,875.4C1369.0,877.3 1361.9,880.6 1359.4,881.6M1390.6,877.9 L1379.4,884.1M1374.4,892.9C1372.7,894.1 1367.7,898.1 1364.4,900.4C1361.1,902.7 1356.1,905.6 1354.4,906.6M1341.9,892.9C1339.8,894.6 1333.2,900.4 1329.4,902.9C1325.7,905.4 1322.7,907.1 1319.4,907.9C1316.1,908.7 1311.1,907.9 1309.4,907.9M1341.9,906.6C1339.0,908.0 1330.0,914.0 1324.4,915.3C1318.8,916.5 1310.9,914.3 1308.2,914.1M1339.4,907.9C1337.3,909.1 1330.2,912.6 1326.9,915.3C1323.6,918.0 1319.4,921.6 1319.4,924.1C1319.4,926.6 1323.8,928.6 1326.9,930.3C1330.0,932.0 1336.2,933.5 1338.1,934.1M1333.1,886.6C1331.6,888.1 1327.1,893.3 1324.4,895.4C1321.7,897.5 1318.2,898.5 1316.9,899.1M1323.1,885.4C1321.9,886.6 1317.8,890.6 1315.7,892.9C1313.6,895.2 1311.5,898.1 1310.7,899.1M1349.4,934.1 L1355.6,941.6M1304.4,934.1 L1310.7,941.6M1529.3,776.7C1529.9,777.5 1531.8,780.7 1533.0,781.7C1534.2,782.7 1536.2,782.7 1536.8,782.9M1536.8,789.2 L1529.3,795.4M1536.8,807.9 L1531.8,814.2M1406.8,700.5C1408.0,700.9 1412.0,702.0 1414.3,703.0C1416.6,704.0 1419.5,706.1 1420.6,706.7M442.2,169.2C441.9,170.5 441.9,174.4 440.5,176.8C439.1,179.2 436.3,181.0 433.8,183.5C431.3,186.0 427.7,189.0 425.5,191.8C423.3,194.6 421.9,198.0 420.5,200.2C419.1,202.4 418.8,203.9 417.1,205.2C415.4,206.4 411.5,206.4 410.4,207.7C409.3,208.9 411.2,211.3 410.4,212.7C409.6,214.1 406.9,215.8 405.4,216.1C403.9,216.4 401.8,215.7 401.2,214.4C400.6,213.2 401.3,210.0 402.1,208.6C402.9,207.2 405.5,206.4 406.2,206.0M443.9,192.7C443.2,193.4 440.4,195.0 439.7,196.8C439.0,198.6 439.4,201.8 439.7,203.5C440.0,205.2 441.1,206.3 441.4,206.9M438.9,214.4C437.9,214.8 434.3,215.4 433.0,216.9C431.7,218.4 430.9,221.4 431.3,223.6C431.7,225.8 434.8,229.2 435.5,230.3M386.2,212.7C386.9,213.7 389.6,215.9 390.3,218.6C391.0,221.2 389.6,226.1 390.3,228.6C391.0,231.1 392.5,232.7 394.5,233.7C396.5,234.7 399.7,234.8 402.1,234.5C404.5,234.2 406.9,233.4 408.8,232.0C410.8,230.6 412.0,227.2 413.8,226.1C415.6,225.0 417.9,224.3 419.6,225.3C421.3,226.3 422.8,228.9 423.8,232.0C424.8,235.1 425.5,240.1 425.5,243.7C425.5,247.3 423.5,250.1 423.8,253.7C424.1,257.3 426.6,263.4 427.2,265.4M418.0,236.2C417.6,236.6 415.4,237.6 415.4,238.7C415.4,239.8 417.6,242.2 418.0,242.9M530.9,200.2C530.1,201.0 527.0,202.7 525.9,205.2C524.8,207.7 523.9,212.0 524.2,215.3C524.5,218.7 526.2,222.0 527.5,225.3C528.8,228.6 531.1,232.0 531.7,235.3C532.3,238.7 530.6,242.1 530.9,245.4C531.2,248.8 532.0,252.6 533.4,255.4C534.8,258.2 537.6,260.9 539.3,262.1C541.0,263.3 542.7,262.3 543.4,262.4M549.3,221.9 L560.0,222.3M551.0,231.1 L560.0,228.6M556.0,255.4 L560.0,256.2M553.5,310.6C551.7,311.7 545.8,314.5 542.6,317.3C539.4,320.1 536.3,324.5 534.2,327.3C532.1,330.1 531.5,332.2 530.0,334.0C528.5,335.8 525.8,337.5 525.0,338.2M386.2,206.0 L391.2,204.4M385.3,208.6 L391.2,207.7M387.0,210.6 L391.2,209.9M531.0,200.3C530.0,201.4 526.2,204.2 525.1,207.0C524.0,209.8 524.0,213.1 524.3,217.0C524.6,220.9 525.7,226.8 526.8,230.4C527.9,234.0 530.3,235.5 531.0,238.8C531.7,242.2 530.2,247.2 531.0,250.5C531.8,253.8 533.9,256.7 536.0,258.8C538.1,260.9 542.2,262.3 543.5,263.0M548.5,221.7C551.6,221.9 561.0,222.8 566.9,222.9C572.8,223.0 580.9,222.5 583.7,222.4M551.0,231.2C553.6,230.8 562.3,229.0 566.9,228.7C571.5,228.4 575.4,229.1 578.6,229.5C581.8,229.9 584.9,230.9 586.2,231.2M568.1,242.1C568.1,241.2 570.3,239.6 571.4,239.6C572.5,239.6 574.8,241.2 574.8,242.1C574.8,243.0 572.5,244.9 571.4,244.9C570.3,244.9 568.1,243.0 568.1,242.1M556.0,255.5C558.4,255.1 565.7,253.2 570.3,253.0C574.9,252.8 580.4,254.6 583.7,254.6C587.0,254.6 589.2,253.3 590.3,253.0M557.7,263.8C559.2,263.1 564.0,260.4 566.9,259.7C569.8,259.0 572.8,258.9 575.3,259.7C577.8,260.5 579.1,264.0 582.0,264.7C584.9,265.4 591.1,263.9 592.9,263.8M595.4,277.2C594.0,277.2 589.8,277.8 587.0,277.2C584.2,276.6 581.1,273.9 578.6,273.9C576.1,273.9 572.9,275.5 571.9,277.2C570.9,278.9 573.3,281.9 572.8,283.9C572.2,285.8 570.1,287.2 568.6,288.9C567.1,290.6 564.4,293.1 563.6,294.0M566.9,310.7C568.0,309.0 571.1,303.2 573.6,300.7C576.1,298.2 579.5,296.3 582.0,295.6C584.5,294.9 587.2,295.1 588.7,296.5C590.2,297.9 590.1,301.6 591.2,304.0C592.3,306.4 595.4,308.5 595.4,310.7C595.4,312.9 592.9,315.4 591.2,317.4C589.5,319.3 587.0,320.4 585.3,322.4C583.6,324.3 581.8,328.0 581.1,329.1M604.6,321.6C603.3,322.3 599.1,324.3 597.0,325.8C594.9,327.3 592.8,330.0 592.0,330.8M571.9,328.3C573.3,328.3 577.8,328.0 580.3,328.3C582.8,328.6 585.9,329.6 587.0,329.9M553.5,310.7C551.8,311.5 546.4,313.5 543.5,315.7C540.6,317.9 538.1,321.2 536.0,324.1C533.9,327.0 531.8,331.4 531.0,332.9M1253.2,534.9C1256.3,533.9 1265.7,530.4 1271.9,528.7C1278.2,527.0 1287.6,525.5 1290.7,524.9M1251.9,541.1C1255.2,539.9 1265.7,535.7 1271.9,533.6C1278.2,531.5 1286.5,529.5 1289.4,528.7M1250.7,547.4C1253.8,546.1 1263.2,542.2 1269.4,539.9C1275.7,537.6 1285.1,534.6 1288.2,533.6M1249.4,564.9C1252.3,563.2 1260.7,558.2 1266.9,554.9C1273.2,551.6 1283.6,546.6 1286.9,544.9M1248.2,571.1C1251.3,569.4 1260.7,564.4 1266.9,561.1C1273.2,557.8 1282.6,552.8 1285.7,551.1M1248.2,577.4C1251.1,575.9 1259.9,571.7 1265.7,568.6C1271.5,565.5 1280.3,560.3 1283.2,558.6M1249.4,582.4C1251.9,581.1 1259.0,577.6 1264.4,574.9C1269.8,572.2 1279.0,567.6 1281.9,566.1M1256.9,584.9C1258.6,583.9 1263.6,580.7 1266.9,578.6C1270.2,576.5 1275.2,573.4 1276.9,572.4M1269.4,586.1C1270.2,585.3 1272.7,582.4 1274.4,581.1C1276.1,579.9 1278.6,579.0 1279.4,578.6M507.0,764.2C507.8,764.8 510.6,766.2 512.0,767.9C513.5,769.6 514.0,773.0 515.7,774.2C517.4,775.4 521.0,774.8 522.0,774.9M530.7,834.9C528.6,836.4 520.9,840.3 518.2,844.1C515.5,847.9 514.1,853.5 514.5,857.9C514.9,862.3 518.8,866.9 520.7,870.4C522.6,873.9 522.8,877.2 525.7,879.1C528.6,881.0 536.1,881.2 538.2,881.6M512.0,906.6C513.7,906.4 519.3,905.0 522.0,905.4C524.7,905.8 526.8,907.6 528.2,909.1C529.7,910.6 530.3,913.3 530.7,914.1M686.4,765.4C685.6,767.1 682.4,771.2 681.9,775.4C681.4,779.6 683.1,784.6 683.1,790.4C683.1,796.2 682.3,805.4 681.9,810.4C681.5,815.4 680.8,818.7 680.6,820.4M689.4,777.9C689.0,779.6 687.3,783.7 686.9,787.9C686.5,792.1 686.3,798.7 686.9,802.9C687.5,807.1 690.0,811.2 690.6,812.9M979.9,887.4C981.0,890.0 983.7,897.8 986.2,902.9C988.7,908.0 991.8,913.8 994.9,917.8C998.0,921.8 1003.2,925.1 1004.9,926.6M974.9,911.6C976.1,913.7 979.7,920.2 982.4,924.1C985.1,928.0 989.1,932.4 991.2,935.3C993.3,938.2 994.3,940.5 994.9,941.6M996.2,882.9C996.0,885.4 994.3,892.9 994.9,897.9C995.5,902.9 997.8,910.7 999.9,912.8C1002.0,914.9 1006.1,910.7 1007.4,910.3M1021.2,902.9C1021.8,905.0 1022.8,911.1 1024.9,915.3C1027.0,919.4 1030.0,924.5 1033.7,927.8C1037.5,931.1 1045.1,934.0 1047.4,935.3M1016.2,930.3 L1027.4,941.6M305.9,850.4C307.2,850.4 311.7,849.4 313.9,850.4C316.1,851.4 317.1,854.4 318.9,856.6C320.6,858.8 323.5,862.3 324.4,863.4M348.9,847.9C349.7,848.3 351.0,851.2 352.6,852.9C354.2,854.6 357.4,856.0 358.8,857.9C360.2,859.8 361.7,862.4 361.3,864.1C360.9,865.8 358.0,868.1 356.3,867.9C354.6,867.7 352.5,865.0 351.3,862.9C350.1,860.8 349.5,857.5 348.9,855.4C348.3,853.3 347.6,851.6 347.6,850.4C347.6,849.1 348.1,847.5 348.9,847.9M340.1,875.4C340.7,876.4 342.8,879.5 343.9,881.6C344.9,883.7 345.4,886.4 346.4,887.9C347.4,889.4 349.5,890.4 350.1,890.9M370.1,870.9C369.6,871.9 367.4,874.0 366.8,876.6C366.2,879.2 366.4,884.9 366.3,886.6" fill="none" stroke="#505d65" stroke-width="1.9" stroke-linecap="butt"/><path d="M337.7,306.8C339.2,305.1 343.1,299.9 346.9,296.8C350.7,293.7 355.8,290.8 360.3,288.4C364.8,286.0 370.1,283.9 373.7,282.6C377.3,281.4 380.7,281.2 382.1,280.9M341.9,292.6C343.0,291.4 347.2,288.0 348.6,285.1C350.0,282.2 349.5,278.0 350.3,275.1C351.1,272.2 353.9,270.0 353.6,267.5C353.3,265.0 349.4,261.2 348.6,260.0M363.7,265.0C364.8,264.7 368.6,264.1 370.3,263.3C372.0,262.5 373.1,260.6 373.7,260.0M324.3,371.3C325.1,373.4 328.4,380.1 329.4,383.8C330.4,387.6 329.2,390.5 330.2,393.8C331.2,397.1 332.7,401.1 335.2,403.9C337.7,406.7 343.1,409.2 345.3,410.6C347.5,412.0 348.1,412.0 348.6,412.3M321.0,388.8C321.7,390.8 323.1,396.9 325.2,400.5C327.3,404.1 330.4,407.5 333.5,410.6C336.6,413.7 341.4,416.8 343.6,418.9C345.8,421.0 346.3,422.4 346.9,423.1M318.5,403.0C319.3,404.6 320.7,409.9 323.5,412.3C326.3,414.7 332.4,416.1 335.2,417.3C338.0,418.6 339.4,419.4 340.2,419.8M330.2,427.3C330.8,425.9 333.5,424.0 335.2,424.0C336.9,424.0 339.6,425.9 340.2,427.3C340.8,428.7 340.0,431.5 338.6,432.3C337.2,433.1 333.3,433.1 331.9,432.3C330.5,431.5 329.6,428.7 330.2,427.3M313.5,441.5C315.7,441.6 322.1,441.8 326.8,442.4C331.5,443.0 339.4,444.5 341.9,444.9M314.3,459.9C315.3,458.8 315.6,454.4 320.2,453.2C324.8,451.9 338.3,452.5 341.9,452.4M285.0,456.6C285.8,454.8 288.8,448.5 290.0,445.7C291.2,442.9 292.1,440.9 292.5,439.9M510.9,268.4C512.9,268.9 518.1,270.3 522.6,271.7C527.1,273.1 535.2,275.9 537.7,276.7M512.6,279.2C514.3,279.5 519.7,278.8 522.6,280.9C525.5,283.0 529.3,288.3 530.1,291.8C530.9,295.3 529.4,298.9 527.6,301.8C525.8,304.7 520.7,308.1 519.3,309.4M520.1,317.7C521.6,317.4 526.0,317.5 529.3,316.0C532.6,314.5 538.2,309.8 540.0,308.5M362.0,420.6C363.4,421.7 367.9,426.5 370.3,427.3C372.7,428.1 375.1,427.3 376.2,425.6C377.3,423.9 376.3,419.4 377.0,417.3C377.7,415.2 379.8,413.8 380.4,413.1M358.6,432.3C360.3,433.6 365.6,437.7 368.7,439.9C371.8,442.1 375.6,444.7 377.0,445.7M353.6,454.9C355.8,455.2 363.6,456.7 367.0,456.6C370.4,456.5 372.6,454.5 373.7,454.1M531.0,370.8 L540.0,370.4M534.3,383.0 L540.0,383.0M535.1,388.8 L540.0,388.8M392.1,275.9C392.2,276.7 392.7,279.8 392.4,280.9C392.1,282.0 390.7,282.3 390.4,282.6M387.1,439.0C388.9,439.4 392.4,440.7 393.8,442.4C395.2,444.1 396.0,447.2 395.4,449.1C394.8,451.1 392.3,453.6 390.4,454.1C388.4,454.7 385.4,453.8 383.7,452.4C382.0,451.0 380.5,447.8 380.4,445.7C380.3,443.6 381.8,441.0 382.9,439.9C384.0,438.8 385.3,438.6 387.1,439.0M387.1,432.3C390.5,432.6 396.2,434.8 398.8,437.3C401.4,439.8 403.3,444.0 403.0,447.4C402.7,450.8 399.8,455.3 397.1,457.4C394.5,459.5 390.3,460.4 387.1,459.9C383.9,459.3 379.8,456.8 377.9,454.1C375.9,451.5 375.3,447.1 375.4,444.0C375.5,440.9 376.8,437.6 378.7,435.7C380.6,433.8 383.8,432.0 387.1,432.3M383.7,417.3C385.6,418.7 391.8,422.3 395.4,425.6C399.0,428.9 403.4,433.4 405.5,437.3C407.6,441.2 408.3,445.2 408.0,449.1C407.7,453.0 404.5,458.9 403.8,460.8M376.2,415.6 L382.1,413.1M265.3,465.9C267.2,465.1 273.7,462.4 277.0,460.9C280.3,459.4 283.5,458.5 285.3,456.7C287.1,454.9 287.4,451.1 287.8,450.0M276.1,475.1C277.4,475.7 280.5,477.9 283.7,478.5C286.9,479.1 292.1,477.9 295.4,478.5C298.7,479.1 302.3,481.2 303.7,481.8M277.8,471.0 L285.3,470.1M287.0,466.8 L297.0,458.4M270.3,486.8C272.5,486.7 279.2,486.4 283.7,486.0C288.1,485.6 293.1,484.0 297.0,484.3C300.9,484.6 304.9,488.4 307.1,487.7C309.3,487.0 308.7,483.1 310.4,480.2C312.1,477.3 314.6,473.2 317.1,470.1C319.6,467.0 321.9,463.5 325.5,461.8C329.1,460.1 336.7,460.4 338.9,460.1M308.8,480.2C309.1,478.0 309.0,470.7 310.4,466.8C311.8,462.9 314.9,459.1 317.1,456.7C319.3,454.3 319.9,453.2 323.8,452.5C327.7,451.8 337.7,452.5 340.5,452.5M313.8,441.7C316.0,441.7 322.5,441.1 327.2,441.7C331.9,442.2 339.7,444.4 342.2,445.0M240.2,463.4C240.5,465.1 241.8,470.4 241.8,473.5C241.8,476.6 239.4,479.0 240.2,481.8C241.0,484.6 245.7,488.8 246.8,490.2M231.0,475.1C230.8,476.5 229.7,481.0 230.1,483.5C230.5,486.0 233.3,487.7 233.5,490.2C233.7,492.7 232.1,495.5 231.0,498.6C229.9,501.7 227.5,506.9 226.8,508.6M248.5,495.2C247.7,497.1 244.9,502.7 243.5,506.9C242.1,511.1 241.4,516.4 240.2,520.3C238.9,524.2 237.4,527.6 236.0,530.3C234.6,532.9 232.5,535.2 231.8,536.2M258.6,501.1C257.2,502.6 252.7,506.5 250.2,510.3C247.7,514.1 245.2,519.2 243.5,523.7C241.8,528.2 241.7,533.5 240.2,537.0C238.7,540.5 235.3,543.3 234.3,544.6M353.9,455.1C356.1,455.4 363.9,456.6 367.3,456.7C370.7,456.8 372.9,456.0 374.0,455.9M353.1,461.8C355.5,462.1 363.8,463.5 367.3,463.4C370.8,463.2 372.1,461.2 374.0,460.9C375.9,460.6 378.2,461.6 379.0,461.8M379.9,441.7C380.0,442.8 379.4,446.6 380.7,448.4C381.9,450.2 385.2,452.2 387.4,452.5C389.6,452.8 392.6,451.5 394.1,450.0C395.6,448.5 396.2,444.4 396.6,443.3M374.0,451.7C375.4,452.9 379.6,457.8 382.4,459.2C385.2,460.6 387.6,461.1 390.7,460.1C393.8,459.1 398.4,456.2 400.8,453.4C403.2,450.6 404.3,445.0 405.0,443.3M384.0,465.1C385.4,465.5 389.6,468.2 392.4,467.6C395.2,467.1 398.6,463.9 400.8,461.8C403.0,459.7 405.0,456.2 405.8,455.1M261.9,707.8C262.5,709.3 264.7,713.5 265.3,717.0C265.9,720.5 265.3,726.8 265.3,728.8M268.6,733.8C268.7,736.0 268.8,743.3 269.4,747.2C269.9,751.1 272.2,754.6 271.9,757.2C271.6,759.8 269.3,761.3 267.8,763.0C266.3,764.7 263.8,764.3 262.7,767.2C261.6,770.1 261.4,778.4 261.1,780.6M257.7,735.4C257.6,736.2 257.4,736.9 256.9,740.5C256.3,744.1 254.8,754.4 254.4,757.2M282.0,783.1C283.4,783.0 287.8,782.0 290.3,782.3C292.8,782.6 295.6,782.8 297.0,784.8C298.4,786.8 298.4,791.1 298.4,794.0C298.4,796.9 298.4,800.4 297.0,802.4C295.6,804.4 292.8,805.3 290.3,805.7C287.8,806.1 283.9,806.3 282.0,804.9C280.1,803.5 278.9,800.2 278.6,797.3C278.3,794.4 280.0,789.0 280.3,787.3M320.5,743.0C321.6,743.0 325.2,742.0 327.2,743.0C329.1,744.0 329.7,747.4 332.2,748.8C334.7,750.2 339.0,749.9 342.2,751.3C345.4,752.7 349.9,756.2 351.4,757.2M320.5,747.2C320.5,748.3 319.8,750.7 320.5,753.8C321.2,756.9 323.5,761.4 324.6,765.6C325.7,769.8 326.6,774.7 327.2,778.9C327.8,783.1 327.7,787.1 328.0,790.7C328.3,794.3 327.3,797.8 328.8,800.7C330.3,803.6 334.4,806.7 337.2,808.2C340.0,809.7 342.0,810.6 345.6,809.9C349.2,809.2 356.7,805.0 358.9,804.0M303.7,754.7C303.0,755.4 299.8,757.4 299.5,758.9C299.2,760.4 301.0,763.1 302.1,763.9C303.2,764.7 305.5,763.9 306.2,763.9M311.3,768.9C311.1,770.9 310.1,775.6 310.4,780.6C310.7,785.6 312.5,795.9 312.9,799.0M316.3,789.0 L315.4,799.0M417.5,635.1C418.5,636.2 422.0,638.7 423.4,641.8C424.8,644.9 424.1,649.6 425.9,653.5C427.7,657.4 431.7,661.6 434.2,665.2C436.7,668.8 438.1,672.7 440.9,675.2C443.7,677.7 447.8,678.2 451.0,680.2C454.2,682.2 458.5,685.8 460.0,686.9M425.9,681.9C427.8,682.7 434.0,684.7 437.6,686.9C441.2,689.1 444.5,691.9 447.6,695.3C450.7,698.6 453.9,703.9 456.0,707.0C458.1,710.1 459.3,712.6 460.0,713.7M428.4,695.3C429.9,696.7 434.7,700.4 437.6,703.7C440.5,707.1 443.5,712.6 445.9,715.4C448.3,718.2 450.7,718.2 451.8,720.4C452.9,722.6 451.2,724.3 452.6,728.8C454.0,733.3 458.8,744.1 460.0,747.2M433.4,717.0C434.6,718.1 439.2,720.4 440.9,723.7C442.6,727.1 442.6,732.9 443.4,737.1C444.2,741.3 444.6,744.6 445.9,748.8C447.2,753.0 449.5,758.6 451.0,762.2C452.5,765.8 454.6,767.0 455.1,770.6C455.7,774.2 454.7,779.5 454.3,784.0C453.9,788.5 452.5,792.6 452.6,797.3C452.7,802.0 454.7,808.1 455.1,812.4C455.5,816.7 455.1,821.1 455.1,822.9M342.2,678.6 L342.2,685.3M591.3,675.8C593.9,675.8 601.6,675.4 607.2,675.8C612.8,676.2 621.9,677.6 624.8,678.0M637.3,678.8C639.0,679.1 644.0,679.4 647.4,680.5C650.8,681.6 654.5,684.1 657.4,685.5C660.3,686.9 662.6,689.4 665.0,688.8C667.4,688.2 670.5,683.2 671.6,682.1M639.9,688.8C641.1,689.2 644.8,689.6 647.4,691.3C650.0,693.0 653.0,696.8 655.8,698.9C658.6,701.0 661.9,701.4 664.1,703.9C666.3,706.4 667.6,710.7 669.1,713.9C670.6,717.1 671.8,722.1 673.3,723.1C674.8,724.1 677.5,720.3 678.3,719.8M626.5,693.0C626.1,694.5 625.5,699.8 624.0,702.2C622.5,704.6 619.8,706.4 617.3,707.2C614.8,708.0 610.4,708.2 608.9,707.2C607.4,706.2 607.3,702.8 608.1,701.4C608.9,700.0 611.8,699.0 613.9,698.9C616.0,698.8 619.5,700.2 620.6,700.5M621.5,708.9C621.1,710.6 619.2,715.5 618.9,718.9C618.6,722.2 618.1,726.2 619.8,729.0C621.5,731.8 626.5,734.9 629.0,735.7C631.5,736.5 633.8,734.3 634.8,734.0M650.7,748.2C652.4,747.5 657.7,746.1 660.8,744.0C663.9,741.9 665.8,738.1 669.1,735.7C672.4,733.3 678.8,730.8 680.8,729.8M681.7,744.0C681.3,745.4 679.5,749.6 679.2,752.4C678.9,755.2 679.9,759.4 680.0,760.8M621.5,749.1C622.5,749.1 625.8,750.0 627.3,749.1C628.8,748.2 630.1,744.9 630.7,744.0M460.0,713.9C460.3,716.1 460.4,722.8 461.7,727.3C462.9,731.8 466.4,736.5 467.5,740.7C468.6,744.9 467.8,749.0 468.4,752.4C469.0,755.8 470.5,759.4 470.9,760.8M533.6,383.0C536.4,383.0 545.5,382.5 550.3,383.0C555.0,383.5 558.9,384.4 562.1,385.9C565.3,387.3 568.2,389.3 569.6,391.7C571.0,394.1 570.8,396.5 570.4,400.1C570.0,403.7 568.8,410.1 567.1,413.5C565.4,416.9 563.2,418.5 560.4,420.2C557.6,421.9 553.4,422.8 550.3,423.5C547.2,424.2 543.4,424.2 542.0,424.3M535.3,388.4C537.0,388.8 542.8,389.5 545.3,390.9C547.8,392.3 549.3,394.0 550.3,396.7C551.3,399.4 551.5,404.0 551.2,406.8C550.9,409.6 550.4,411.7 548.7,413.5C547.0,415.3 542.4,416.9 541.1,417.6M537.8,399.2C538.2,399.8 540.3,401.6 540.3,402.6C540.3,403.6 538.2,404.7 537.8,405.1M544.5,431.9C546.0,431.8 551.1,431.3 553.7,431.0C556.4,430.7 558.6,429.4 560.4,430.2C562.2,431.0 561.5,435.2 564.6,436.0C567.7,436.8 576.4,435.3 578.8,435.2M593.8,441.9C594.9,440.8 598.3,436.4 600.5,435.2C602.7,434.0 605.8,434.3 607.2,434.9C608.6,435.5 609.5,437.2 608.9,438.6C608.3,440.1 605.0,441.4 603.9,443.6C602.8,445.8 602.4,447.7 602.2,451.9C602.1,456.1 603.5,464.2 603.0,468.7C602.5,473.2 599.6,477.0 598.9,478.7M602.2,480.4C602.3,482.6 601.6,490.6 603.0,493.8C604.4,497.0 607.1,497.4 610.6,499.6C614.1,501.8 620.1,505.8 624.0,507.2C627.9,508.6 631.2,507.6 634.0,508.0C636.8,508.4 639.6,509.4 640.7,509.7M625.6,438.6C624.5,439.7 620.4,442.8 618.9,445.3C617.4,447.8 616.7,450.5 616.4,453.6C616.1,456.7 617.4,459.8 617.3,463.7C617.2,467.6 615.6,472.8 615.6,477.0C615.6,481.2 616.2,485.7 617.3,488.8C618.4,491.9 619.8,493.3 622.3,495.4C624.8,497.5 630.6,500.3 632.3,501.3M624.8,460.3C624.8,463.6 624.1,475.4 624.8,480.4C625.5,485.4 626.9,487.8 629.0,490.4C631.1,493.0 635.9,495.3 637.3,496.3M627.3,512.2C627.9,513.0 629.0,515.8 630.7,517.2C632.4,518.6 635.2,519.9 637.3,520.5C639.4,521.1 642.2,520.8 643.2,520.9M607.2,380.0C607.5,381.1 607.6,384.6 608.9,386.7C610.2,388.8 614.9,390.7 614.8,392.5C614.7,394.3 609.9,395.8 608.1,397.6C606.3,399.4 604.3,401.0 603.9,403.4C603.5,405.8 604.6,409.7 605.6,411.8C606.6,413.9 606.9,415.7 609.7,416.0C612.5,416.3 620.2,413.9 622.3,413.5M707.6,383.3 L703.4,393.4M716.0,390.0C716.0,392.5 715.3,401.2 716.0,405.1C716.7,409.0 719.3,412.1 720.0,413.5M697.7,205.9C697.4,208.3 696.7,216.1 696.0,220.1C695.3,224.1 694.8,226.8 693.5,230.1C692.2,233.4 690.0,237.1 688.5,240.2C687.0,243.3 684.3,246.3 684.3,248.5C684.3,250.7 686.5,252.0 688.5,253.5C690.5,255.0 693.9,255.7 696.0,257.7C698.1,259.7 700.0,262.4 701.1,265.3C702.2,268.2 702.6,272.2 702.7,275.3C702.8,278.4 701.3,279.8 701.9,283.7C702.5,287.6 704.7,294.5 706.1,298.7C707.5,302.9 708.8,305.4 710.3,308.8C711.8,312.2 713.2,316.4 715.3,318.8C717.4,321.2 721.5,322.3 722.8,323.0M663.4,210.9C664.5,212.2 669.1,215.8 670.1,218.4C671.1,221.1 669.4,225.4 669.3,226.8M681.0,215.1C681.8,216.1 685.9,218.7 686.0,220.9C686.1,223.1 683.2,226.0 681.8,228.4C680.4,230.8 678.1,232.9 677.6,235.1C677.1,237.3 678.8,239.3 678.5,241.8C678.2,244.3 675.9,247.5 676.0,250.2C676.1,252.8 677.2,255.2 679.3,257.7C681.4,260.2 686.4,262.6 688.5,265.3C690.6,268.0 691.1,270.0 691.9,273.6C692.7,277.2 692.7,282.5 693.5,287.0C694.3,291.5 695.2,295.9 696.9,300.4C698.6,304.9 701.4,309.9 703.6,313.8C705.8,317.7 708.1,321.3 710.3,323.8C712.5,326.3 714.9,327.7 717.0,328.8C719.1,329.9 721.8,330.2 722.8,330.5M676.0,266.9C677.2,267.7 682.1,269.1 683.5,271.9C684.9,274.7 683.5,278.9 684.3,283.7C685.1,288.4 687.0,295.7 688.5,300.4C690.0,305.1 691.3,308.8 693.5,312.1C695.7,315.5 698.8,317.1 701.9,320.5C705.0,323.9 707.8,329.0 711.9,332.2C716.0,335.4 723.8,338.4 726.2,339.7M686.0,313.8C687.5,314.9 692.0,317.7 695.2,320.5C698.4,323.3 702.2,327.7 705.3,330.5C708.4,333.3 710.5,334.7 713.6,337.2C716.7,339.7 722.0,344.2 723.7,345.6M688.5,324.6C689.9,325.9 693.8,329.8 696.9,332.2C700.0,334.6 703.8,336.4 706.9,338.9C710.0,341.4 712.8,344.4 715.3,347.2C717.8,350.0 720.0,352.2 722.0,355.6C724.0,359.0 725.9,362.6 727.0,367.3C728.1,372.0 728.6,378.1 728.7,384.0C728.8,389.9 727.9,399.8 727.8,402.9M690.2,335.5C691.6,336.6 695.8,339.7 698.6,342.2C701.4,344.7 704.1,347.5 706.9,350.6C709.7,353.7 713.1,356.7 715.3,360.6C717.5,364.5 720.2,369.2 720.3,374.0C720.4,378.8 717.1,384.6 716.1,389.1C715.1,393.6 714.8,398.9 714.5,400.8M696.0,358.9C696.7,360.3 699.5,364.5 700.2,367.3C700.9,370.1 700.2,374.3 700.2,375.7M706.1,355.6C706.8,357.3 709.5,362.0 710.3,365.6C711.1,369.2 711.7,373.7 711.1,377.3C710.5,380.9 708.0,384.9 706.9,387.4C705.8,389.9 704.8,391.6 704.4,392.4M739.5,338.0C740.8,339.1 744.2,343.3 747.1,344.7C750.0,346.1 753.8,346.2 757.1,346.4C760.5,346.5 764.0,345.2 767.2,345.6C770.4,346.0 774.9,348.3 776.4,348.9M742.1,349.7C744.3,350.4 751.8,352.5 755.4,353.9C759.0,355.3 759.9,357.0 763.8,358.1C767.7,359.2 776.4,359.9 778.9,360.3M743.7,358.1C745.0,358.5 749.6,358.8 751.3,360.6C753.0,362.4 752.3,365.9 753.8,369.0C755.3,372.1 759.7,376.2 760.5,379.0C761.3,381.8 758.1,383.5 758.8,385.7C759.5,387.9 763.5,389.9 764.6,392.4C765.7,394.9 765.4,399.4 765.5,400.8M783.6,387.4C783.0,388.5 780.3,391.5 779.7,394.1C779.1,396.7 780.1,401.4 780.2,402.9M715.3,290.3C715.3,291.1 714.9,294.0 715.3,295.4C715.7,296.8 717.4,298.1 717.8,298.7M715.3,400.0C715.6,401.9 716.0,408.6 717.0,411.7C718.0,414.8 720.6,415.9 721.1,418.4C721.6,420.9 720.7,424.0 720.3,426.8C719.9,429.6 718.5,432.6 718.6,435.1C718.7,437.6 720.0,439.7 721.1,441.8C722.2,443.9 724.6,446.7 725.3,447.7M713.6,446.0C714.4,446.7 717.2,448.1 718.6,450.2C720.0,452.3 721.3,455.8 722.0,458.6C722.7,461.4 723.2,464.8 722.8,466.9C722.4,469.0 720.0,470.4 719.5,471.1M728.7,400.0C728.8,401.7 728.7,406.4 729.5,410.0C730.3,413.6 733.1,418.2 733.7,421.8C734.3,425.4 733.5,428.7 732.9,431.8C732.3,434.9 730.2,437.7 730.3,440.2C730.4,442.7 732.4,444.6 733.7,446.8C735.0,449.0 737.5,450.4 737.9,453.5C738.3,456.6 737.0,462.2 736.2,465.3C735.4,468.4 733.7,469.7 732.9,471.9C732.1,474.1 731.5,477.5 731.2,478.6M726.2,471.9C725.6,473.3 723.6,478.2 722.8,480.3C721.9,482.4 721.4,483.8 721.1,484.5M727.0,450.2C727.1,451.3 727.5,454.1 727.8,456.9C728.1,459.7 728.8,463.3 728.7,466.9C728.6,470.5 727.0,475.2 727.0,478.6C727.0,482.0 729.2,484.4 728.7,487.0C728.2,489.6 724.5,493.2 723.7,494.5M745.4,441.0C745.3,442.5 744.5,447.0 744.6,450.2C744.7,453.4 746.6,457.1 746.2,460.2C745.8,463.3 743.4,465.5 742.1,468.6C740.9,471.7 739.8,475.5 738.7,478.6C737.6,481.7 736.6,484.2 735.4,487.0C734.1,489.8 732.5,493.0 731.2,495.4C729.9,497.8 728.4,500.2 727.8,501.2M751.3,468.6C750.6,469.4 748.2,471.1 747.1,473.6C746.0,476.1 745.2,480.9 744.6,483.7C744.0,486.5 744.7,488.6 743.7,490.3C742.7,492.0 740.4,491.7 738.7,493.7C737.0,495.7 735.1,499.3 733.7,502.1C732.3,504.9 731.4,508.4 730.3,510.4C729.2,512.3 727.5,513.2 727.0,513.8M753.8,479.5C753.2,480.2 751.1,481.3 750.4,483.7C749.7,486.1 750.1,490.9 749.6,493.7C749.1,496.5 748.2,498.2 747.1,500.4C746.0,502.6 744.6,504.9 742.9,507.1C741.2,509.3 738.7,512.0 737.0,513.8C735.3,515.6 733.9,516.5 732.9,518.0C731.9,519.5 731.5,522.2 731.2,523.0M757.1,497.0C756.5,497.9 754.9,499.6 753.8,502.1C752.7,504.6 752.1,509.3 750.4,512.1C748.7,514.9 744.8,516.0 743.7,518.8C742.6,521.6 743.6,525.2 743.7,528.8C743.9,532.4 744.6,537.1 744.6,540.5C744.6,543.9 743.3,545.8 743.7,548.9C744.1,552.0 745.4,556.1 747.1,558.9C748.8,561.7 751.8,563.4 753.8,565.6C755.8,567.8 757.8,569.5 758.8,572.3C759.8,575.1 759.5,580.7 759.6,582.4M765.5,400.0C765.2,401.4 765.0,404.9 763.8,408.4C762.5,411.9 759.0,418.8 758.0,420.9M780.5,400.0C780.2,401.5 780.3,406.1 778.9,409.2C777.5,412.3 773.5,414.9 772.2,418.4C770.9,421.9 771.9,426.5 771.3,430.1C770.7,433.7 768.9,436.9 768.8,440.2C768.7,443.5 770.2,447.4 770.5,450.2C770.8,453.0 771.5,454.5 770.5,456.9C769.5,459.3 765.6,463.1 764.6,464.4M788.9,417.6C788.2,418.4 785.5,420.0 784.7,422.6C783.9,425.2 784.3,430.0 783.9,433.5C783.5,437.0 782.8,440.4 782.2,443.5C781.6,446.6 780.8,448.8 780.5,451.9C780.2,455.0 781.3,458.3 780.5,461.9C779.7,465.5 776.8,470.7 775.5,473.6C774.2,476.5 774.4,478.1 773.0,479.5C771.6,480.9 768.2,481.6 767.2,482.0M737.0,566.5C738.3,566.8 742.4,566.9 744.6,568.1C746.8,569.4 748.9,571.6 750.4,574.0C751.9,576.4 753.4,579.9 753.8,582.4C754.2,584.9 752.6,586.3 752.9,589.1C753.2,591.9 755.0,597.4 755.4,599.1M738.7,574.8C739.5,575.1 742.6,575.0 743.7,576.5C744.8,578.0 745.1,581.6 745.4,584.0C745.7,586.4 745.9,589.0 745.4,590.7C744.9,592.4 742.6,593.5 742.1,594.1M767.2,592.4C768.0,593.2 770.5,595.9 772.2,597.4C773.9,598.9 776.4,600.9 777.2,601.6M786.4,572.3 L788.9,576.5M790.6,583.2C790.5,584.2 789.6,587.3 789.7,589.1C789.8,590.9 791.1,593.3 791.4,594.1M772.2,504.6 L776.4,502.9M804.8,496.2 L802.3,498.7M793.9,498.7 L790.6,508.8M801.5,505.4 L798.1,512.1M795.6,515.4 L791.4,524.6M781.4,534.7C781.8,536.0 784.0,540.1 783.9,542.2C783.8,544.3 781.1,546.4 780.5,547.2M742.7,593.7 L746.0,592.0M753.5,590.0C753.8,591.4 753.9,596.3 755.2,598.4C756.5,600.5 759.2,601.1 761.1,602.5C763.0,603.9 765.8,604.3 766.9,606.7C768.0,609.1 767.4,614.0 767.8,616.8C768.2,619.6 767.9,621.5 769.4,623.5C770.9,625.5 775.3,626.8 777.0,628.5C778.7,630.2 779.5,631.5 779.5,633.5C779.5,635.5 776.9,638.2 777.0,640.2C777.1,642.2 778.8,643.9 780.3,645.2C781.8,646.5 785.2,647.7 786.2,648.2M768.6,592.5C769.3,593.3 771.4,595.9 772.8,597.5C774.2,599.1 776.3,601.2 777.0,602.0M744.3,602.5C745.6,603.6 749.8,606.3 751.9,609.2C754.0,612.1 755.4,616.6 756.9,620.1C758.4,623.6 760.7,626.9 761.1,630.2C761.5,633.6 759.0,636.6 759.4,640.2C759.8,643.8 761.5,648.5 763.6,651.9C765.7,655.2 769.4,656.9 771.9,660.3C774.4,663.6 776.8,668.4 778.6,672.0C780.4,675.6 782.2,678.4 782.8,682.0C783.4,685.6 781.3,689.8 782.0,693.7C782.7,697.6 786.2,703.5 787.0,705.4M754.4,656.6C755.5,657.8 758.7,661.3 761.1,663.6C763.5,665.9 766.9,667.5 768.6,670.3C770.3,673.1 771.4,677.2 771.1,680.3C770.8,683.4 767.6,687.3 766.9,688.7M756.0,668.3C757.1,668.8 761.3,669.1 762.7,671.1C764.1,673.1 764.8,677.6 764.4,680.3C764.0,682.9 760.9,685.9 760.2,687.0M787.0,661.9 L787.0,667.8M766.1,692.1C766.6,694.0 768.0,700.5 769.4,703.8C770.8,707.1 772.7,710.1 774.5,712.1C776.3,714.1 779.3,714.9 780.3,715.5M789.5,709.6 L790.3,715.5M797.0,709.6 L794.5,715.5M792.9,688.7C792.6,690.1 790.8,694.5 791.2,697.1C791.6,699.8 794.7,703.4 795.4,704.6M805.4,682.9 L809.6,687.9M807.1,691.2 L809.6,698.8M765.3,718.8 L771.9,719.7M790.3,590.0 L792.0,594.2M1046.0,510.0C1047.2,509.9 1050.8,510.6 1053.5,509.2C1056.2,507.8 1060.5,502.9 1061.9,501.7M1065.3,500.0C1066.7,500.8 1071.1,503.2 1073.6,505.0C1076.1,506.8 1079.2,509.9 1080.3,510.9M1092.0,510.9C1093.1,511.6 1097.5,512.7 1098.7,515.1C1100.0,517.5 1100.0,521.8 1099.5,525.1C1099.0,528.4 1097.5,532.3 1095.4,535.1C1093.3,537.9 1088.4,540.7 1087.0,541.8M1098.7,500.0C1100.1,501.1 1104.6,503.9 1107.1,506.7C1109.6,509.5 1112.1,513.9 1113.8,516.7C1115.5,519.5 1117.1,521.5 1117.1,523.4C1117.1,525.3 1115.8,526.2 1113.8,528.4C1111.8,530.6 1108.2,534.6 1105.4,536.8C1102.6,539.0 1098.4,541.0 1097.0,541.8M1117.1,500.0C1118.2,500.4 1122.0,501.9 1123.8,502.5C1125.6,503.1 1127.3,503.2 1128.0,503.3M1056.9,531.0C1057.2,530.4 1057.8,528.0 1058.6,527.6C1059.4,527.2 1061.4,528.3 1061.9,528.4M1068.9,526.8 L1071.6,526.8M1041.0,541.8C1043.1,542.0 1048.1,543.4 1053.5,543.2C1058.9,543.0 1070.2,541.1 1073.6,540.7M1039.3,550.2C1041.1,550.5 1046.4,552.0 1050.2,551.9C1054.0,551.8 1058.0,550.0 1061.9,549.4C1065.8,548.8 1071.6,548.4 1073.6,548.2M1038.5,555.2C1040.2,555.3 1045.2,556.0 1048.5,556.0C1051.8,556.0 1054.7,555.7 1058.6,555.2C1062.5,554.7 1069.7,553.5 1071.9,553.2M1037.6,560.2C1039.7,560.4 1044.5,561.4 1050.2,561.1C1055.9,560.8 1068.3,559.0 1071.9,558.6M1036.8,564.4C1039.6,564.4 1047.8,564.7 1053.5,564.4C1059.2,564.1 1068.2,563.0 1071.1,562.7M1087.8,547.7C1089.9,547.0 1095.8,544.9 1100.4,543.5C1105.0,542.1 1111.9,540.3 1115.4,539.3C1118.9,538.3 1120.3,537.9 1121.3,537.6M1087.0,551.9C1088.7,551.5 1093.1,550.5 1097.0,549.4C1100.9,548.3 1106.6,545.6 1110.4,545.2C1114.2,544.8 1118.1,546.5 1119.6,546.8M1085.3,556.0C1087.5,555.3 1094.8,552.7 1098.7,551.9C1102.6,551.1 1105.3,551.6 1108.8,551.0C1112.3,550.4 1117.8,548.9 1119.6,548.5M1082.8,560.2C1084.6,559.8 1090.2,558.5 1093.7,557.7C1097.2,556.9 1099.8,555.8 1103.7,555.2C1107.6,554.7 1114.9,554.5 1117.1,554.4M1228.4,500.0C1228.2,501.4 1228.8,505.3 1227.5,508.4C1226.2,511.5 1223.0,514.5 1220.8,518.4C1218.6,522.3 1215.9,527.9 1214.2,531.8C1212.5,535.7 1211.9,539.1 1210.8,541.8C1209.7,544.4 1208.0,546.7 1207.5,547.7M1239.3,505.0C1238.7,506.4 1237.6,510.9 1235.9,513.4C1234.2,515.9 1230.3,519.0 1229.2,520.1M1225.0,525.1C1224.0,527.3 1221.0,534.6 1219.2,538.5C1217.4,542.4 1215.0,546.8 1214.2,548.5M1234.2,530.1C1233.1,532.0 1229.5,538.4 1227.5,541.8C1225.5,545.1 1224.5,548.0 1222.5,550.2C1220.5,552.4 1216.9,554.4 1215.8,555.2M1244.3,522.6 L1237.6,525.9M1242.6,535.1C1241.2,536.5 1237.0,540.4 1234.2,543.5C1231.4,546.6 1228.7,550.7 1225.9,553.5C1223.1,556.3 1218.9,559.1 1217.5,560.2M1240.9,546.8C1239.2,548.2 1234.2,552.6 1230.9,555.2C1227.6,557.9 1224.4,562.3 1220.8,562.7C1217.2,563.1 1211.0,558.5 1209.1,557.7M1203.3,563.6C1204.5,564.1 1208.1,567.2 1210.8,566.9C1213.5,566.6 1214.7,564.1 1219.2,561.9C1223.7,559.7 1234.5,554.9 1237.6,553.5M1202.4,568.6 L1210.8,571.9M1095.4,300.0C1095.5,301.4 1096.5,305.3 1096.2,308.4C1095.9,311.5 1093.7,315.1 1093.7,318.4C1093.7,321.7 1095.0,325.5 1096.2,328.4C1097.5,331.3 1099.4,334.0 1101.2,336.0C1103.0,338.0 1106.1,339.5 1107.1,340.2M1112.1,300.0C1112.4,300.8 1113.9,302.8 1113.8,305.0C1113.7,307.2 1112.3,310.6 1111.3,313.4C1110.3,316.2 1108.1,319.3 1107.9,321.8C1107.8,324.3 1109.2,326.7 1110.4,328.4C1111.7,330.1 1114.6,331.2 1115.4,331.8M1081.1,331.0C1081.7,332.0 1083.7,334.7 1084.5,336.8C1085.3,338.9 1086.5,340.4 1086.2,343.5C1085.9,346.6 1083.5,351.3 1082.8,355.2C1082.1,359.1 1082.5,363.0 1082.0,366.9C1081.5,370.8 1079.8,375.8 1079.5,378.6C1079.2,381.4 1080.2,382.9 1080.3,383.7M1103.7,348.5C1102.6,348.9 1099.0,349.6 1097.0,351.0C1095.0,352.4 1092.8,354.2 1092.0,356.9C1091.2,359.5 1092.1,363.3 1092.0,366.9C1091.9,370.5 1092.0,374.7 1091.2,378.6C1090.4,382.5 1088.7,387.0 1087.0,390.3C1085.3,393.6 1083.0,395.9 1081.1,398.7C1079.1,401.5 1077.9,405.0 1075.3,407.1C1072.7,409.2 1067.0,410.6 1065.3,411.3M1068.6,394.5C1069.7,393.8 1073.2,391.7 1075.3,390.3C1077.4,388.9 1080.1,386.9 1081.1,386.2M1107.1,372.8C1106.3,373.8 1103.8,376.0 1102.1,378.6C1100.4,381.2 1098.7,385.1 1097.0,388.7C1095.3,392.3 1093.2,397.0 1092.0,400.4C1090.8,403.8 1090.0,406.0 1089.5,408.8C1089.0,411.6 1089.2,414.0 1088.7,417.1C1088.2,420.2 1087.2,424.1 1086.2,427.2C1085.2,430.3 1084.1,433.9 1082.8,435.5C1081.5,437.1 1079.3,436.7 1078.6,436.9M1074.5,436.4C1073.5,436.8 1071.0,437.2 1068.6,438.9C1066.2,440.6 1061.6,445.1 1060.2,446.4M1133.8,300.0C1133.7,302.2 1133.3,308.7 1133.0,313.4C1132.7,318.1 1132.1,324.2 1132.2,328.4C1132.3,332.6 1133.4,334.9 1133.8,338.5C1134.2,342.1 1134.8,346.8 1134.7,350.2C1134.6,353.6 1133.2,356.1 1133.0,358.6C1132.8,361.1 1134.5,362.5 1133.8,365.3C1133.1,368.1 1131.0,372.0 1128.8,375.3C1126.6,378.6 1122.5,382.2 1120.5,385.3C1118.5,388.4 1117.8,391.2 1117.1,393.7C1116.4,396.2 1115.5,398.4 1116.3,400.4C1117.1,402.3 1120.7,403.2 1122.1,405.4C1123.5,407.6 1124.6,411.0 1124.6,413.8C1124.6,416.6 1123.9,419.6 1122.1,422.1C1120.3,424.6 1116.3,426.4 1113.8,428.8C1111.3,431.2 1108.2,435.1 1107.1,436.4M1149.7,300.0C1149.3,302.2 1147.9,308.7 1147.2,313.4C1146.5,318.1 1145.9,323.7 1145.6,328.4C1145.3,333.1 1145.5,337.9 1145.6,341.8C1145.7,345.7 1146.4,348.3 1146.4,351.9C1146.4,355.5 1145.6,360.8 1145.6,363.6C1145.6,366.4 1147.0,366.7 1146.4,368.6C1145.8,370.6 1143.3,373.1 1142.2,375.3C1141.1,377.5 1140.2,379.5 1139.7,382.0C1139.2,384.5 1139.7,387.8 1138.9,390.3C1138.1,392.8 1135.6,394.8 1134.7,397.0C1133.8,399.2 1133.4,400.9 1133.8,403.7C1134.2,406.5 1136.5,410.4 1137.2,413.8C1137.9,417.2 1138.3,419.9 1138.0,423.8C1137.7,427.7 1136.8,433.0 1135.5,437.2C1134.2,441.4 1131.3,445.5 1130.5,448.9C1129.7,452.2 1131.5,454.9 1130.5,457.3C1129.5,459.7 1125.4,461.2 1124.6,463.1C1123.8,465.1 1124.2,466.8 1125.5,469.0C1126.8,471.2 1131.1,475.2 1132.2,476.5M1106.2,443.0C1106.5,444.3 1108.0,447.1 1107.9,450.6C1107.8,454.1 1106.4,460.6 1105.4,464.0C1104.4,467.4 1102.9,467.9 1102.1,470.7C1101.3,473.5 1101.1,478.3 1100.4,480.7C1099.7,483.1 1098.3,484.2 1097.9,484.9M1078.6,456.4C1078.0,457.4 1076.4,460.5 1075.3,462.3C1074.2,464.1 1071.4,466.1 1071.9,467.3C1072.5,468.6 1076.9,468.4 1078.6,469.8C1080.3,471.2 1081.4,473.3 1082.0,475.7C1082.6,478.1 1081.7,482.1 1082.0,484.0C1082.3,485.9 1083.4,486.8 1083.7,487.4M1083.7,458.1 L1090.3,460.6M1053.5,470.7 L1057.7,472.3M1057.7,476.5 L1051.9,481.5M1102.9,474.0C1103.9,474.4 1106.7,474.8 1108.8,476.5C1110.9,478.2 1114.0,481.4 1115.4,484.0C1116.8,486.6 1117.1,490.4 1117.1,492.4C1117.1,494.4 1115.7,495.2 1115.4,495.8M1048.5,499.9C1049.6,499.3 1052.7,498.3 1055.2,496.6C1057.7,494.9 1060.8,490.9 1063.6,489.9C1066.4,488.9 1068.8,489.4 1071.9,490.7C1075.0,491.9 1080.3,496.3 1082.0,497.4M1060.2,502.9C1061.3,502.5 1065.0,500.4 1066.9,500.4C1068.9,500.4 1071.1,502.5 1071.9,502.9M1094.5,499.1 L1102.1,501.6M1117.1,499.9 L1123.8,501.6M1241.8,381.1C1241.7,381.8 1241.5,384.3 1240.9,385.3C1240.3,386.3 1238.8,386.7 1238.4,387.0M1252.6,382.8C1252.0,384.6 1251.0,390.8 1249.3,393.7C1247.6,396.6 1244.3,397.6 1242.6,400.4C1240.9,403.2 1240.7,407.6 1239.3,410.4C1237.9,413.2 1235.5,415.2 1234.2,417.1C1232.9,419.1 1231.7,420.4 1231.7,422.1C1231.7,423.8 1233.8,426.4 1234.2,427.2M1260.0,395.4C1259.3,396.2 1257.0,397.9 1256.0,400.4C1255.0,402.9 1254.6,408.7 1254.3,410.4M1250.1,412.9C1249.1,413.5 1245.8,414.9 1244.3,416.3C1242.8,417.7 1240.9,419.8 1240.9,421.3C1240.9,422.8 1242.3,424.1 1244.3,425.5C1246.2,426.9 1250.0,428.4 1252.6,429.7C1255.2,430.9 1258.8,432.4 1260.0,433.0M1228.4,428.0C1229.4,428.7 1231.8,430.5 1234.2,432.2C1236.6,433.9 1241.2,437.0 1242.6,438.0M1239.3,428.0C1240.4,428.4 1243.8,428.7 1245.9,430.5C1248.0,432.3 1249.8,435.8 1251.8,438.9C1253.8,442.0 1256.7,447.2 1257.7,448.9M1226.7,438.9 L1233.4,440.5M1235.9,444.7C1235.1,445.4 1232.3,446.2 1230.9,448.9C1229.5,451.5 1228.3,456.4 1227.5,460.6C1226.7,464.8 1226.6,470.6 1225.9,474.0C1225.2,477.4 1223.4,477.9 1223.4,480.7C1223.4,483.5 1225.1,487.0 1225.9,490.7C1226.7,494.4 1228.0,500.9 1228.4,502.9M1245.1,442.2C1245.1,443.3 1246.1,446.1 1245.1,448.9C1244.1,451.7 1240.5,455.8 1239.3,458.9C1238.0,462.0 1238.2,464.2 1237.6,467.3C1237.0,470.4 1236.5,474.5 1235.9,477.3C1235.3,480.1 1233.9,481.9 1234.2,484.0C1234.5,486.1 1236.7,488.2 1237.6,489.9C1238.5,491.6 1239.3,491.9 1239.6,494.1C1239.9,496.3 1239.6,501.4 1239.6,502.9M1123.8,155.2 L1122.1,161.1M1127.2,156.9 L1126.3,161.1M1137.2,153.5 L1133.8,157.7M1143.0,154.4 L1141.4,161.1M1148.9,155.2 L1148.9,161.1M1135.5,164.4 L1136.4,168.6M1141.4,166.9 L1138.9,173.6M1123.0,170.3 L1130.5,175.3M1112.1,177.8C1113.2,177.4 1116.6,175.9 1118.8,175.3C1121.0,174.8 1124.4,174.6 1125.5,174.5M1126.3,178.6C1125.2,180.3 1121.1,185.6 1119.6,188.7C1118.1,191.8 1118.1,194.5 1117.1,197.0C1116.1,199.5 1114.2,200.9 1113.8,203.7C1113.4,206.5 1114.3,210.5 1114.6,213.8C1114.9,217.2 1116.1,220.7 1115.4,223.8C1114.7,226.9 1112.2,229.4 1110.4,232.2C1108.6,235.0 1106.0,237.4 1104.6,240.5C1103.2,243.6 1103.6,247.1 1102.1,250.6C1100.6,254.1 1096.2,258.1 1095.4,261.5C1094.6,264.9 1096.5,267.5 1097.0,270.7C1097.5,273.9 1099.0,277.6 1098.7,280.7C1098.4,283.8 1096.0,285.4 1095.4,289.1C1094.9,292.8 1095.4,300.6 1095.4,302.9M1131.3,184.5C1130.9,186.3 1130.0,191.9 1128.8,195.4C1127.5,198.9 1124.6,201.8 1123.8,205.4C1123.0,209.0 1123.9,213.5 1123.8,217.1C1123.7,220.7 1124.1,224.1 1123.0,227.2C1121.9,230.3 1118.9,232.4 1117.1,235.5C1115.3,238.6 1113.2,241.7 1112.1,245.6C1111.0,249.5 1110.7,254.4 1110.4,258.9C1110.1,263.3 1110.2,268.4 1110.4,272.3C1110.6,276.2 1111.8,279.6 1111.3,282.4C1110.8,285.2 1107.5,286.9 1107.1,289.1C1106.7,291.3 1107.7,293.7 1108.8,295.8C1109.9,297.9 1113.0,300.6 1113.8,301.6M1138.0,177.8C1137.6,179.9 1136.2,186.0 1135.5,190.3C1134.8,194.6 1134.1,199.5 1133.8,203.7C1133.5,207.9 1134.1,212.1 1133.8,215.4C1133.5,218.8 1132.3,221.6 1132.2,223.8C1132.1,226.0 1132.9,228.0 1133.0,228.8M1148.1,173.6C1147.7,174.2 1145.8,176.0 1145.6,177.0C1145.4,178.0 1146.9,179.1 1147.2,179.5M1163.1,164.4 L1167.3,168.6M1161.5,171.1C1162.5,171.8 1166.3,172.9 1167.3,175.3C1168.3,177.7 1168.1,182.5 1167.3,185.3C1166.5,188.1 1164.0,189.8 1162.3,192.0C1160.6,194.2 1158.1,197.6 1157.3,198.7M1153.9,208.8C1154.3,210.2 1155.8,214.0 1156.4,217.1C1157.0,220.2 1156.7,224.4 1157.3,227.2C1157.9,230.0 1159.7,230.5 1159.8,233.8C1159.9,237.1 1158.4,243.8 1158.1,247.2C1157.8,250.5 1158.5,250.8 1158.1,253.9C1157.7,257.0 1156.4,262.0 1155.6,265.6C1154.8,269.2 1153.8,272.4 1153.1,275.7C1152.4,279.0 1151.7,282.9 1151.4,285.7C1151.1,288.5 1151.8,289.9 1151.4,292.4C1151.0,294.9 1149.3,299.4 1148.9,300.8M1148.1,233.0C1148.4,234.5 1149.6,239.0 1149.7,242.2C1149.8,245.4 1150.0,249.5 1148.9,252.3C1147.8,255.1 1144.0,257.8 1143.0,258.9M1123.8,253.9C1123.9,255.3 1123.8,259.9 1124.6,262.3C1125.4,264.7 1128.1,267.1 1128.8,268.1M1124.6,250.6 L1132.2,253.1M1101.2,228.8 L1101.7,232.2M1314.2,77.0C1314.1,78.7 1314.2,84.4 1313.4,87.1C1312.6,89.8 1309.9,91.9 1309.2,92.9M1326.8,77.0C1326.4,78.7 1325.4,84.6 1324.3,87.1C1323.2,89.6 1321.3,90.3 1320.1,92.1C1318.8,93.9 1317.3,96.9 1316.8,97.9M1329.3,97.1C1329.3,98.2 1330.3,101.7 1329.3,103.8C1328.3,105.9 1325.1,108.3 1323.4,109.6C1321.7,110.8 1320.0,111.0 1319.3,111.3M1311.7,118.0 L1317.6,114.7M1315.1,127.2 L1320.9,129.7M1384.5,81.2C1383.5,81.5 1380.3,81.8 1378.7,82.9C1377.1,84.0 1375.6,86.1 1375.0,87.9C1374.4,89.7 1374.4,92.0 1375.3,93.8C1376.2,95.6 1379.5,98.0 1380.3,98.8M1344.4,101.3C1345.1,102.7 1346.8,107.2 1348.5,109.6C1350.2,112.0 1352.7,113.7 1354.4,115.5C1356.1,117.3 1357.1,119.8 1358.6,120.2C1360.1,120.6 1361.9,119.1 1363.6,118.0C1365.3,116.9 1366.8,113.9 1368.6,113.8C1370.4,113.7 1373.5,116.6 1374.5,117.2M1354.4,126.4C1355.0,126.7 1357.4,127.2 1357.7,128.0C1358.0,128.8 1356.4,130.4 1356.1,130.9M1334.3,147.3C1335.1,147.9 1337.9,148.9 1339.3,150.6C1340.7,152.3 1341.2,155.6 1342.7,157.3C1344.2,159.0 1345.8,160.4 1348.5,160.7C1351.2,161.0 1355.5,159.4 1358.6,159.0C1361.7,158.6 1365.5,158.3 1366.9,158.2M1513.3,93.8 L1518.4,94.6M1521.7,87.1 L1526.7,87.4M1521.7,77.0 L1520.9,79.5M1297.5,431.8 L1300.9,437.6M1301.7,429.3 L1305.9,436.8M1302.5,442.7 L1303.4,449.3M415.4,179.3C415.5,180.7 417.7,184.7 416.3,187.6C414.9,190.5 408.6,195.3 407.1,196.8M501.6,165.9C502.4,167.4 505.6,171.3 506.6,175.1C507.6,178.9 508.1,184.6 507.5,188.5C506.9,192.4 504.4,195.4 503.3,198.5C502.2,201.6 501.1,203.8 500.8,206.9C500.5,210.0 501.8,214.5 501.6,216.9C501.5,219.3 500.2,220.4 499.9,221.1M510.0,164.2C511.0,164.6 514.4,166.8 515.8,166.7C517.2,166.6 517.9,163.9 518.3,163.4M526.7,184.3C525.5,185.0 520.9,186.7 519.2,188.5C517.5,190.3 517.0,192.4 516.7,195.2C516.4,198.0 517.8,201.6 517.5,205.2C517.2,208.8 515.5,213.8 515.0,216.9C514.5,220.0 515.2,221.4 514.2,223.6C513.2,225.8 511.1,228.4 509.1,230.3C507.1,232.2 503.5,234.5 502.4,235.3M544.3,167.6C545.1,168.8 546.7,173.0 549.3,175.1C551.9,177.2 558.2,179.3 560.0,180.1M540.9,184.3C542.6,184.6 547.8,185.2 551.0,186.0C554.2,186.8 558.5,188.8 560.0,189.3M543.4,196.0C544.7,196.1 550.0,195.6 551.0,196.8C552.0,198.1 550.1,202.0 549.3,203.5C548.4,205.0 546.5,205.6 545.9,206.0M560.0,201.9C559.6,202.6 557.7,204.9 557.7,206.0C557.7,207.1 559.6,208.2 560.0,208.6M508.3,268.8C510.7,269.2 518.2,270.3 522.5,271.3C526.8,272.3 531.1,273.4 534.2,274.6C537.3,275.9 538.7,277.4 540.9,278.8C543.1,280.2 546.5,282.3 547.6,283.0M511.6,278.8C513.1,278.9 518.1,278.3 520.8,279.7C523.4,281.1 525.8,284.5 527.5,287.2C529.2,289.9 531.2,293.1 530.9,295.6C530.6,298.1 527.8,300.1 525.9,302.3C524.0,304.5 520.3,307.8 519.2,308.9M551.0,300.6C549.6,301.6 545.4,304.9 542.6,306.4C539.8,307.9 536.6,308.3 534.2,309.8C531.8,311.3 530.6,314.2 528.4,315.6C526.2,317.0 522.1,317.7 520.8,318.1M336.8,239.5 L341.8,237.0M339.3,248.7C340.0,248.1 341.7,247.6 343.5,245.4C345.3,243.2 349.4,238.1 350.2,235.3C351.0,232.5 348.8,229.7 348.5,228.6M345.2,253.7C345.3,252.9 344.6,250.8 346.0,248.7C347.4,246.6 351.4,243.7 353.5,241.2C355.6,238.7 357.9,236.1 358.6,233.7C359.3,231.3 358.6,229.0 357.7,227.0C356.8,225.0 354.2,222.8 353.5,221.9M346.0,258.8C346.8,259.6 349.9,261.9 351.0,263.8C352.1,265.8 352.8,268.3 352.7,270.5C352.6,272.7 350.9,275.0 350.2,277.2C349.5,279.4 349.3,281.6 348.5,283.8C347.7,286.0 346.4,288.8 345.2,290.5C343.9,292.2 341.7,293.3 341.0,293.9M353.5,255.4C354.6,255.8 358.0,258.3 360.2,257.9C362.4,257.5 364.7,254.7 366.9,252.9C369.1,251.1 372.2,248.9 373.6,247.0C375.0,245.1 375.6,243.1 375.3,241.2C375.0,239.2 372.5,236.3 371.9,235.3M355.2,251.2C354.9,250.5 353.1,248.7 353.5,247.0C353.9,245.3 356.2,243.1 357.7,241.2C359.2,239.2 361.4,237.7 362.7,235.3C364.0,232.9 364.9,228.4 365.3,227.0M363.6,242.0C363.6,241.2 365.3,239.5 366.1,239.5C366.9,239.5 368.6,241.2 368.6,242.0C368.6,242.8 366.9,244.5 366.1,244.5C365.3,244.5 363.6,242.8 363.6,242.0M364.4,265.4C364.8,264.7 365.4,262.1 366.9,261.3C368.4,260.5 372.8,260.0 373.6,260.4C374.4,260.8 372.2,263.2 371.9,263.8M368.6,216.9C368.9,218.3 369.8,223.1 370.3,225.3C370.9,227.5 371.6,229.5 371.9,230.3M375.3,209.4C375.6,210.7 376.4,214.4 377.0,216.9C377.6,219.4 378.3,222.0 378.6,224.5C378.9,227.0 379.2,230.5 378.6,232.0C378.1,233.5 375.9,233.4 375.3,233.7M380.3,208.6C380.7,210.0 382.1,214.7 382.8,216.9C383.5,219.1 384.2,219.4 384.5,221.9C384.8,224.4 384.1,229.2 384.5,232.0C384.9,234.8 385.6,237.0 387.0,238.7C388.4,240.4 391.1,240.8 392.9,242.0C394.7,243.2 396.6,244.2 397.9,246.2C399.1,248.1 400.4,251.6 400.4,253.7C400.4,255.8 399.4,257.1 397.9,258.8C396.4,260.5 392.3,263.0 391.2,263.8M391.2,276.3 L392.0,282.2M541.0,183.5C542.5,183.9 547.3,185.2 550.2,186.0C553.1,186.8 555.8,188.0 558.6,188.6C561.4,189.2 564.0,189.7 566.9,189.4C569.8,189.1 574.6,187.3 576.1,186.9M544.3,167.6C545.0,168.7 546.4,172.3 548.5,174.3C550.6,176.3 553.8,177.9 556.9,179.4C560.0,180.9 563.7,182.9 566.9,183.5C570.1,184.1 574.6,182.8 576.1,182.7M543.5,196.1C544.6,196.2 549.2,195.9 550.2,196.9C551.2,197.9 550.1,200.4 549.4,201.9C548.7,203.4 546.6,205.4 546.0,206.1M576.1,193.6C574.9,193.6 571.1,192.8 568.6,193.6C566.1,194.4 562.9,196.8 561.1,198.6C559.3,200.4 557.7,202.7 557.7,204.5C557.7,206.3 559.3,208.2 561.1,209.5C562.9,210.8 566.1,211.7 568.6,212.0C571.1,212.3 574.0,211.7 576.1,211.1C578.2,210.5 580.3,209.0 581.1,208.6M509.2,267.2C511.0,267.6 516.6,268.7 520.1,269.7C523.6,270.7 526.9,271.6 530.1,273.0C533.3,274.4 536.5,276.4 539.3,278.1C542.1,279.8 545.5,282.3 546.8,283.1M512.5,278.9C514.0,279.2 519.4,279.2 521.8,280.6C524.2,282.0 525.3,284.9 526.8,287.3C528.3,289.7 531.3,292.3 531.0,294.8C530.7,297.3 527.1,299.9 525.1,302.3C523.1,304.7 520.2,307.9 519.2,309.0M551.0,300.7C549.8,301.5 546.4,304.2 543.5,305.7C540.6,307.2 536.3,308.2 533.5,309.9C530.7,311.6 528.9,314.3 526.8,315.7C524.7,317.1 521.9,317.8 520.9,318.2M660.6,197.8C661.0,198.8 661.7,202.2 663.1,203.6C664.5,205.0 668.0,205.7 669.0,206.1M664.8,196.9C665.2,197.7 665.8,200.8 667.3,201.9C668.8,203.0 672.9,203.3 674.0,203.6M679.9,198.6 L684.0,201.9M685.7,204.5 L679.9,206.1M689.1,196.9 L692.4,198.6M1258.2,514.9C1260.5,515.3 1266.5,517.2 1271.9,517.4C1277.3,517.6 1287.6,516.4 1290.7,516.2M1255.7,521.2C1258.4,521.4 1266.1,522.6 1271.9,522.4C1277.7,522.2 1287.6,520.3 1290.7,519.9M1254.4,527.4C1257.7,527.0 1268.4,525.7 1274.4,524.9C1280.5,524.1 1288.0,522.8 1290.7,522.4M1278.2,407.5C1278.6,409.2 1279.2,414.0 1280.7,417.5C1282.2,421.0 1285.0,425.4 1286.9,428.7C1288.8,432.0 1290.2,434.4 1291.9,437.5C1293.6,440.6 1296.1,445.8 1296.9,447.5M1271.9,435.0C1272.7,436.2 1276.1,440.0 1276.9,442.5C1277.7,445.0 1277.9,447.5 1276.9,450.0C1275.9,452.5 1272.2,455.3 1270.7,457.4C1269.2,459.5 1267.6,460.7 1268.2,462.4C1268.8,464.1 1272.1,465.7 1274.4,467.4C1276.7,469.1 1279.8,470.3 1281.9,472.4C1284.0,474.5 1285.4,477.4 1286.9,479.9C1288.4,482.4 1290.1,486.1 1290.7,487.4M1284.4,425.0C1285.2,426.9 1288.2,432.4 1289.4,436.2C1290.7,439.9 1291.5,444.0 1291.9,447.5C1292.3,451.0 1292.3,454.1 1291.9,457.4C1291.5,460.7 1289.8,465.7 1289.4,467.4M1294.4,430.0C1295.5,431.7 1299.2,436.7 1300.7,440.0C1302.2,443.3 1303.0,447.5 1303.2,450.0C1303.4,452.5 1302.1,454.1 1301.9,454.9M1265.7,477.4C1266.3,478.6 1268.8,482.0 1269.4,484.9C1270.0,487.8 1269.4,493.2 1269.4,494.9M1244.4,522.4 L1238.2,527.4M1242.0,534.9C1240.8,535.9 1236.6,538.6 1234.5,541.1C1232.4,543.6 1230.3,548.4 1229.5,549.9M1207.0,547.4C1208.2,548.4 1211.6,551.7 1214.5,553.6C1217.4,555.5 1222.8,557.8 1224.5,558.6M507.0,787.9C508.2,789.1 513.0,792.9 514.5,795.4C516.0,797.9 516.1,800.0 515.7,802.9C515.3,805.8 513.0,808.7 512.0,812.9C511.0,817.1 509.9,825.4 509.5,827.9M607.4,764.9C609.0,765.4 614.1,765.9 616.9,767.9C619.7,769.9 621.9,774.2 624.4,776.7C626.9,779.2 629.2,781.5 631.9,782.9C634.6,784.3 639.2,785.0 640.7,785.4M644.4,785.4C644.0,787.1 642.1,792.1 641.9,795.4C641.7,798.7 642.2,803.1 643.2,805.4C644.2,807.7 647.4,808.6 648.2,809.2M660.7,805.9C662.2,806.2 667.8,805.9 669.4,807.9C671.0,809.9 671.0,815.0 670.6,817.9C670.2,820.8 667.1,823.1 666.9,825.4C666.7,827.7 667.3,830.5 669.4,831.7C671.5,833.0 677.7,832.7 679.4,832.9M674.4,790.4C674.8,792.1 676.3,796.4 676.9,800.4C677.5,804.4 677.7,810.0 678.1,814.2C678.5,818.4 679.2,823.5 679.4,825.4M666.9,781.7 L671.9,787.9M636.9,847.9C638.0,847.5 640.3,845.2 643.2,845.4C646.1,845.6 652.5,848.5 654.4,849.1M635.7,850.4C635.3,851.6 633.4,855.2 633.2,857.9C633.0,860.6 635.5,864.1 634.4,866.6C633.3,869.1 628.1,871.9 626.9,872.9M670.6,854.1 L675.6,857.9M680.6,744.2C680.4,745.7 679.6,750.3 679.4,753.0C679.2,755.7 679.4,759.2 679.4,760.4M458.8,861.6C460.5,860.1 466.1,856.4 468.8,852.9C471.5,849.4 473.3,843.7 475.0,840.4C476.7,837.1 478.2,834.1 478.8,832.9M486.3,832.9C485.5,835.4 483.0,842.9 481.3,847.9C479.6,852.9 478.4,857.9 476.3,862.9C474.2,867.9 471.1,874.4 468.8,877.9C466.5,881.4 463.6,883.1 462.5,884.1M491.3,862.9C490.7,864.6 487.9,870.0 487.5,872.9C487.1,875.8 487.8,878.3 488.8,880.4C489.9,882.5 493.0,884.6 493.8,885.4M466.3,902.9C468.4,903.3 475.7,904.2 478.8,905.4C481.9,906.6 483.8,908.4 485.0,910.3C486.2,912.2 486.1,915.5 486.3,916.6M488.8,915.3 L498.8,906.6M501.3,836.6 L507.0,831.7" fill="none" stroke="#505d65" stroke-width="1.9" stroke-dasharray="5.8,2.6"/><path d="M1423.0,282.9C1422.9,285.3 1422.7,292.7 1422.4,297.1C1422.1,301.6 1421.7,305.4 1421.4,309.6C1421.1,313.8 1420.9,318.0 1420.5,322.2C1420.1,326.4 1419.6,330.5 1419.1,334.7C1418.6,338.9 1418.1,343.1 1417.7,347.3C1417.3,351.5 1417.1,355.6 1416.8,359.8C1416.5,364.0 1416.2,368.2 1415.8,372.4C1415.4,376.6 1414.9,380.7 1414.4,384.9C1413.9,389.1 1413.5,393.3 1413.0,397.5C1412.5,401.7 1412.2,405.8 1411.7,410.0C1411.2,414.2 1410.9,418.7 1410.3,422.6C1409.7,426.5 1408.8,429.9 1408.1,433.5C1407.4,437.1 1406.8,441.1 1405.9,444.3C1405.0,447.5 1403.9,449.9 1402.9,452.7C1401.9,455.5 1400.8,458.6 1399.9,461.1C1399.0,463.7 1398.2,465.7 1397.3,468.0C1396.4,470.3 1395.1,473.8 1394.7,474.9M1419.5,293.5C1419.4,295.7 1419.0,302.2 1418.7,306.5C1418.4,310.8 1418.1,314.9 1417.7,319.1C1417.3,323.3 1416.8,327.4 1416.4,331.6C1416.0,335.8 1415.5,340.0 1415.1,344.2C1414.7,348.4 1414.3,352.5 1414.0,356.7C1413.7,360.9 1413.4,365.0 1413.0,369.2C1412.6,373.4 1412.2,377.6 1411.8,381.8C1411.4,386.0 1410.9,390.1 1410.4,394.3C1409.9,398.5 1409.5,402.7 1409.0,406.9C1408.5,411.1 1408.2,415.4 1407.6,419.4C1407.0,423.4 1406.3,427.0 1405.6,430.7C1404.9,434.4 1404.2,438.3 1403.4,441.6C1402.6,444.9 1401.6,447.7 1400.6,450.6C1399.6,453.5 1398.5,456.4 1397.6,459.0C1396.6,461.6 1395.8,463.9 1394.9,466.3C1394.0,468.7 1392.7,472.1 1392.3,473.2M1415.7,306.5C1415.5,308.6 1415.1,314.9 1414.7,319.1C1414.3,323.3 1413.8,327.4 1413.4,331.6C1413.0,335.8 1412.5,340.0 1412.1,344.2C1411.7,348.4 1411.3,352.5 1411.0,356.7C1410.7,360.9 1410.4,365.0 1410.0,369.2C1409.6,373.4 1409.1,377.6 1408.7,381.8C1408.3,386.0 1407.9,390.1 1407.4,394.3C1407.0,398.5 1406.5,402.7 1406.0,406.9C1405.5,411.1 1405.2,415.4 1404.6,419.4C1404.0,423.4 1403.3,427.0 1402.6,430.7C1401.9,434.4 1401.2,438.3 1400.4,441.6C1399.6,444.9 1398.6,447.7 1397.6,450.6C1396.6,453.5 1395.5,456.4 1394.6,459.0C1393.6,461.6 1392.8,463.9 1391.9,466.3C1391.0,468.7 1389.7,472.1 1389.3,473.2M1410.8,328.5C1410.6,330.6 1409.8,336.8 1409.4,341.0C1409.0,345.2 1408.6,349.4 1408.2,353.6C1407.8,357.8 1407.7,361.9 1407.3,366.1C1406.9,370.3 1406.5,374.5 1406.1,378.7C1405.7,382.9 1405.2,387.0 1404.7,391.2C1404.2,395.4 1403.8,399.6 1403.3,403.8C1402.8,408.0 1402.4,412.3 1401.9,416.3C1401.4,420.3 1400.9,424.2 1400.2,428.0C1399.5,431.8 1398.8,435.5 1398.0,438.9C1397.2,442.3 1396.4,445.5 1395.4,448.5C1394.5,451.5 1393.3,454.2 1392.3,456.9C1391.3,459.6 1390.4,462.1 1389.5,464.5C1388.6,466.9 1387.4,470.3 1387.0,471.5M1404.2,366.1C1404.0,368.2 1403.5,374.5 1403.1,378.7C1402.7,382.9 1402.2,387.0 1401.7,391.2C1401.2,395.4 1400.8,399.6 1400.3,403.8C1399.8,408.0 1399.4,412.3 1398.9,416.3C1398.4,420.3 1397.8,424.2 1397.1,428.0C1396.4,431.8 1395.7,435.5 1394.9,438.9C1394.1,442.3 1393.2,445.5 1392.3,448.5C1391.4,451.5 1390.3,454.2 1389.3,456.9C1388.3,459.6 1387.4,462.1 1386.5,464.5C1385.6,466.9 1384.4,470.3 1384.0,471.5M240.0,309.0 L250.0,300.0M243.0,314.0 L253.0,305.0M237.0,332.0 L241.0,340.0M240.0,350.0 L244.0,357.0M236.0,322.0 L246.0,318.0" fill="none" stroke="#505d65" stroke-width="2.6" stroke-dasharray="3.5,2"/><path d="M356.1,373.8C355.4,371.6 352.5,365.4 351.9,360.4C351.3,355.4 351.7,348.2 352.3,343.7C352.9,339.2 353.2,337.2 355.6,333.6C358.1,330.0 362.6,325.2 367.0,321.9C371.4,318.5 378.2,315.7 382.1,313.5C386.0,311.3 387.9,309.3 390.4,308.5C392.9,307.7 394.3,307.7 397.1,308.5C399.9,309.3 403.3,312.0 407.2,313.5C411.1,315.0 415.5,317.0 420.5,317.7C425.5,318.4 434.5,317.7 437.3,317.7M363.7,361.7C365.9,363.0 372.6,367.0 377.0,369.6C381.4,372.2 386.1,374.6 390.4,377.1C394.7,379.6 400.9,383.4 403.0,384.6M416.4,386.3C417.9,386.7 422.4,388.2 425.6,388.8C428.8,389.4 433.5,388.6 435.6,389.7C437.7,390.8 438.4,393.1 438.1,395.5C437.8,397.9 434.7,400.8 433.9,403.9C433.1,407.0 432.5,409.7 433.1,413.9C433.7,418.1 434.9,425.4 437.3,429.0C439.7,432.6 444.2,433.5 447.3,435.7C450.4,437.9 453.2,440.4 455.7,442.4C458.2,444.3 461.3,446.6 462.4,447.4M460.7,460.8 L464.0,458.3M276.1,522.8C277.9,521.0 282.9,515.2 287.0,511.9C291.1,508.5 297.0,503.9 300.4,502.7C303.8,501.4 304.7,502.9 307.1,504.4C309.5,505.9 311.8,511.8 314.6,511.9C317.4,512.0 320.7,507.9 323.8,505.3C326.9,502.7 331.5,497.6 333.0,496.0M347.2,488.5C349.4,488.1 355.9,487.1 360.6,486.0C365.4,484.9 371.8,482.9 375.7,481.8C379.6,480.7 382.6,479.7 384.0,479.3M394.1,517.8C395.2,516.8 398.0,513.4 400.8,511.9C403.6,510.4 406.4,509.0 410.8,508.9C415.2,508.8 424.7,510.7 427.5,511.1M437.6,496.0C439.3,494.5 444.2,489.4 447.6,486.8C451.0,484.2 455.6,482.0 457.7,480.2C459.8,478.4 459.6,476.7 460.0,476.0M268.6,562.1C268.6,563.2 267.8,566.3 268.3,568.8C268.9,571.3 271.3,575.8 271.9,577.2M285.3,578.9C285.9,580.6 287.3,585.0 288.7,588.9C290.1,592.8 291.8,598.4 293.7,602.3C295.6,606.2 297.6,609.5 300.4,612.3C303.2,615.1 306.5,617.5 310.4,619.0C314.3,620.5 319.3,619.8 323.8,621.5C328.3,623.2 332.3,626.3 337.2,629.1C342.1,631.9 350.5,636.8 353.1,638.3M410.0,596.4C412.1,597.5 418.5,601.0 422.5,603.1C426.5,605.2 430.1,606.9 434.2,609.0C438.3,611.1 445.1,614.6 447.3,615.7M310.4,620.0C312.6,620.1 319.3,619.3 323.8,620.8C328.3,622.3 332.4,626.3 337.2,629.2C342.0,632.1 350.0,636.6 352.6,638.1M463.3,630.3C465.3,631.4 471.2,634.6 475.1,637.0C479.0,639.4 482.6,642.7 486.8,644.5C491.0,646.3 498.0,647.2 500.2,647.8M805.6,505.7C805.3,507.6 805.1,513.5 804.0,517.1C802.9,520.7 800.3,524.4 798.9,527.2C797.5,530.0 796.0,531.2 795.6,533.8C795.2,536.4 795.4,540.9 796.4,543.0C797.4,545.1 799.4,545.3 801.5,546.4C803.6,547.5 807.3,547.9 809.0,549.7C810.7,551.5 810.5,555.1 811.5,557.3C812.5,559.4 814.7,561.7 815.3,562.6M1080.3,574.5C1082.5,574.2 1087.8,573.3 1093.7,572.8C1099.6,572.3 1111.8,571.8 1115.4,571.6M1201.6,597.9C1202.6,596.8 1204.6,593.9 1207.5,591.2C1210.4,588.6 1214.6,584.8 1219.2,582.0C1223.8,579.2 1232.4,575.8 1235.1,574.5M1249.4,558.6C1252.3,556.9 1260.4,551.9 1266.9,548.6C1273.4,545.3 1284.7,540.3 1288.2,538.6" fill="none" stroke="#000" stroke-width="3.6"/><path d="M751.3,225.9C750.6,226.9 747.5,229.7 747.1,231.8C746.7,233.9 747.5,236.5 748.8,238.5C750.0,240.5 753.6,242.9 754.6,243.8M763.5,288.7 L764.1,293.7M1033.1,584.5 L1038.1,582.3M1060.6,579.0 L1067.4,579.6M1195.4,605.7 L1198.8,606.7M1157.4,828.1C1157.1,829.1 1156.1,832.1 1155.8,833.9C1155.5,835.7 1155.5,838.1 1155.4,838.9M972.9,931.6C973.6,932.4 975.9,934.9 976.9,936.6C977.9,938.3 978.4,940.8 978.7,941.6" fill="none" stroke="#000" stroke-width="5.5"/><path d="M1432.2,239.3C1432.7,240.7 1434.5,243.8 1435.2,247.7C1435.9,251.6 1436.2,258.2 1436.5,262.7C1436.8,267.2 1437.1,272.9 1437.2,274.9M1437.2,268.7C1437.1,273.4 1436.8,288.2 1436.4,297.1C1436.0,306.0 1435.4,313.8 1434.7,322.2C1434.0,330.6 1432.9,338.9 1432.2,347.3C1431.5,355.7 1431.2,364.0 1430.5,372.4C1429.8,380.8 1428.8,389.1 1428.0,397.5C1427.2,405.9 1426.6,414.8 1425.5,422.6C1424.4,430.4 1423.0,437.9 1421.3,444.3C1419.6,450.7 1417.3,456.0 1415.5,461.1C1413.7,466.2 1411.2,472.6 1410.4,474.9M1410.4,472.0C1409.9,473.7 1408.8,478.4 1407.1,482.0C1405.4,485.6 1402.9,490.2 1400.4,493.8C1397.9,497.4 1394.8,500.7 1392.0,503.8C1389.2,506.9 1385.9,510.0 1383.7,512.2C1381.5,514.4 1379.5,516.0 1378.7,516.8" fill="none" stroke="#0a0a0a" stroke-width="2.3"/><path d="M668.1,203.6 675.7,200.3 685.7,196.9 686.5,199.4 677.3,203.6 670.7,206.1Z" fill="#505d65"/><path d="M719.2,200.3 725.0,194.4 734.2,186.9 740.1,186.0 739.3,190.2 732.6,194.4 724.2,199.4Z" fill="#505d65"/><path d="M1476.5,363.2 1480.7,359.0 1489.1,357.3 1489.9,363.2 1485.7,367.4 1480.7,366.5Z" fill="#505d65"/><path d="M1295.0,419.2 1301.7,420.1 1307.5,423.4 1306.7,429.3 1300.0,427.6 1295.0,425.9Z" fill="#505d65"/><path d="M1366.9,595.8 1373.6,593.3 1380.3,596.6 1382.0,601.7 1375.3,600.8 1368.6,599.2Z" fill="#505d65"/><g fill="#979797" stroke="#000" stroke-width="2.7" stroke-linejoin="round"><path d="M1299.4,67.0 1298.7,84.5 1303.2,94.5 1305.7,109.5 1309.4,122.0 1314.4,139.5 1318.2,151.9 1326.9,171.9 1336.9,191.9 1346.9,209.4 1356.9,225.7 1365.6,239.4 1366.9,244.4 1364.4,256.9 1366.9,269.4 1374.4,284.4 1381.9,301.9 1389.4,319.3 1395.6,334.3 1399.3,349.3 1400.6,364.3 1399.3,375.1 1396.9,390.0 1394.4,407.5 1393.1,418.7 1386.9,425.0 1380.6,435.0 1381.9,446.2 1374.4,454.9 1364.4,461.2 1351.9,464.4 1339.4,466.2 1330.6,467.9 1323.9,464.4 1323.1,457.9 1329.4,454.4 1335.6,456.2 1338.1,458.7 1334.4,454.4 1326.9,450.0 1321.9,441.2 1314.4,431.2 1310.7,421.2 1299.4,418.7 1286.9,413.7 1279.4,402.5 1276.9,390.0 1274.4,377.5 1267.3,375.1 1262.3,371.8 1257.3,361.8 1262.3,354.3 1266.0,344.3 1256.0,345.6 1252.3,351.8 1244.8,346.8 1237.3,334.3 1227.3,315.6 1221.0,306.8 1229.8,301.9 1241.0,285.6 1238.5,280.6 1232.3,281.9 1224.8,274.9 1221.0,276.9 1227.3,284.4 1219.8,291.9 1213.5,291.9 1209.8,284.4 1212.3,271.9 1217.3,256.9 1222.3,241.9 1223.5,221.9 1222.3,213.2 1214.8,203.2 1202.3,194.4 1189.8,184.4 1177.3,171.9 1164.8,156.9 1154.8,144.5 1142.3,138.2 1128.6,132.0 1112.4,134.0 1106.9,137.5 1107.4,144.0 1089.9,147.0 1072.4,154.4 1054.9,158.2 1039.9,160.7 1036.2,156.9 1037.4,151.9 1041.2,156.9 1044.9,154.4 1042.4,149.4 1034.9,143.2 1023.7,132.0 1021.2,125.7 1023.7,119.5 1017.4,120.7 1012.4,127.0 999.9,123.2 982.4,118.2 967.5,112.0 983.7,112.0 988.7,109.5 977.4,105.7 966.2,105.7 952.5,110.7 932.5,113.2 917.5,115.7 922.5,112.0 932.5,105.7 930.0,100.7 918.7,103.2 913.7,109.5 910.0,115.7 900.0,118.2 927.6,114.3 915.9,116.0 927.6,110.1 931.8,105.1 930.1,100.1 922.6,103.4 916.7,103.4 917.6,107.6 910.9,116.0 897.5,117.6 899.2,112.6 895.8,114.3 887.5,120.2 877.4,119.8 875.8,116.0 868.2,108.4 865.7,96.7 860.7,91.7 855.7,101.8 852.3,113.5 840.6,113.5 827.2,114.3 813.8,114.8 802.1,110.6 790.4,113.5 780.4,115.5 772.0,115.1 763.7,122.7 753.6,127.7 743.6,124.3 730.2,120.2 721.8,114.3 711.8,113.0 705.1,119.3 698.4,129.4 705.1,134.4 715.1,137.7 730.2,135.2 741.9,130.2 746.9,128.5 743.6,132.7 739.4,138.6 742.7,143.6 751.9,145.3 756.1,138.6 760.3,136.0 767.0,136.0 771.2,142.7 770.3,151.1 763.7,152.8 754.5,157.0 753.6,160.3 747.8,162.0 746.1,167.0 750.3,172.0 760.3,177.9 773.7,182.9 782.1,184.6 788.8,190.4 793.8,193.8 792.1,197.1 787.1,199.6 784.6,205.5 778.7,201.3 773.7,204.6 769.5,207.2 767.8,201.3 762.0,193.8 755.3,187.9 750.3,184.6 743.6,184.6 739.4,183.7 737.7,178.7 733.5,176.2 723.5,172.9 716.0,170.3 717.6,173.7 723.5,177.9 724.3,184.6 721.8,190.4 719.3,195.4 714.3,199.6 710.1,197.1 706.8,191.3 701.8,187.1 695.1,185.9 688.4,187.1 683.3,192.1 680.0,195.4 679.4,196.4 666.9,196.9 654.4,193.2 640.7,186.9 649.4,183.2 643.2,176.9 641.9,168.2 635.7,170.7 624.4,168.2 614.4,156.4 603.2,155.7 599.4,150.2 586.9,153.9 582.0,159.4 584.4,165.7 572.0,168.2 557.0,167.7 539.5,165.7 522.0,158.2 507.0,153.2 486.3,154.4 466.8,157.4 465.0,152.4 470.0,149.4 472.5,142.5 467.5,140.0 460.8,151.4 463.8,158.2 451.3,160.7 443.8,163.9 422.6,171.9 421.8,168.9 406.8,164.9 407.6,156.2 400.1,155.7 393.8,159.9 387.6,159.4 391.8,171.9 397.6,180.7 393.8,185.7 380.1,196.9 378.8,204.4 358.8,218.2 336.4,228.9 331.4,229.9 321.9,231.9 311.9,230.4 296.9,229.9 290.9,233.1 283.9,224.9 278.9,226.1 286.9,238.1 293.9,243.1 275.9,250.6 268.9,246.1 267.7,261.9 261.4,265.6 258.9,259.9 243.2,264.9 248.9,270.6 253.9,271.9 248.9,283.1 241.4,286.9 235.2,283.9 225.2,284.9 231.4,291.9 235.2,298.1 230.2,311.8 225.2,320.6 213.4,318.1 201.9,311.1 205.9,319.8 218.4,323.8 222.7,326.3 220.9,335.6 216.9,344.3 221.4,354.3 225.2,375.1 230.2,385.0 237.7,397.5 243.2,405.0 243.9,420.0 238.9,437.5 228.9,454.9 218.9,479.9 212.7,499.9 208.9,519.9 206.4,544.9 203.9,569.9 202.7,592.4 203.4,614.8 197.7,627.3 196.4,637.3 200.2,649.8 202.7,667.3 205.2,678.1 207.7,693.0 211.4,705.5 218.9,714.2 221.4,721.7 226.4,729.2 233.9,743.0 241.4,757.9 242.7,765.4 248.9,772.9 261.4,785.4 273.9,797.9 283.9,811.7 291.4,822.9 293.9,832.9 298.9,845.4 302.6,856.6 311.4,865.4 318.9,875.4 325.1,881.6 328.9,890.4 326.4,892.9 333.9,897.9 348.9,901.6 368.8,901.1 377.6,901.6 388.8,910.3 402.6,914.1 411.3,925.3 420.1,936.6 431.3,937.3 446.3,935.3 463.8,929.8 476.3,924.1 488.8,919.8 507.0,917.8 517.0,920.3 532.0,916.6 539.5,912.8 544.5,906.6 562.0,902.9 579.5,901.6 591.9,899.9 598.2,904.1 595.7,910.3 603.2,915.3 614.4,917.8 621.9,918.3 629.4,912.8 640.7,907.9 641.4,899.1 636.9,895.4 635.7,889.1 631.9,885.4 646.9,877.9 661.9,870.4 671.9,862.9 678.1,856.6 679.4,840.4 680.6,830.4 686.9,822.9 694.4,819.2 694.9,802.9 694.4,777.9 696.9,762.9 703.1,745.5 714.4,739.2 736.9,728.0 756.8,724.2 781.8,720.5 806.8,716.7 819.3,710.5 834.3,707.5 849.3,706.7 853.0,704.2 869.3,707.5 895.0,714.2 902.5,708.0 910.0,710.5 916.2,709.2 918.7,705.5 927.5,705.5 935.0,711.7 942.5,718.0 941.2,728.0 945.0,736.7 942.5,745.5 936.2,760.4 927.5,772.9 915.0,782.9 907.5,792.9 900.0,802.9 897.5,812.9 900.0,821.7 897.5,826.7 895.0,827.9 909.7,790.0 904.3,794.1 900.2,800.9 898.2,807.7 899.5,815.9 900.2,821.3 897.5,825.4 892.0,827.4 886.6,832.2 883.2,837.6 883.2,842.4 886.6,843.7 893.4,842.4 898.8,841.7 900.9,844.4 898.8,849.9 893.4,853.3 888.0,855.3 885.0,858.0 885.2,864.1 888.6,863.5 892.0,860.1 894.8,860.5 892.7,868.9 889.3,878.4 886.6,890.7 882.5,900.2 879.8,905.6 879.1,912.4 876.4,920.6 872.3,928.8 870.3,930.8 867.6,926.1 864.1,919.3 858.7,916.5 857.3,912.4 860.1,902.9 860.5,893.4 857.3,892.0 848.5,900.2 849.2,905.6 844.4,913.8 838.3,924.7 843.1,925.4 851.9,924.7 854.6,928.8 856.0,934.2 853.9,942.4 851.2,953.3 100.0,970.0 100.0,50.0 1290.0,50.0Z"/><path d="M1069.9,686.7 1074.9,681.7 1092.4,678.0 1107.4,673.6 1107.4,669.8 1103.6,659.8 1104.9,652.3 1112.4,643.6 1124.9,634.8 1144.8,627.3 1169.8,618.6 1194.8,611.1 1219.8,608.6 1239.8,602.4 1259.8,598.6 1283.0,601.1 1296.9,602.9 1311.9,602.4 1316.9,601.1 1323.1,607.3 1341.9,606.1 1359.4,605.4 1366.9,611.1 1379.4,616.1 1396.9,618.6 1411.8,622.3 1424.3,629.8 1434.3,639.8 1444.3,646.1 1454.3,651.1 1471.8,652.3 1491.8,652.3 1504.3,656.1 1521.8,664.8 1536.8,673.6 1546.8,678.1 1546.8,765.4 1536.8,764.2 1524.3,757.9 1511.8,748.0 1503.0,738.0 1499.3,721.7 1491.8,710.5 1481.8,704.2 1469.3,706.0 1454.3,708.5 1439.3,706.7 1421.8,700.5 1401.8,695.5 1386.9,688.0 1376.9,678.0 1369.4,671.1 1366.9,673.6 1341.9,673.6 1326.9,669.8 1321.9,661.1 1319.4,668.6 1310.7,672.3 1304.4,666.1 1279.4,667.3 1266.9,659.8 1259.4,652.3 1266.9,649.8 1281.9,648.6 1288.2,643.6 1286.9,637.3 1276.9,632.3 1242.0,631.8 1217.0,632.3 1204.5,639.8 1192.0,649.8 1179.5,658.6 1167.0,664.8 1157.3,664.8 1139.8,666.1 1132.3,669.8 1134.8,678.1 1133.6,678.0 1129.8,681.7 1119.9,685.5 1109.9,689.2 1099.9,693.0 1098.6,685.5 1089.9,685.5 1079.9,689.2 1072.4,690.5Z"/><path d="M1197.3,684.2 1207.3,682.5 1219.8,685.5 1224.8,693.0 1229.8,705.5 1227.3,710.5 1217.3,714.2 1204.8,716.7 1194.8,714.2 1187.3,705.5 1192.3,708.0 1198.6,707.5 1200.3,703.0 1194.8,693.0Z"/><path d="M928.7,782.9 935.0,776.7 946.2,774.2 947.5,777.9 940.0,787.9 932.5,795.4 928.7,794.2Z"/><path d="M1546.8,463.7 1526.8,462.4 1524.3,474.9 1516.8,492.4 1519.3,497.4 1506.8,502.4 1511.8,507.4 1526.8,511.2 1529.3,517.4 1546.8,529.9Z"/><path d="M1469.0,362.3 1475.7,368.2 1482.4,372.4 1489.1,369.0 1494.9,364.0 1495.8,359.0 1498.3,355.7 1504.1,359.8 1517.5,361.5 1540.9,359.8 1540.9,364.0 1517.5,366.5 1504.1,369.9 1495.8,372.4 1487.4,374.9 1481.5,373.2 1475.7,369.0Z"/><path d="M1546.8,917.8 1521.8,919.1 1514.3,926.6 1516.8,932.8 1526.8,935.3 1546.8,939.1Z"/><path d="M1305.7,855.4 1310.7,856.6 1316.9,855.9 1329.4,857.4 1326.9,862.9 1316.9,862.4 1306.9,862.9Z"/><path d="M1426.8,623.6 1434.3,626.1 1446.8,634.8 1441.8,636.1 1431.8,629.8Z"/><path d="M1489.3,642.3 1511.8,642.3 1516.8,648.6 1501.8,647.3Z"/><path d="M1519.3,649.8 1529.3,652.3 1534.3,659.8 1526.8,657.3Z"/></g><path d="M590.7,165.7 596.9,163.2 606.9,166.9 608.2,171.9 603.2,173.2 594.4,169.4Z" fill="#979797" stroke="#000" stroke-width="2.2"/><path d="M295.6,248.2 279.1,256.5 267.5,263.1 M262.6,267.2 256.0,275.5 252.7,280.4 M248.6,287.8 241.1,297.7 234.5,310.9 229.6,323.3 M382.6,196.4 393.8,189.4 403.8,183.9 M406.3,179.9 418.8,172.4 M267.7,263.1 281.4,255.6 295.1,249.9 M305.1,241.9 318.9,234.9 M252.7,280.6 257.7,273.1 263.9,266.9 M840.6,122.2 847.3,121.0 855.7,121.3 M861.5,123.0 869.1,121.8 875.8,120.2 M803.8,135.2 806.8,141.9 805.8,150.3 803.0,156.1 798.5,162.0 M813.8,121.0 823.9,124.7 M1056.1,163.9 1064.9,165.9 1082.4,157.4 M1254.8,364.3 1259.8,375.1 M1267.3,371.8 1278.5,363.1 M1382.4,453.7 1378.1,459.9 M1376.4,462.4 1370.6,468.7 1365.6,474.9 M1360.6,479.9 1355.6,484.4 M1348.1,487.9 1343.1,489.4 M1339.4,491.9 1326.9,496.2 M1309.9,494.9 1313.2,499.9 1306.9,498.7 1309.9,494.9 M1293.2,498.7 1298.2,503.7 1291.9,504.9 1293.2,498.7 M1279.4,506.2 1285.7,504.4 M1254.4,376.2 1260.7,378.7 1266.9,377.0 M946.2,726.7 949.5,734.2 M604.9,904.1 614.4,899.1 622.4,895.4 M627.4,892.9 634.9,889.1 M326.9,892.4 336.4,897.4 M340.1,899.1 350.1,902.1" fill="none" stroke="#000" stroke-width="3.4" stroke-linecap="round" stroke-linejoin="round"/><path d="M227.9,328.2 228.8,342.3 232.1,360.4 237.0,380.2 242.5,400.8 M230.2,329.1 231.2,345.6 234.5,362.1 239.5,381.9 243.9,400.8 M771.2,134.4 780.4,128.5 780.4,136.0 771.2,134.4 M1344.9,222.4 1348.1,223.9 1350.6,231.9 1356.9,239.4 1359.9,238.1 1361.9,246.9 1359.4,254.4 1355.6,246.9 1351.9,244.4 1348.1,234.4 1345.6,226.9 1344.9,222.4 M1356.9,239.4 1358.9,251.9 1366.9,269.4 1370.6,279.4 M1360.6,256.9 1368.1,271.9 M1371.9,284.4 1379.4,301.9 1388.9,326.8 M1374.4,286.9 1381.9,304.3 1390.1,325.6 M1300.7,74.5 1303.2,84.5 1304.4,93.2 M902.5,707.5 910.0,710.0 916.2,708.7 917.5,711.7 910.0,714.2 903.7,711.7 M865.5,947.8 868.9,939.0 871.6,938.6 868.2,947.8 M218.9,703.0 227.7,709.2 226.4,718.0 223.9,725.5 M217.7,680.5 228.9,700.5 233.9,708.0 231.4,718.0 226.4,729.2" fill="none" stroke="#000" stroke-width="1.5" stroke-linecap="round" stroke-linejoin="round"/>
<g stroke="#000" stroke-opacity="0.13" stroke-width="2.6" fill="none"><line x1="187.5" y1="72" x2="187.5" y2="950"/><line x1="322.5" y1="72" x2="322.5" y2="950"/><line x1="457.5" y1="72" x2="457.5" y2="950"/><line x1="592.5" y1="72" x2="592.5" y2="950"/><line x1="727.5" y1="72" x2="727.5" y2="950"/><line x1="862.5" y1="72" x2="862.5" y2="950"/><line x1="997.5" y1="72" x2="997.5" y2="950"/><line x1="1132.5" y1="72" x2="1132.5" y2="950"/><line x1="1267.5" y1="72" x2="1267.5" y2="950"/><line x1="1402.5" y1="72" x2="1402.5" y2="950"/><line x1="119" y1="814.2" x2="1538" y2="814.2"/><line x1="119" y1="679.3" x2="1538" y2="679.3"/><line x1="119" y1="544.3" x2="1538" y2="544.3"/><line x1="119" y1="409.4" x2="1538" y2="409.4"/><line x1="119" y1="274.4" x2="1538" y2="274.4"/><line x1="119" y1="139.4" x2="1538" y2="139.4"/></g>
<g stroke="#5a666e" stroke-width="1.3" fill="none"><line x1="214.0" y1="455.0" x2="220.7" y2="453.5"/><line x1="214.9" y1="457.6" x2="222.6" y2="456.1"/><line x1="215.9" y1="460.2" x2="223.0" y2="458.7"/><line x1="213.2" y1="462.8" x2="221.1" y2="461.3"/><line x1="214.2" y1="465.4" x2="222.1" y2="463.9"/><line x1="215.2" y1="468.0" x2="221.3" y2="466.5"/><line x1="212.5" y1="470.6" x2="218.5" y2="469.1"/><line x1="213.4" y1="473.2" x2="222.0" y2="471.7"/><line x1="214.4" y1="475.8" x2="221.2" y2="474.3"/><line x1="211.8" y1="478.4" x2="218.5" y2="476.9"/><line x1="212.7" y1="481.0" x2="221.7" y2="479.5"/><line x1="213.7" y1="483.6" x2="221.1" y2="482.1"/><line x1="211.0" y1="486.2" x2="219.5" y2="484.7"/><line x1="211.9" y1="488.8" x2="219.4" y2="487.3"/></g>
</g>
<rect x="119.7" y="72.5" width="1417.9" height="876.7" fill="none" stroke="#000" stroke-width="2.7"/>
<polygon points="119.8,1050.4 168.5,1020.4 168.5,1080.5" fill="#000080"/>
<polygon points="1488.5,1020.4 1537.2,1050.4 1488.5,1080.5" fill="#800000"/>
<rect x="168" y="1020.4" width="1321" height="60.1" fill="url(#jet)"/>
<polygon points="119.8,1050.4 168.5,1020.4 1488.5,1020.4 1537.2,1050.4 1488.5,1080.5 168.5,1080.5" fill="none" stroke="#000" stroke-width="2.9" stroke-linejoin="miter"/>
<g stroke="#000" stroke-width="2.9"><line x1="168.5" y1="1080" x2="168.5" y2="1098.5"/><line x1="388.5" y1="1080" x2="388.5" y2="1098.5"/><line x1="608.5" y1="1080" x2="608.5" y2="1098.5"/><line x1="828.5" y1="1080" x2="828.5" y2="1098.5"/><line x1="1048.5" y1="1080" x2="1048.5" y2="1098.5"/><line x1="1268.5" y1="1080" x2="1268.5" y2="1098.5"/><line x1="1488.5" y1="1080" x2="1488.5" y2="1098.5"/></g>
</svg>
<div class="title">GEOS-SST  and SWOT (cm) Gauss Filt. 20250804</div>
<div class="xt" style="left:125.9px">98°W</div><div class="xt" style="left:260.9px">96°W</div><div class="xt" style="left:395.9px">94°W</div><div class="xt" style="left:530.9px">92°W</div><div class="xt" style="left:665.9px">90°W</div><div class="xt" style="left:800.9px">88°W</div><div class="xt" style="left:935.9px">86°W</div><div class="xt" style="left:1070.9px">84°W</div><div class="xt" style="left:1205.9px">82°W</div><div class="xt" style="left:1340.9px">80°W</div><div class="yt" style="top:928.0px">18°N</div><div class="yt" style="top:793.0px">20°N</div><div class="yt" style="top:658.1px">22°N</div><div class="yt" style="top:523.1px">24°N</div><div class="yt" style="top:388.2px">26°N</div><div class="yt" style="top:253.2px">28°N</div><div class="yt" style="top:118.2px">30°N</div><div class="ct" style="left:128.5px">24</div><div class="ct" style="left:348.5px">25</div><div class="ct" style="left:568.5px">26</div><div class="ct" style="left:788.5px">27</div><div class="ct" style="left:1008.5px">28</div><div class="ct" style="left:1228.5px">29</div><div class="ct" style="left:1448.5px">30</div>
<div class="cl">SST (C)</div>
</body></html>
